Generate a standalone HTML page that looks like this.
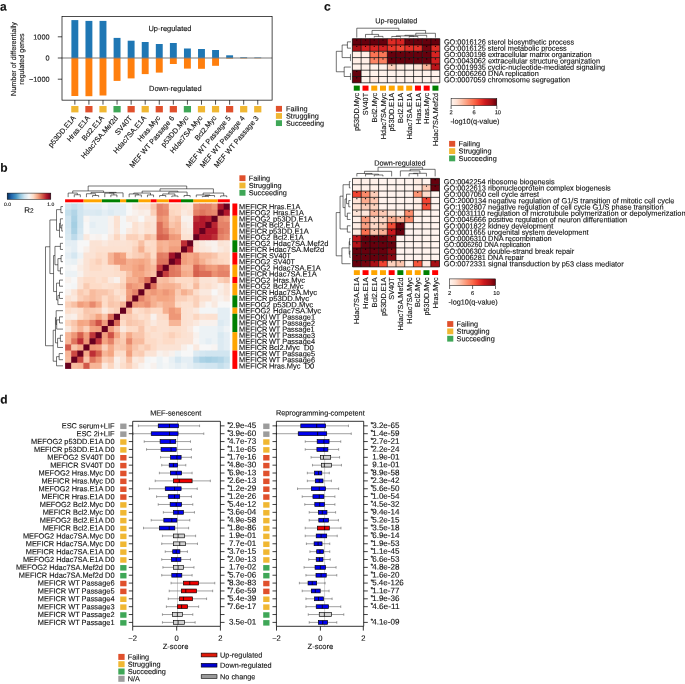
<!DOCTYPE html>
<html lang="en"><head><meta charset="utf-8"><title>Figure</title>
<style>
html,body{margin:0;padding:0;background:#fff;}
body{width:685px;height:684px;overflow:hidden;}
svg{display:block;font-family:"Liberation Sans",sans-serif;fill:#111;text-rendering:geometricPrecision;}
text{stroke:#111;stroke-width:0.12px;}
</style></head><body>
<svg width="685" height="684" viewBox="0 0 685 684">
<text x="0.10" y="10.50" font-size="12" font-weight="bold" transform="rotate(0.03 0.10 10.50)">a</text>
<rect x="71.40" y="20.10" width="6.90" height="37.90" fill="#1f77b4"/>
<rect x="71.40" y="58.00" width="6.90" height="38.00" fill="#ff7f0e"/>
<rect x="85.47" y="20.90" width="6.90" height="37.10" fill="#1f77b4"/>
<rect x="85.47" y="58.00" width="6.90" height="38.20" fill="#ff7f0e"/>
<rect x="99.54" y="20.90" width="6.90" height="37.10" fill="#1f77b4"/>
<rect x="99.54" y="58.00" width="6.90" height="37.50" fill="#ff7f0e"/>
<rect x="113.61" y="37.90" width="6.90" height="20.10" fill="#1f77b4"/>
<rect x="113.61" y="58.00" width="6.90" height="22.90" fill="#ff7f0e"/>
<rect x="127.68" y="40.70" width="6.90" height="17.30" fill="#1f77b4"/>
<rect x="127.68" y="58.00" width="6.90" height="20.40" fill="#ff7f0e"/>
<rect x="141.75" y="42.00" width="6.90" height="16.00" fill="#1f77b4"/>
<rect x="141.75" y="58.00" width="6.90" height="16.10" fill="#ff7f0e"/>
<rect x="155.82" y="44.00" width="6.90" height="14.00" fill="#1f77b4"/>
<rect x="155.82" y="58.00" width="6.90" height="14.60" fill="#ff7f0e"/>
<rect x="169.89" y="43.00" width="6.90" height="15.00" fill="#1f77b4"/>
<rect x="169.89" y="58.00" width="6.90" height="6.00" fill="#ff7f0e"/>
<rect x="183.96" y="48.50" width="6.90" height="9.50" fill="#1f77b4"/>
<rect x="183.96" y="58.00" width="6.90" height="10.60" fill="#ff7f0e"/>
<rect x="198.03" y="49.00" width="6.90" height="9.00" fill="#1f77b4"/>
<rect x="198.03" y="58.00" width="6.90" height="10.80" fill="#ff7f0e"/>
<rect x="212.10" y="50.00" width="6.90" height="8.00" fill="#1f77b4"/>
<rect x="212.10" y="58.00" width="6.90" height="7.80" fill="#ff7f0e"/>
<rect x="226.17" y="55.30" width="6.90" height="2.70" fill="#1f77b4"/>
<rect x="226.17" y="58.00" width="6.90" height="0.60" fill="#ff7f0e"/>
<rect x="240.24" y="57.30" width="6.90" height="0.70" fill="#1f77b4"/>
<rect x="240.24" y="58.00" width="6.90" height="0.40" fill="#ff7f0e"/>
<rect x="254.31" y="57.50" width="6.90" height="0.50" fill="#1f77b4"/>
<rect x="254.31" y="58.00" width="6.90" height="0.30" fill="#ff7f0e"/>
<line x1="62.00" y1="58.00" x2="272.10" y2="58.00" stroke="#7a7a7a" stroke-width="1.2"/>
<rect x="62.00" y="16.60" width="210.10" height="83.55" fill="none" stroke="#000" stroke-width="0.7"/>
<line x1="74.85" y1="100.15" x2="74.85" y2="104.65" stroke="#000" stroke-width="0.7"/>
<rect x="71.25" y="106.00" width="7.20" height="6.40" fill="#f0b732"/>
<text x="76.25" y="118.30" font-size="7.3" text-anchor="end" transform="rotate(-50 76.25 118.30)">p53DD.E1A</text>
<line x1="88.92" y1="100.15" x2="88.92" y2="104.65" stroke="#000" stroke-width="0.7"/>
<rect x="85.32" y="106.00" width="7.20" height="6.40" fill="#e0502c"/>
<text x="90.32" y="118.30" font-size="7.3" text-anchor="end" transform="rotate(-50 90.32 118.30)">Hras.E1A</text>
<line x1="102.99" y1="100.15" x2="102.99" y2="104.65" stroke="#000" stroke-width="0.7"/>
<rect x="99.39" y="106.00" width="7.20" height="6.40" fill="#f0b732"/>
<text x="104.39" y="118.30" font-size="7.3" text-anchor="end" transform="rotate(-50 104.39 118.30)">Bcl2.E1A</text>
<line x1="117.06" y1="100.15" x2="117.06" y2="104.65" stroke="#000" stroke-width="0.7"/>
<rect x="113.46" y="106.00" width="7.20" height="6.40" fill="#3fa757"/>
<text x="118.46" y="118.30" font-size="7.3" text-anchor="end" transform="rotate(-50 118.46 118.30)">Hdac7SA.Mef2d</text>
<line x1="131.13" y1="100.15" x2="131.13" y2="104.65" stroke="#000" stroke-width="0.7"/>
<rect x="127.53" y="106.00" width="7.20" height="6.40" fill="#e0502c"/>
<text x="132.53" y="118.30" font-size="7.3" text-anchor="end" transform="rotate(-50 132.53 118.30)">SV40T</text>
<line x1="145.20" y1="100.15" x2="145.20" y2="104.65" stroke="#000" stroke-width="0.7"/>
<rect x="141.60" y="106.00" width="7.20" height="6.40" fill="#f0b732"/>
<text x="146.60" y="118.30" font-size="7.3" text-anchor="end" transform="rotate(-50 146.60 118.30)">Hdac7SA.E1A</text>
<line x1="159.27" y1="100.15" x2="159.27" y2="104.65" stroke="#000" stroke-width="0.7"/>
<rect x="155.67" y="106.00" width="7.20" height="6.40" fill="#e0502c"/>
<text x="160.67" y="118.30" font-size="7.3" text-anchor="end" transform="rotate(-50 160.67 118.30)">Hras.Myc</text>
<line x1="173.34" y1="100.15" x2="173.34" y2="104.65" stroke="#000" stroke-width="0.7"/>
<rect x="169.74" y="106.00" width="7.20" height="6.40" fill="#e0502c"/>
<text x="174.74" y="118.30" font-size="7.3" text-anchor="end" transform="rotate(-50 174.74 118.30)">MEF WT Passage 6</text>
<line x1="187.41" y1="100.15" x2="187.41" y2="104.65" stroke="#000" stroke-width="0.7"/>
<rect x="183.81" y="106.00" width="7.20" height="6.40" fill="#3fa757"/>
<text x="188.81" y="118.30" font-size="7.3" text-anchor="end" transform="rotate(-50 188.81 118.30)">p53DD.Myc</text>
<line x1="201.48" y1="100.15" x2="201.48" y2="104.65" stroke="#000" stroke-width="0.7"/>
<rect x="197.88" y="106.00" width="7.20" height="6.40" fill="#f0b732"/>
<text x="202.88" y="118.30" font-size="7.3" text-anchor="end" transform="rotate(-50 202.88 118.30)">Hdac7SA.Myc</text>
<line x1="215.55" y1="100.15" x2="215.55" y2="104.65" stroke="#000" stroke-width="0.7"/>
<rect x="211.95" y="106.00" width="7.20" height="6.40" fill="#f0b732"/>
<text x="216.95" y="118.30" font-size="7.3" text-anchor="end" transform="rotate(-50 216.95 118.30)">Bcl2.Myc</text>
<line x1="229.62" y1="100.15" x2="229.62" y2="104.65" stroke="#000" stroke-width="0.7"/>
<rect x="226.02" y="106.00" width="7.20" height="6.40" fill="#e0502c"/>
<text x="231.02" y="118.30" font-size="7.3" text-anchor="end" transform="rotate(-50 231.02 118.30)">MEF WT Passage 5</text>
<line x1="243.69" y1="100.15" x2="243.69" y2="104.65" stroke="#000" stroke-width="0.7"/>
<rect x="240.09" y="106.00" width="7.20" height="6.40" fill="#f0b732"/>
<text x="245.09" y="118.30" font-size="7.3" text-anchor="end" transform="rotate(-50 245.09 118.30)">MEF WT Passage 4</text>
<line x1="257.76" y1="100.15" x2="257.76" y2="104.65" stroke="#000" stroke-width="0.7"/>
<rect x="254.16" y="106.00" width="7.20" height="6.40" fill="#f0b732"/>
<text x="259.16" y="118.30" font-size="7.3" text-anchor="end" transform="rotate(-50 259.16 118.30)">MEF WT Passage 3</text>
<line x1="57.80" y1="36.80" x2="62.00" y2="36.80" stroke="#000" stroke-width="0.7"/>
<text x="49.50" y="39.40" font-size="7.3" text-anchor="end" transform="rotate(0.03 49.50 39.40)">1000</text>
<line x1="57.80" y1="58.00" x2="62.00" y2="58.00" stroke="#000" stroke-width="0.7"/>
<text x="49.50" y="60.60" font-size="7.3" text-anchor="end" transform="rotate(0.03 49.50 60.60)">0</text>
<line x1="57.80" y1="79.20" x2="62.00" y2="79.20" stroke="#000" stroke-width="0.7"/>
<text x="49.50" y="81.80" font-size="7.3" text-anchor="end" transform="rotate(0.03 49.50 81.80)">−1000</text>
<text x="16.40" y="59.00" font-size="7.3" text-anchor="middle" transform="rotate(-90 16.40 59.00)" textLength="73.9" lengthAdjust="spacingAndGlyphs">Number of differentially</text>
<text x="24.00" y="59.00" font-size="7.3" text-anchor="middle" transform="rotate(-90 24.00 59.00)" textLength="51.3" lengthAdjust="spacingAndGlyphs">regulated genes</text>
<text x="170.00" y="30.90" font-size="7.45" text-anchor="middle" transform="rotate(0.03 170.00 30.90)">Up-regulated</text>
<text x="175.30" y="91.00" font-size="7.45" text-anchor="middle" transform="rotate(0.03 175.30 91.00)">Down-regulated</text>
<rect x="275.90" y="105.90" width="6.10" height="5.80" fill="#e0502c"/>
<text x="286.00" y="111.30" font-size="7.3" transform="rotate(0.03 286.00 111.30)">Failing</text>
<rect x="275.90" y="113.07" width="6.10" height="5.80" fill="#f0b732"/>
<text x="286.00" y="118.47" font-size="7.3" transform="rotate(0.03 286.00 118.47)">Struggling</text>
<rect x="275.90" y="120.24" width="6.10" height="5.80" fill="#3fa757"/>
<text x="286.00" y="125.64" font-size="7.3" transform="rotate(0.03 286.00 125.64)">Succeeding</text>
<text x="0.30" y="171.70" font-size="12" font-weight="bold" transform="rotate(0.03 0.30 171.70)">b</text>
<defs><linearGradient id="gRdBu" x1="0" x2="1" y1="0" y2="0"><stop offset="0%" stop-color="#053061"/><stop offset="10%" stop-color="#2166ac"/><stop offset="20%" stop-color="#4393c3"/><stop offset="30%" stop-color="#92c5de"/><stop offset="40%" stop-color="#d1e5f0"/><stop offset="50%" stop-color="#f7f7f7"/><stop offset="60%" stop-color="#fddbc7"/><stop offset="70%" stop-color="#f4a582"/><stop offset="80%" stop-color="#d6604d"/><stop offset="90%" stop-color="#b2182b"/><stop offset="100%" stop-color="#67001f"/></linearGradient><linearGradient id="gReds" x1="0" x2="1" y1="0" y2="0"><stop offset="0.0%" stop-color="#fff5f0"/><stop offset="12.5%" stop-color="#fee0d2"/><stop offset="25.0%" stop-color="#fcbba1"/><stop offset="37.5%" stop-color="#fc9272"/><stop offset="50.0%" stop-color="#fb6a4a"/><stop offset="62.5%" stop-color="#ef3b2c"/><stop offset="75.0%" stop-color="#cb181d"/><stop offset="87.5%" stop-color="#a50f15"/><stop offset="100.0%" stop-color="#67000d"/></linearGradient></defs>
<rect x="7.20" y="193.10" width="43.60" height="6.20" fill="url(#gRdBu)" stroke="#000" stroke-width="0.5"/>
<text x="7.60" y="206.10" font-size="5.0" text-anchor="middle" transform="rotate(0.03 7.60 206.10)">0.0</text>
<text x="50.80" y="206.10" font-size="5.0" text-anchor="middle" transform="rotate(0.03 50.80 206.10)">1.0</text>
<text x="24.3" y="212.7" font-size="8" transform="rotate(0.03 24 212)">R<tspan font-size="6.5">2</tspan></text>
<rect x="65.10" y="203.50" width="6.70" height="6.73" fill="#d1e5f0"/>
<rect x="71.20" y="203.50" width="6.70" height="6.73" fill="#c4dfec"/>
<rect x="77.30" y="203.50" width="6.70" height="6.73" fill="#d1e5f0"/>
<rect x="83.40" y="203.50" width="6.70" height="6.73" fill="#e4eef4"/>
<rect x="89.50" y="203.50" width="6.70" height="6.73" fill="#e4eef4"/>
<rect x="95.60" y="203.50" width="6.70" height="6.73" fill="#e4eef4"/>
<rect x="101.70" y="203.50" width="6.70" height="6.73" fill="#eff3f6"/>
<rect x="107.80" y="203.50" width="6.70" height="6.73" fill="#e4eef4"/>
<rect x="113.90" y="203.50" width="6.70" height="6.73" fill="#e4eef4"/>
<rect x="120.00" y="203.50" width="6.70" height="6.73" fill="#e4eef4"/>
<rect x="126.10" y="203.50" width="6.70" height="6.73" fill="#f7f7f7"/>
<rect x="132.20" y="203.50" width="6.70" height="6.73" fill="#fae9df"/>
<rect x="138.30" y="203.50" width="6.70" height="6.73" fill="#fbe3d5"/>
<rect x="144.40" y="203.50" width="6.70" height="6.73" fill="#fbe3d5"/>
<rect x="150.50" y="203.50" width="6.70" height="6.73" fill="#f9c5ab"/>
<rect x="156.60" y="203.50" width="6.70" height="6.73" fill="#e58268"/>
<rect x="162.70" y="203.50" width="6.70" height="6.73" fill="#eb9072"/>
<rect x="168.80" y="203.50" width="6.70" height="6.73" fill="#fddbc7"/>
<rect x="174.90" y="203.50" width="6.70" height="6.73" fill="#fddbc7"/>
<rect x="181.00" y="203.50" width="6.70" height="6.73" fill="#fbe3d5"/>
<rect x="187.10" y="203.50" width="6.70" height="6.73" fill="#fbe6da"/>
<rect x="193.20" y="203.50" width="6.70" height="6.73" fill="#eb9072"/>
<rect x="199.30" y="203.50" width="6.70" height="6.73" fill="#e58268"/>
<rect x="205.40" y="203.50" width="6.70" height="6.73" fill="#e58268"/>
<rect x="211.50" y="203.50" width="6.70" height="6.73" fill="#ee9777"/>
<rect x="217.60" y="203.50" width="6.70" height="6.73" fill="#b2182b"/>
<rect x="223.70" y="203.50" width="6.10" height="6.73" fill="#67001f"/>
<rect x="65.10" y="209.63" width="6.70" height="6.73" fill="#c4dfec"/>
<rect x="71.20" y="209.63" width="6.70" height="6.73" fill="#b2d5e7"/>
<rect x="77.30" y="209.63" width="6.70" height="6.73" fill="#d1e5f0"/>
<rect x="83.40" y="209.63" width="6.70" height="6.73" fill="#dceaf2"/>
<rect x="89.50" y="209.63" width="6.70" height="6.73" fill="#dceaf2"/>
<rect x="95.60" y="209.63" width="6.70" height="6.73" fill="#d9e9f1"/>
<rect x="101.70" y="209.63" width="6.70" height="6.73" fill="#e4eef4"/>
<rect x="107.80" y="209.63" width="6.70" height="6.73" fill="#dceaf2"/>
<rect x="113.90" y="209.63" width="6.70" height="6.73" fill="#e4eef4"/>
<rect x="120.00" y="209.63" width="6.70" height="6.73" fill="#e4eef4"/>
<rect x="126.10" y="209.63" width="6.70" height="6.73" fill="#f7f7f7"/>
<rect x="132.20" y="209.63" width="6.70" height="6.73" fill="#f8f1ed"/>
<rect x="138.30" y="209.63" width="6.70" height="6.73" fill="#f9ece4"/>
<rect x="144.40" y="209.63" width="6.70" height="6.73" fill="#f9efe9"/>
<rect x="150.50" y="209.63" width="6.70" height="6.73" fill="#fbd0b9"/>
<rect x="156.60" y="209.63" width="6.70" height="6.73" fill="#e58268"/>
<rect x="162.70" y="209.63" width="6.70" height="6.73" fill="#e8896d"/>
<rect x="168.80" y="209.63" width="6.70" height="6.73" fill="#fcd6c0"/>
<rect x="174.90" y="209.63" width="6.70" height="6.73" fill="#fddbc7"/>
<rect x="181.00" y="209.63" width="6.70" height="6.73" fill="#fae9df"/>
<rect x="187.10" y="209.63" width="6.70" height="6.73" fill="#fbe3d5"/>
<rect x="193.20" y="209.63" width="6.70" height="6.73" fill="#e58268"/>
<rect x="199.30" y="209.63" width="6.70" height="6.73" fill="#df755d"/>
<rect x="205.40" y="209.63" width="6.70" height="6.73" fill="#e58268"/>
<rect x="211.50" y="209.63" width="6.70" height="6.73" fill="#e8896d"/>
<rect x="217.60" y="209.63" width="6.70" height="6.73" fill="#67001f"/>
<rect x="223.70" y="209.63" width="6.10" height="6.73" fill="#b2182b"/>
<rect x="65.10" y="215.75" width="6.70" height="6.73" fill="#d1e5f0"/>
<rect x="71.20" y="215.75" width="6.70" height="6.73" fill="#abd2e5"/>
<rect x="77.30" y="215.75" width="6.70" height="6.73" fill="#d1e5f0"/>
<rect x="83.40" y="215.75" width="6.70" height="6.73" fill="#f8f4f2"/>
<rect x="89.50" y="215.75" width="6.70" height="6.73" fill="#ecf2f5"/>
<rect x="95.60" y="215.75" width="6.70" height="6.73" fill="#ecf2f5"/>
<rect x="101.70" y="215.75" width="6.70" height="6.73" fill="#ecf2f5"/>
<rect x="107.80" y="215.75" width="6.70" height="6.73" fill="#f8f1ed"/>
<rect x="113.90" y="215.75" width="6.70" height="6.73" fill="#fce1d1"/>
<rect x="120.00" y="215.75" width="6.70" height="6.73" fill="#f3f5f6"/>
<rect x="126.10" y="215.75" width="6.70" height="6.73" fill="#fae9df"/>
<rect x="132.20" y="215.75" width="6.70" height="6.73" fill="#f9ece4"/>
<rect x="138.30" y="215.75" width="6.70" height="6.73" fill="#f7f7f7"/>
<rect x="144.40" y="215.75" width="6.70" height="6.73" fill="#fbe6da"/>
<rect x="150.50" y="215.75" width="6.70" height="6.73" fill="#fbe6da"/>
<rect x="156.60" y="215.75" width="6.70" height="6.73" fill="#eb9072"/>
<rect x="162.70" y="215.75" width="6.70" height="6.73" fill="#f19e7d"/>
<rect x="168.80" y="215.75" width="6.70" height="6.73" fill="#fbd0b9"/>
<rect x="174.90" y="215.75" width="6.70" height="6.73" fill="#f9c5ab"/>
<rect x="181.00" y="215.75" width="6.70" height="6.73" fill="#f8f1ed"/>
<rect x="187.10" y="215.75" width="6.70" height="6.73" fill="#f8f1ed"/>
<rect x="193.20" y="215.75" width="6.70" height="6.73" fill="#bd2e35"/>
<rect x="199.30" y="215.75" width="6.70" height="6.73" fill="#b2182b"/>
<rect x="205.40" y="215.75" width="6.70" height="6.73" fill="#b92632"/>
<rect x="211.50" y="215.75" width="6.70" height="6.73" fill="#67001f"/>
<rect x="217.60" y="215.75" width="6.70" height="6.73" fill="#e8896d"/>
<rect x="223.70" y="215.75" width="6.10" height="6.73" fill="#ee9777"/>
<rect x="65.10" y="221.88" width="6.70" height="6.73" fill="#d1e5f0"/>
<rect x="71.20" y="221.88" width="6.70" height="6.73" fill="#a5cfe3"/>
<rect x="77.30" y="221.88" width="6.70" height="6.73" fill="#d1e5f0"/>
<rect x="83.40" y="221.88" width="6.70" height="6.73" fill="#f7f7f7"/>
<rect x="89.50" y="221.88" width="6.70" height="6.73" fill="#e4eef4"/>
<rect x="95.60" y="221.88" width="6.70" height="6.73" fill="#ecf2f5"/>
<rect x="101.70" y="221.88" width="6.70" height="6.73" fill="#ecf2f5"/>
<rect x="107.80" y="221.88" width="6.70" height="6.73" fill="#f8f1ed"/>
<rect x="113.90" y="221.88" width="6.70" height="6.73" fill="#fce1d1"/>
<rect x="120.00" y="221.88" width="6.70" height="6.73" fill="#f3f5f6"/>
<rect x="126.10" y="221.88" width="6.70" height="6.73" fill="#f8f4f2"/>
<rect x="132.20" y="221.88" width="6.70" height="6.73" fill="#fce1d1"/>
<rect x="138.30" y="221.88" width="6.70" height="6.73" fill="#fae9df"/>
<rect x="144.40" y="221.88" width="6.70" height="6.73" fill="#fcdecc"/>
<rect x="150.50" y="221.88" width="6.70" height="6.73" fill="#fbe3d5"/>
<rect x="156.60" y="221.88" width="6.70" height="6.73" fill="#dc6e58"/>
<rect x="162.70" y="221.88" width="6.70" height="6.73" fill="#ee9777"/>
<rect x="168.80" y="221.88" width="6.70" height="6.73" fill="#f9c5ab"/>
<rect x="174.90" y="221.88" width="6.70" height="6.73" fill="#f8bb9e"/>
<rect x="181.00" y="221.88" width="6.70" height="6.73" fill="#fae9df"/>
<rect x="187.10" y="221.88" width="6.70" height="6.73" fill="#f9efe9"/>
<rect x="193.20" y="221.88" width="6.70" height="6.73" fill="#b2182b"/>
<rect x="199.30" y="221.88" width="6.70" height="6.73" fill="#b2182b"/>
<rect x="205.40" y="221.88" width="6.70" height="6.73" fill="#67001f"/>
<rect x="211.50" y="221.88" width="6.70" height="6.73" fill="#b92632"/>
<rect x="217.60" y="221.88" width="6.70" height="6.73" fill="#e58268"/>
<rect x="223.70" y="221.88" width="6.10" height="6.73" fill="#e58268"/>
<rect x="65.10" y="228.00" width="6.70" height="6.73" fill="#d5e7f1"/>
<rect x="71.20" y="228.00" width="6.70" height="6.73" fill="#abd2e5"/>
<rect x="77.30" y="228.00" width="6.70" height="6.73" fill="#d5e7f1"/>
<rect x="83.40" y="228.00" width="6.70" height="6.73" fill="#f7f7f7"/>
<rect x="89.50" y="228.00" width="6.70" height="6.73" fill="#ecf2f5"/>
<rect x="95.60" y="228.00" width="6.70" height="6.73" fill="#ecf2f5"/>
<rect x="101.70" y="228.00" width="6.70" height="6.73" fill="#ecf2f5"/>
<rect x="107.80" y="228.00" width="6.70" height="6.73" fill="#f8f1ed"/>
<rect x="113.90" y="228.00" width="6.70" height="6.73" fill="#fbe3d5"/>
<rect x="120.00" y="228.00" width="6.70" height="6.73" fill="#f3f5f6"/>
<rect x="126.10" y="228.00" width="6.70" height="6.73" fill="#fae9df"/>
<rect x="132.20" y="228.00" width="6.70" height="6.73" fill="#fce1d1"/>
<rect x="138.30" y="228.00" width="6.70" height="6.73" fill="#fae9df"/>
<rect x="144.40" y="228.00" width="6.70" height="6.73" fill="#fce1d1"/>
<rect x="150.50" y="228.00" width="6.70" height="6.73" fill="#fbe3d5"/>
<rect x="156.60" y="228.00" width="6.70" height="6.73" fill="#dc6e58"/>
<rect x="162.70" y="228.00" width="6.70" height="6.73" fill="#e58268"/>
<rect x="168.80" y="228.00" width="6.70" height="6.73" fill="#f6b090"/>
<rect x="174.90" y="228.00" width="6.70" height="6.73" fill="#f8bb9e"/>
<rect x="181.00" y="228.00" width="6.70" height="6.73" fill="#fbe6da"/>
<rect x="187.10" y="228.00" width="6.70" height="6.73" fill="#fae9df"/>
<rect x="193.20" y="228.00" width="6.70" height="6.73" fill="#b2182b"/>
<rect x="199.30" y="228.00" width="6.70" height="6.73" fill="#67001f"/>
<rect x="205.40" y="228.00" width="6.70" height="6.73" fill="#b2182b"/>
<rect x="211.50" y="228.00" width="6.70" height="6.73" fill="#b2182b"/>
<rect x="217.60" y="228.00" width="6.70" height="6.73" fill="#df755d"/>
<rect x="223.70" y="228.00" width="6.10" height="6.73" fill="#e58268"/>
<rect x="65.10" y="234.13" width="6.70" height="6.73" fill="#d9e9f1"/>
<rect x="71.20" y="234.13" width="6.70" height="6.73" fill="#bedbeb"/>
<rect x="77.30" y="234.13" width="6.70" height="6.73" fill="#dceaf2"/>
<rect x="83.40" y="234.13" width="6.70" height="6.73" fill="#fae9df"/>
<rect x="89.50" y="234.13" width="6.70" height="6.73" fill="#f8f4f2"/>
<rect x="95.60" y="234.13" width="6.70" height="6.73" fill="#f8f1ed"/>
<rect x="101.70" y="234.13" width="6.70" height="6.73" fill="#f7f7f7"/>
<rect x="107.80" y="234.13" width="6.70" height="6.73" fill="#fae9df"/>
<rect x="113.90" y="234.13" width="6.70" height="6.73" fill="#fcd6c0"/>
<rect x="120.00" y="234.13" width="6.70" height="6.73" fill="#fae9df"/>
<rect x="126.10" y="234.13" width="6.70" height="6.73" fill="#fbd0b9"/>
<rect x="132.20" y="234.13" width="6.70" height="6.73" fill="#fbd0b9"/>
<rect x="138.30" y="234.13" width="6.70" height="6.73" fill="#fcdecc"/>
<rect x="144.40" y="234.13" width="6.70" height="6.73" fill="#f8bb9e"/>
<rect x="150.50" y="234.13" width="6.70" height="6.73" fill="#facbb2"/>
<rect x="156.60" y="234.13" width="6.70" height="6.73" fill="#d6604d"/>
<rect x="162.70" y="234.13" width="6.70" height="6.73" fill="#d96752"/>
<rect x="168.80" y="234.13" width="6.70" height="6.73" fill="#ee9777"/>
<rect x="174.90" y="234.13" width="6.70" height="6.73" fill="#f19e7d"/>
<rect x="181.00" y="234.13" width="6.70" height="6.73" fill="#fce1d1"/>
<rect x="187.10" y="234.13" width="6.70" height="6.73" fill="#fce1d1"/>
<rect x="193.20" y="234.13" width="6.70" height="6.73" fill="#67001f"/>
<rect x="199.30" y="234.13" width="6.70" height="6.73" fill="#b2182b"/>
<rect x="205.40" y="234.13" width="6.70" height="6.73" fill="#b2182b"/>
<rect x="211.50" y="234.13" width="6.70" height="6.73" fill="#bd2e35"/>
<rect x="217.60" y="234.13" width="6.70" height="6.73" fill="#e58268"/>
<rect x="223.70" y="234.13" width="6.10" height="6.73" fill="#eb9072"/>
<rect x="65.10" y="240.26" width="6.70" height="6.73" fill="#e4eef4"/>
<rect x="71.20" y="240.26" width="6.70" height="6.73" fill="#e4eef4"/>
<rect x="77.30" y="240.26" width="6.70" height="6.73" fill="#f7f7f7"/>
<rect x="83.40" y="240.26" width="6.70" height="6.73" fill="#f7f7f7"/>
<rect x="89.50" y="240.26" width="6.70" height="6.73" fill="#fbe3d5"/>
<rect x="95.60" y="240.26" width="6.70" height="6.73" fill="#fbe3d5"/>
<rect x="101.70" y="240.26" width="6.70" height="6.73" fill="#fae9df"/>
<rect x="107.80" y="240.26" width="6.70" height="6.73" fill="#fbe3d5"/>
<rect x="113.90" y="240.26" width="6.70" height="6.73" fill="#fbe3d5"/>
<rect x="120.00" y="240.26" width="6.70" height="6.73" fill="#fbe3d5"/>
<rect x="126.10" y="240.26" width="6.70" height="6.73" fill="#fce1d1"/>
<rect x="132.20" y="240.26" width="6.70" height="6.73" fill="#fddbc7"/>
<rect x="138.30" y="240.26" width="6.70" height="6.73" fill="#f8c0a4"/>
<rect x="144.40" y="240.26" width="6.70" height="6.73" fill="#fcdecc"/>
<rect x="150.50" y="240.26" width="6.70" height="6.73" fill="#fddbc7"/>
<rect x="156.60" y="240.26" width="6.70" height="6.73" fill="#f6b090"/>
<rect x="162.70" y="240.26" width="6.70" height="6.73" fill="#f7b597"/>
<rect x="168.80" y="240.26" width="6.70" height="6.73" fill="#f5aa89"/>
<rect x="174.90" y="240.26" width="6.70" height="6.73" fill="#f5aa89"/>
<rect x="181.00" y="240.26" width="6.70" height="6.73" fill="#bd2e35"/>
<rect x="187.10" y="240.26" width="6.70" height="6.73" fill="#67001f"/>
<rect x="193.20" y="240.26" width="6.70" height="6.73" fill="#fce1d1"/>
<rect x="199.30" y="240.26" width="6.70" height="6.73" fill="#fae9df"/>
<rect x="205.40" y="240.26" width="6.70" height="6.73" fill="#f9efe9"/>
<rect x="211.50" y="240.26" width="6.70" height="6.73" fill="#f8f1ed"/>
<rect x="217.60" y="240.26" width="6.70" height="6.73" fill="#fbe3d5"/>
<rect x="223.70" y="240.26" width="6.10" height="6.73" fill="#fbe6da"/>
<rect x="65.10" y="246.38" width="6.70" height="6.73" fill="#ecf2f5"/>
<rect x="71.20" y="246.38" width="6.70" height="6.73" fill="#e4eef4"/>
<rect x="77.30" y="246.38" width="6.70" height="6.73" fill="#f7f7f7"/>
<rect x="83.40" y="246.38" width="6.70" height="6.73" fill="#f9efe9"/>
<rect x="89.50" y="246.38" width="6.70" height="6.73" fill="#fbe3d5"/>
<rect x="95.60" y="246.38" width="6.70" height="6.73" fill="#fce1d1"/>
<rect x="101.70" y="246.38" width="6.70" height="6.73" fill="#fce1d1"/>
<rect x="107.80" y="246.38" width="6.70" height="6.73" fill="#fce1d1"/>
<rect x="113.90" y="246.38" width="6.70" height="6.73" fill="#fce1d1"/>
<rect x="120.00" y="246.38" width="6.70" height="6.73" fill="#fce1d1"/>
<rect x="126.10" y="246.38" width="6.70" height="6.73" fill="#fce1d1"/>
<rect x="132.20" y="246.38" width="6.70" height="6.73" fill="#fbd0b9"/>
<rect x="138.30" y="246.38" width="6.70" height="6.73" fill="#f6b090"/>
<rect x="144.40" y="246.38" width="6.70" height="6.73" fill="#fcd6c0"/>
<rect x="150.50" y="246.38" width="6.70" height="6.73" fill="#fddbc7"/>
<rect x="156.60" y="246.38" width="6.70" height="6.73" fill="#f5aa89"/>
<rect x="162.70" y="246.38" width="6.70" height="6.73" fill="#f7b597"/>
<rect x="168.80" y="246.38" width="6.70" height="6.73" fill="#f19e7d"/>
<rect x="174.90" y="246.38" width="6.70" height="6.73" fill="#f19e7d"/>
<rect x="181.00" y="246.38" width="6.70" height="6.73" fill="#67001f"/>
<rect x="187.10" y="246.38" width="6.70" height="6.73" fill="#bd2e35"/>
<rect x="193.20" y="246.38" width="6.70" height="6.73" fill="#fce1d1"/>
<rect x="199.30" y="246.38" width="6.70" height="6.73" fill="#fbe6da"/>
<rect x="205.40" y="246.38" width="6.70" height="6.73" fill="#fae9df"/>
<rect x="211.50" y="246.38" width="6.70" height="6.73" fill="#f8f1ed"/>
<rect x="217.60" y="246.38" width="6.70" height="6.73" fill="#fae9df"/>
<rect x="223.70" y="246.38" width="6.10" height="6.73" fill="#fbe3d5"/>
<rect x="65.10" y="252.51" width="6.70" height="6.73" fill="#e4eef4"/>
<rect x="71.20" y="252.51" width="6.70" height="6.73" fill="#d5e7f1"/>
<rect x="77.30" y="252.51" width="6.70" height="6.73" fill="#ecf2f5"/>
<rect x="83.40" y="252.51" width="6.70" height="6.73" fill="#fbe3d5"/>
<rect x="89.50" y="252.51" width="6.70" height="6.73" fill="#fbe3d5"/>
<rect x="95.60" y="252.51" width="6.70" height="6.73" fill="#fddbc7"/>
<rect x="101.70" y="252.51" width="6.70" height="6.73" fill="#fcdecc"/>
<rect x="107.80" y="252.51" width="6.70" height="6.73" fill="#f7b597"/>
<rect x="113.90" y="252.51" width="6.70" height="6.73" fill="#ee9777"/>
<rect x="120.00" y="252.51" width="6.70" height="6.73" fill="#f4a582"/>
<rect x="126.10" y="252.51" width="6.70" height="6.73" fill="#fddbc7"/>
<rect x="132.20" y="252.51" width="6.70" height="6.73" fill="#fbd0b9"/>
<rect x="138.30" y="252.51" width="6.70" height="6.73" fill="#facbb2"/>
<rect x="144.40" y="252.51" width="6.70" height="6.73" fill="#f8bb9e"/>
<rect x="150.50" y="252.51" width="6.70" height="6.73" fill="#fddbc7"/>
<rect x="156.60" y="252.51" width="6.70" height="6.73" fill="#e27c62"/>
<rect x="162.70" y="252.51" width="6.70" height="6.73" fill="#e58268"/>
<rect x="168.80" y="252.51" width="6.70" height="6.73" fill="#a31329"/>
<rect x="174.90" y="252.51" width="6.70" height="6.73" fill="#67001f"/>
<rect x="181.00" y="252.51" width="6.70" height="6.73" fill="#f19e7d"/>
<rect x="187.10" y="252.51" width="6.70" height="6.73" fill="#f5aa89"/>
<rect x="193.20" y="252.51" width="6.70" height="6.73" fill="#f19e7d"/>
<rect x="199.30" y="252.51" width="6.70" height="6.73" fill="#f8bb9e"/>
<rect x="205.40" y="252.51" width="6.70" height="6.73" fill="#f8bb9e"/>
<rect x="211.50" y="252.51" width="6.70" height="6.73" fill="#f9c5ab"/>
<rect x="217.60" y="252.51" width="6.70" height="6.73" fill="#fddbc7"/>
<rect x="223.70" y="252.51" width="6.10" height="6.73" fill="#fddbc7"/>
<rect x="65.10" y="258.63" width="6.70" height="6.73" fill="#ecf2f5"/>
<rect x="71.20" y="258.63" width="6.70" height="6.73" fill="#e8f0f4"/>
<rect x="77.30" y="258.63" width="6.70" height="6.73" fill="#f8f1ed"/>
<rect x="83.40" y="258.63" width="6.70" height="6.73" fill="#fbe3d5"/>
<rect x="89.50" y="258.63" width="6.70" height="6.73" fill="#fddbc7"/>
<rect x="95.60" y="258.63" width="6.70" height="6.73" fill="#fbd0b9"/>
<rect x="101.70" y="258.63" width="6.70" height="6.73" fill="#fcdecc"/>
<rect x="107.80" y="258.63" width="6.70" height="6.73" fill="#f7b597"/>
<rect x="113.90" y="258.63" width="6.70" height="6.73" fill="#ee9777"/>
<rect x="120.00" y="258.63" width="6.70" height="6.73" fill="#ee9777"/>
<rect x="126.10" y="258.63" width="6.70" height="6.73" fill="#f6b090"/>
<rect x="132.20" y="258.63" width="6.70" height="6.73" fill="#f5aa89"/>
<rect x="138.30" y="258.63" width="6.70" height="6.73" fill="#f4a582"/>
<rect x="144.40" y="258.63" width="6.70" height="6.73" fill="#f6b090"/>
<rect x="150.50" y="258.63" width="6.70" height="6.73" fill="#facbb2"/>
<rect x="156.60" y="258.63" width="6.70" height="6.73" fill="#df755d"/>
<rect x="162.70" y="258.63" width="6.70" height="6.73" fill="#df755d"/>
<rect x="168.80" y="258.63" width="6.70" height="6.73" fill="#67001f"/>
<rect x="174.90" y="258.63" width="6.70" height="6.73" fill="#a31329"/>
<rect x="181.00" y="258.63" width="6.70" height="6.73" fill="#f19e7d"/>
<rect x="187.10" y="258.63" width="6.70" height="6.73" fill="#f5aa89"/>
<rect x="193.20" y="258.63" width="6.70" height="6.73" fill="#ee9777"/>
<rect x="199.30" y="258.63" width="6.70" height="6.73" fill="#f6b090"/>
<rect x="205.40" y="258.63" width="6.70" height="6.73" fill="#f9c5ab"/>
<rect x="211.50" y="258.63" width="6.70" height="6.73" fill="#fbd0b9"/>
<rect x="217.60" y="258.63" width="6.70" height="6.73" fill="#fcd6c0"/>
<rect x="223.70" y="258.63" width="6.10" height="6.73" fill="#fddbc7"/>
<rect x="65.10" y="264.76" width="6.70" height="6.73" fill="#f3f5f6"/>
<rect x="71.20" y="264.76" width="6.70" height="6.73" fill="#f7f7f7"/>
<rect x="77.30" y="264.76" width="6.70" height="6.73" fill="#f9ece4"/>
<rect x="83.40" y="264.76" width="6.70" height="6.73" fill="#fbe3d5"/>
<rect x="89.50" y="264.76" width="6.70" height="6.73" fill="#fddbc7"/>
<rect x="95.60" y="264.76" width="6.70" height="6.73" fill="#fddbc7"/>
<rect x="101.70" y="264.76" width="6.70" height="6.73" fill="#fce1d1"/>
<rect x="107.80" y="264.76" width="6.70" height="6.73" fill="#fce1d1"/>
<rect x="113.90" y="264.76" width="6.70" height="6.73" fill="#fddbc7"/>
<rect x="120.00" y="264.76" width="6.70" height="6.73" fill="#f6b090"/>
<rect x="126.10" y="264.76" width="6.70" height="6.73" fill="#f6b090"/>
<rect x="132.20" y="264.76" width="6.70" height="6.73" fill="#f4a582"/>
<rect x="138.30" y="264.76" width="6.70" height="6.73" fill="#ee9777"/>
<rect x="144.40" y="264.76" width="6.70" height="6.73" fill="#f6b090"/>
<rect x="150.50" y="264.76" width="6.70" height="6.73" fill="#f8bb9e"/>
<rect x="156.60" y="264.76" width="6.70" height="6.73" fill="#c43c3c"/>
<rect x="162.70" y="264.76" width="6.70" height="6.73" fill="#67001f"/>
<rect x="168.80" y="264.76" width="6.70" height="6.73" fill="#df755d"/>
<rect x="174.90" y="264.76" width="6.70" height="6.73" fill="#e58268"/>
<rect x="181.00" y="264.76" width="6.70" height="6.73" fill="#f7b597"/>
<rect x="187.10" y="264.76" width="6.70" height="6.73" fill="#f7b597"/>
<rect x="193.20" y="264.76" width="6.70" height="6.73" fill="#d96752"/>
<rect x="199.30" y="264.76" width="6.70" height="6.73" fill="#e58268"/>
<rect x="205.40" y="264.76" width="6.70" height="6.73" fill="#ee9777"/>
<rect x="211.50" y="264.76" width="6.70" height="6.73" fill="#f19e7d"/>
<rect x="217.60" y="264.76" width="6.70" height="6.73" fill="#e8896d"/>
<rect x="223.70" y="264.76" width="6.10" height="6.73" fill="#eb9072"/>
<rect x="65.10" y="270.89" width="6.70" height="6.73" fill="#ecf2f5"/>
<rect x="71.20" y="270.89" width="6.70" height="6.73" fill="#ecf2f5"/>
<rect x="77.30" y="270.89" width="6.70" height="6.73" fill="#f8f1ed"/>
<rect x="83.40" y="270.89" width="6.70" height="6.73" fill="#fbe3d5"/>
<rect x="89.50" y="270.89" width="6.70" height="6.73" fill="#fce1d1"/>
<rect x="95.60" y="270.89" width="6.70" height="6.73" fill="#fce1d1"/>
<rect x="101.70" y="270.89" width="6.70" height="6.73" fill="#fce1d1"/>
<rect x="107.80" y="270.89" width="6.70" height="6.73" fill="#fce1d1"/>
<rect x="113.90" y="270.89" width="6.70" height="6.73" fill="#fcdecc"/>
<rect x="120.00" y="270.89" width="6.70" height="6.73" fill="#fddbc7"/>
<rect x="126.10" y="270.89" width="6.70" height="6.73" fill="#f8c0a4"/>
<rect x="132.20" y="270.89" width="6.70" height="6.73" fill="#f4a582"/>
<rect x="138.30" y="270.89" width="6.70" height="6.73" fill="#f4a582"/>
<rect x="144.40" y="270.89" width="6.70" height="6.73" fill="#f7b597"/>
<rect x="150.50" y="270.89" width="6.70" height="6.73" fill="#f8c0a4"/>
<rect x="156.60" y="270.89" width="6.70" height="6.73" fill="#67001f"/>
<rect x="162.70" y="270.89" width="6.70" height="6.73" fill="#c43c3c"/>
<rect x="168.80" y="270.89" width="6.70" height="6.73" fill="#df755d"/>
<rect x="174.90" y="270.89" width="6.70" height="6.73" fill="#e27c62"/>
<rect x="181.00" y="270.89" width="6.70" height="6.73" fill="#f5aa89"/>
<rect x="187.10" y="270.89" width="6.70" height="6.73" fill="#f6b090"/>
<rect x="193.20" y="270.89" width="6.70" height="6.73" fill="#d6604d"/>
<rect x="199.30" y="270.89" width="6.70" height="6.73" fill="#dc6e58"/>
<rect x="205.40" y="270.89" width="6.70" height="6.73" fill="#dc6e58"/>
<rect x="211.50" y="270.89" width="6.70" height="6.73" fill="#eb9072"/>
<rect x="217.60" y="270.89" width="6.70" height="6.73" fill="#e58268"/>
<rect x="223.70" y="270.89" width="6.10" height="6.73" fill="#e58268"/>
<rect x="65.10" y="277.01" width="6.70" height="6.73" fill="#f8f1ed"/>
<rect x="71.20" y="277.01" width="6.70" height="6.73" fill="#f7f7f7"/>
<rect x="77.30" y="277.01" width="6.70" height="6.73" fill="#fbe3d5"/>
<rect x="83.40" y="277.01" width="6.70" height="6.73" fill="#fddbc7"/>
<rect x="89.50" y="277.01" width="6.70" height="6.73" fill="#fddbc7"/>
<rect x="95.60" y="277.01" width="6.70" height="6.73" fill="#fce1d1"/>
<rect x="101.70" y="277.01" width="6.70" height="6.73" fill="#fddbc7"/>
<rect x="107.80" y="277.01" width="6.70" height="6.73" fill="#fae9df"/>
<rect x="113.90" y="277.01" width="6.70" height="6.73" fill="#f8f1ed"/>
<rect x="120.00" y="277.01" width="6.70" height="6.73" fill="#fddbc7"/>
<rect x="126.10" y="277.01" width="6.70" height="6.73" fill="#f6b090"/>
<rect x="132.20" y="277.01" width="6.70" height="6.73" fill="#f6b090"/>
<rect x="138.30" y="277.01" width="6.70" height="6.73" fill="#ee9777"/>
<rect x="144.40" y="277.01" width="6.70" height="6.73" fill="#dc6e58"/>
<rect x="150.50" y="277.01" width="6.70" height="6.73" fill="#67001f"/>
<rect x="156.60" y="277.01" width="6.70" height="6.73" fill="#f8c0a4"/>
<rect x="162.70" y="277.01" width="6.70" height="6.73" fill="#f8bb9e"/>
<rect x="168.80" y="277.01" width="6.70" height="6.73" fill="#facbb2"/>
<rect x="174.90" y="277.01" width="6.70" height="6.73" fill="#fddbc7"/>
<rect x="181.00" y="277.01" width="6.70" height="6.73" fill="#fddbc7"/>
<rect x="187.10" y="277.01" width="6.70" height="6.73" fill="#fddbc7"/>
<rect x="193.20" y="277.01" width="6.70" height="6.73" fill="#facbb2"/>
<rect x="199.30" y="277.01" width="6.70" height="6.73" fill="#fbe3d5"/>
<rect x="205.40" y="277.01" width="6.70" height="6.73" fill="#fbe3d5"/>
<rect x="211.50" y="277.01" width="6.70" height="6.73" fill="#fbe6da"/>
<rect x="217.60" y="277.01" width="6.70" height="6.73" fill="#fbd0b9"/>
<rect x="223.70" y="277.01" width="6.10" height="6.73" fill="#f9c5ab"/>
<rect x="65.10" y="283.14" width="6.70" height="6.73" fill="#f7f7f7"/>
<rect x="71.20" y="283.14" width="6.70" height="6.73" fill="#f3f5f6"/>
<rect x="77.30" y="283.14" width="6.70" height="6.73" fill="#fbe3d5"/>
<rect x="83.40" y="283.14" width="6.70" height="6.73" fill="#facbb2"/>
<rect x="89.50" y="283.14" width="6.70" height="6.73" fill="#fddbc7"/>
<rect x="95.60" y="283.14" width="6.70" height="6.73" fill="#fddbc7"/>
<rect x="101.70" y="283.14" width="6.70" height="6.73" fill="#fce1d1"/>
<rect x="107.80" y="283.14" width="6.70" height="6.73" fill="#fcdecc"/>
<rect x="113.90" y="283.14" width="6.70" height="6.73" fill="#fddbc7"/>
<rect x="120.00" y="283.14" width="6.70" height="6.73" fill="#fbd0b9"/>
<rect x="126.10" y="283.14" width="6.70" height="6.73" fill="#eb9072"/>
<rect x="132.20" y="283.14" width="6.70" height="6.73" fill="#f19e7d"/>
<rect x="138.30" y="283.14" width="6.70" height="6.73" fill="#f4a582"/>
<rect x="144.40" y="283.14" width="6.70" height="6.73" fill="#67001f"/>
<rect x="150.50" y="283.14" width="6.70" height="6.73" fill="#dc6e58"/>
<rect x="156.60" y="283.14" width="6.70" height="6.73" fill="#f7b597"/>
<rect x="162.70" y="283.14" width="6.70" height="6.73" fill="#f6b090"/>
<rect x="168.80" y="283.14" width="6.70" height="6.73" fill="#f6b090"/>
<rect x="174.90" y="283.14" width="6.70" height="6.73" fill="#f8bb9e"/>
<rect x="181.00" y="283.14" width="6.70" height="6.73" fill="#fcd6c0"/>
<rect x="187.10" y="283.14" width="6.70" height="6.73" fill="#fcdecc"/>
<rect x="193.20" y="283.14" width="6.70" height="6.73" fill="#f8bb9e"/>
<rect x="199.30" y="283.14" width="6.70" height="6.73" fill="#fce1d1"/>
<rect x="205.40" y="283.14" width="6.70" height="6.73" fill="#fcdecc"/>
<rect x="211.50" y="283.14" width="6.70" height="6.73" fill="#fbe6da"/>
<rect x="217.60" y="283.14" width="6.70" height="6.73" fill="#f9efe9"/>
<rect x="223.70" y="283.14" width="6.10" height="6.73" fill="#fbe3d5"/>
<rect x="65.10" y="289.26" width="6.70" height="6.73" fill="#f8f1ed"/>
<rect x="71.20" y="289.26" width="6.70" height="6.73" fill="#fbe3d5"/>
<rect x="77.30" y="289.26" width="6.70" height="6.73" fill="#facbb2"/>
<rect x="83.40" y="289.26" width="6.70" height="6.73" fill="#fcd6c0"/>
<rect x="89.50" y="289.26" width="6.70" height="6.73" fill="#f8bb9e"/>
<rect x="95.60" y="289.26" width="6.70" height="6.73" fill="#f9c5ab"/>
<rect x="101.70" y="289.26" width="6.70" height="6.73" fill="#f9c5ab"/>
<rect x="107.80" y="289.26" width="6.70" height="6.73" fill="#fbd0b9"/>
<rect x="113.90" y="289.26" width="6.70" height="6.73" fill="#fce1d1"/>
<rect x="120.00" y="289.26" width="6.70" height="6.73" fill="#fddbc7"/>
<rect x="126.10" y="289.26" width="6.70" height="6.73" fill="#f19e7d"/>
<rect x="132.20" y="289.26" width="6.70" height="6.73" fill="#e58268"/>
<rect x="138.30" y="289.26" width="6.70" height="6.73" fill="#67001f"/>
<rect x="144.40" y="289.26" width="6.70" height="6.73" fill="#f4a582"/>
<rect x="150.50" y="289.26" width="6.70" height="6.73" fill="#ee9777"/>
<rect x="156.60" y="289.26" width="6.70" height="6.73" fill="#f4a582"/>
<rect x="162.70" y="289.26" width="6.70" height="6.73" fill="#ee9777"/>
<rect x="168.80" y="289.26" width="6.70" height="6.73" fill="#f4a582"/>
<rect x="174.90" y="289.26" width="6.70" height="6.73" fill="#facbb2"/>
<rect x="181.00" y="289.26" width="6.70" height="6.73" fill="#f6b090"/>
<rect x="187.10" y="289.26" width="6.70" height="6.73" fill="#f8c0a4"/>
<rect x="193.20" y="289.26" width="6.70" height="6.73" fill="#fcdecc"/>
<rect x="199.30" y="289.26" width="6.70" height="6.73" fill="#fae9df"/>
<rect x="205.40" y="289.26" width="6.70" height="6.73" fill="#fae9df"/>
<rect x="211.50" y="289.26" width="6.70" height="6.73" fill="#f7f7f7"/>
<rect x="217.60" y="289.26" width="6.70" height="6.73" fill="#f9ece4"/>
<rect x="223.70" y="289.26" width="6.10" height="6.73" fill="#fbe3d5"/>
<rect x="65.10" y="295.39" width="6.70" height="6.73" fill="#fbe3d5"/>
<rect x="71.20" y="295.39" width="6.70" height="6.73" fill="#fae9df"/>
<rect x="77.30" y="295.39" width="6.70" height="6.73" fill="#fbd0b9"/>
<rect x="83.40" y="295.39" width="6.70" height="6.73" fill="#f9c5ab"/>
<rect x="89.50" y="295.39" width="6.70" height="6.73" fill="#f8bb9e"/>
<rect x="95.60" y="295.39" width="6.70" height="6.73" fill="#f9c5ab"/>
<rect x="101.70" y="295.39" width="6.70" height="6.73" fill="#fddbc7"/>
<rect x="107.80" y="295.39" width="6.70" height="6.73" fill="#facbb2"/>
<rect x="113.90" y="295.39" width="6.70" height="6.73" fill="#fcd6c0"/>
<rect x="120.00" y="295.39" width="6.70" height="6.73" fill="#fce1d1"/>
<rect x="126.10" y="295.39" width="6.70" height="6.73" fill="#ee9777"/>
<rect x="132.20" y="295.39" width="6.70" height="6.73" fill="#67001f"/>
<rect x="138.30" y="295.39" width="6.70" height="6.73" fill="#e58268"/>
<rect x="144.40" y="295.39" width="6.70" height="6.73" fill="#f19e7d"/>
<rect x="150.50" y="295.39" width="6.70" height="6.73" fill="#f6b090"/>
<rect x="156.60" y="295.39" width="6.70" height="6.73" fill="#f4a582"/>
<rect x="162.70" y="295.39" width="6.70" height="6.73" fill="#f4a582"/>
<rect x="168.80" y="295.39" width="6.70" height="6.73" fill="#f5aa89"/>
<rect x="174.90" y="295.39" width="6.70" height="6.73" fill="#fbd0b9"/>
<rect x="181.00" y="295.39" width="6.70" height="6.73" fill="#fbd0b9"/>
<rect x="187.10" y="295.39" width="6.70" height="6.73" fill="#fddbc7"/>
<rect x="193.20" y="295.39" width="6.70" height="6.73" fill="#fbd0b9"/>
<rect x="199.30" y="295.39" width="6.70" height="6.73" fill="#fce1d1"/>
<rect x="205.40" y="295.39" width="6.70" height="6.73" fill="#fce1d1"/>
<rect x="211.50" y="295.39" width="6.70" height="6.73" fill="#f9ece4"/>
<rect x="217.60" y="295.39" width="6.70" height="6.73" fill="#f8f1ed"/>
<rect x="223.70" y="295.39" width="6.10" height="6.73" fill="#fae9df"/>
<rect x="65.10" y="301.51" width="6.70" height="6.73" fill="#fbd0b9"/>
<rect x="71.20" y="301.51" width="6.70" height="6.73" fill="#f8c0a4"/>
<rect x="77.30" y="301.51" width="6.70" height="6.73" fill="#f19e7d"/>
<rect x="83.40" y="301.51" width="6.70" height="6.73" fill="#f5aa89"/>
<rect x="89.50" y="301.51" width="6.70" height="6.73" fill="#e8896d"/>
<rect x="95.60" y="301.51" width="6.70" height="6.73" fill="#f5aa89"/>
<rect x="101.70" y="301.51" width="6.70" height="6.73" fill="#fddbc7"/>
<rect x="107.80" y="301.51" width="6.70" height="6.73" fill="#f9c5ab"/>
<rect x="113.90" y="301.51" width="6.70" height="6.73" fill="#facbb2"/>
<rect x="120.00" y="301.51" width="6.70" height="6.73" fill="#f7b597"/>
<rect x="126.10" y="301.51" width="6.70" height="6.73" fill="#67001f"/>
<rect x="132.20" y="301.51" width="6.70" height="6.73" fill="#ee9777"/>
<rect x="138.30" y="301.51" width="6.70" height="6.73" fill="#f19e7d"/>
<rect x="144.40" y="301.51" width="6.70" height="6.73" fill="#eb9072"/>
<rect x="150.50" y="301.51" width="6.70" height="6.73" fill="#f6b090"/>
<rect x="156.60" y="301.51" width="6.70" height="6.73" fill="#f8c0a4"/>
<rect x="162.70" y="301.51" width="6.70" height="6.73" fill="#f6b090"/>
<rect x="168.80" y="301.51" width="6.70" height="6.73" fill="#f6b090"/>
<rect x="174.90" y="301.51" width="6.70" height="6.73" fill="#fddbc7"/>
<rect x="181.00" y="301.51" width="6.70" height="6.73" fill="#fce1d1"/>
<rect x="187.10" y="301.51" width="6.70" height="6.73" fill="#fce1d1"/>
<rect x="193.20" y="301.51" width="6.70" height="6.73" fill="#fbd0b9"/>
<rect x="199.30" y="301.51" width="6.70" height="6.73" fill="#fae9df"/>
<rect x="205.40" y="301.51" width="6.70" height="6.73" fill="#f8f4f2"/>
<rect x="211.50" y="301.51" width="6.70" height="6.73" fill="#fae9df"/>
<rect x="217.60" y="301.51" width="6.70" height="6.73" fill="#f7f7f7"/>
<rect x="223.70" y="301.51" width="6.10" height="6.73" fill="#f7f7f7"/>
<rect x="65.10" y="307.64" width="6.70" height="6.73" fill="#fcdecc"/>
<rect x="71.20" y="307.64" width="6.70" height="6.73" fill="#fbe3d5"/>
<rect x="77.30" y="307.64" width="6.70" height="6.73" fill="#fcdecc"/>
<rect x="83.40" y="307.64" width="6.70" height="6.73" fill="#f9c5ab"/>
<rect x="89.50" y="307.64" width="6.70" height="6.73" fill="#facbb2"/>
<rect x="95.60" y="307.64" width="6.70" height="6.73" fill="#fbd0b9"/>
<rect x="101.70" y="307.64" width="6.70" height="6.73" fill="#fae9df"/>
<rect x="107.80" y="307.64" width="6.70" height="6.73" fill="#fddbc7"/>
<rect x="113.90" y="307.64" width="6.70" height="6.73" fill="#fbd0b9"/>
<rect x="120.00" y="307.64" width="6.70" height="6.73" fill="#67001f"/>
<rect x="126.10" y="307.64" width="6.70" height="6.73" fill="#f7b597"/>
<rect x="132.20" y="307.64" width="6.70" height="6.73" fill="#fce1d1"/>
<rect x="138.30" y="307.64" width="6.70" height="6.73" fill="#fddbc7"/>
<rect x="144.40" y="307.64" width="6.70" height="6.73" fill="#fbd0b9"/>
<rect x="150.50" y="307.64" width="6.70" height="6.73" fill="#fddbc7"/>
<rect x="156.60" y="307.64" width="6.70" height="6.73" fill="#fddbc7"/>
<rect x="162.70" y="307.64" width="6.70" height="6.73" fill="#f6b090"/>
<rect x="168.80" y="307.64" width="6.70" height="6.73" fill="#ee9777"/>
<rect x="174.90" y="307.64" width="6.70" height="6.73" fill="#f4a582"/>
<rect x="181.00" y="307.64" width="6.70" height="6.73" fill="#fce1d1"/>
<rect x="187.10" y="307.64" width="6.70" height="6.73" fill="#fbe3d5"/>
<rect x="193.20" y="307.64" width="6.70" height="6.73" fill="#fae9df"/>
<rect x="199.30" y="307.64" width="6.70" height="6.73" fill="#f3f5f6"/>
<rect x="205.40" y="307.64" width="6.70" height="6.73" fill="#f3f5f6"/>
<rect x="211.50" y="307.64" width="6.70" height="6.73" fill="#f3f5f6"/>
<rect x="217.60" y="307.64" width="6.70" height="6.73" fill="#e4eef4"/>
<rect x="223.70" y="307.64" width="6.10" height="6.73" fill="#e4eef4"/>
<rect x="65.10" y="313.77" width="6.70" height="6.73" fill="#f9ece4"/>
<rect x="71.20" y="313.77" width="6.70" height="6.73" fill="#f9efe9"/>
<rect x="77.30" y="313.77" width="6.70" height="6.73" fill="#fddbc7"/>
<rect x="83.40" y="313.77" width="6.70" height="6.73" fill="#facbb2"/>
<rect x="89.50" y="313.77" width="6.70" height="6.73" fill="#f8c0a4"/>
<rect x="95.60" y="313.77" width="6.70" height="6.73" fill="#f4a582"/>
<rect x="101.70" y="313.77" width="6.70" height="6.73" fill="#f9c5ab"/>
<rect x="107.80" y="313.77" width="6.70" height="6.73" fill="#dc6e58"/>
<rect x="113.90" y="313.77" width="6.70" height="6.73" fill="#67001f"/>
<rect x="120.00" y="313.77" width="6.70" height="6.73" fill="#fbd0b9"/>
<rect x="126.10" y="313.77" width="6.70" height="6.73" fill="#facbb2"/>
<rect x="132.20" y="313.77" width="6.70" height="6.73" fill="#fcd6c0"/>
<rect x="138.30" y="313.77" width="6.70" height="6.73" fill="#fce1d1"/>
<rect x="144.40" y="313.77" width="6.70" height="6.73" fill="#fddbc7"/>
<rect x="150.50" y="313.77" width="6.70" height="6.73" fill="#f8f1ed"/>
<rect x="156.60" y="313.77" width="6.70" height="6.73" fill="#fcdecc"/>
<rect x="162.70" y="313.77" width="6.70" height="6.73" fill="#fddbc7"/>
<rect x="168.80" y="313.77" width="6.70" height="6.73" fill="#ee9777"/>
<rect x="174.90" y="313.77" width="6.70" height="6.73" fill="#ee9777"/>
<rect x="181.00" y="313.77" width="6.70" height="6.73" fill="#fce1d1"/>
<rect x="187.10" y="313.77" width="6.70" height="6.73" fill="#fbe3d5"/>
<rect x="193.20" y="313.77" width="6.70" height="6.73" fill="#fcd6c0"/>
<rect x="199.30" y="313.77" width="6.70" height="6.73" fill="#fbe3d5"/>
<rect x="205.40" y="313.77" width="6.70" height="6.73" fill="#fce1d1"/>
<rect x="211.50" y="313.77" width="6.70" height="6.73" fill="#fce1d1"/>
<rect x="217.60" y="313.77" width="6.70" height="6.73" fill="#e4eef4"/>
<rect x="223.70" y="313.77" width="6.10" height="6.73" fill="#e4eef4"/>
<rect x="65.10" y="319.89" width="6.70" height="6.73" fill="#fcd6c0"/>
<rect x="71.20" y="319.89" width="6.70" height="6.73" fill="#f9c5ab"/>
<rect x="77.30" y="319.89" width="6.70" height="6.73" fill="#f4a582"/>
<rect x="83.40" y="319.89" width="6.70" height="6.73" fill="#f5aa89"/>
<rect x="89.50" y="319.89" width="6.70" height="6.73" fill="#e58268"/>
<rect x="95.60" y="319.89" width="6.70" height="6.73" fill="#cf5246"/>
<rect x="101.70" y="319.89" width="6.70" height="6.73" fill="#f19e7d"/>
<rect x="107.80" y="319.89" width="6.70" height="6.73" fill="#67001f"/>
<rect x="113.90" y="319.89" width="6.70" height="6.73" fill="#dc6e58"/>
<rect x="120.00" y="319.89" width="6.70" height="6.73" fill="#fddbc7"/>
<rect x="126.10" y="319.89" width="6.70" height="6.73" fill="#f9c5ab"/>
<rect x="132.20" y="319.89" width="6.70" height="6.73" fill="#facbb2"/>
<rect x="138.30" y="319.89" width="6.70" height="6.73" fill="#fbd0b9"/>
<rect x="144.40" y="319.89" width="6.70" height="6.73" fill="#fcdecc"/>
<rect x="150.50" y="319.89" width="6.70" height="6.73" fill="#fae9df"/>
<rect x="156.60" y="319.89" width="6.70" height="6.73" fill="#fce1d1"/>
<rect x="162.70" y="319.89" width="6.70" height="6.73" fill="#fce1d1"/>
<rect x="168.80" y="319.89" width="6.70" height="6.73" fill="#f7b597"/>
<rect x="174.90" y="319.89" width="6.70" height="6.73" fill="#f7b597"/>
<rect x="181.00" y="319.89" width="6.70" height="6.73" fill="#fce1d1"/>
<rect x="187.10" y="319.89" width="6.70" height="6.73" fill="#fbe3d5"/>
<rect x="193.20" y="319.89" width="6.70" height="6.73" fill="#fae9df"/>
<rect x="199.30" y="319.89" width="6.70" height="6.73" fill="#f8f1ed"/>
<rect x="205.40" y="319.89" width="6.70" height="6.73" fill="#f8f1ed"/>
<rect x="211.50" y="319.89" width="6.70" height="6.73" fill="#f8f1ed"/>
<rect x="217.60" y="319.89" width="6.70" height="6.73" fill="#dceaf2"/>
<rect x="223.70" y="319.89" width="6.10" height="6.73" fill="#e4eef4"/>
<rect x="65.10" y="326.02" width="6.70" height="6.73" fill="#fae9df"/>
<rect x="71.20" y="326.02" width="6.70" height="6.73" fill="#fbd0b9"/>
<rect x="77.30" y="326.02" width="6.70" height="6.73" fill="#f7b597"/>
<rect x="83.40" y="326.02" width="6.70" height="6.73" fill="#fbd0b9"/>
<rect x="89.50" y="326.02" width="6.70" height="6.73" fill="#f4a582"/>
<rect x="95.60" y="326.02" width="6.70" height="6.73" fill="#f19e7d"/>
<rect x="101.70" y="326.02" width="6.70" height="6.73" fill="#67001f"/>
<rect x="107.80" y="326.02" width="6.70" height="6.73" fill="#f19e7d"/>
<rect x="113.90" y="326.02" width="6.70" height="6.73" fill="#f9c5ab"/>
<rect x="120.00" y="326.02" width="6.70" height="6.73" fill="#fae9df"/>
<rect x="126.10" y="326.02" width="6.70" height="6.73" fill="#fddbc7"/>
<rect x="132.20" y="326.02" width="6.70" height="6.73" fill="#fddbc7"/>
<rect x="138.30" y="326.02" width="6.70" height="6.73" fill="#f9c5ab"/>
<rect x="144.40" y="326.02" width="6.70" height="6.73" fill="#fce1d1"/>
<rect x="150.50" y="326.02" width="6.70" height="6.73" fill="#fddbc7"/>
<rect x="156.60" y="326.02" width="6.70" height="6.73" fill="#fce1d1"/>
<rect x="162.70" y="326.02" width="6.70" height="6.73" fill="#fce1d1"/>
<rect x="168.80" y="326.02" width="6.70" height="6.73" fill="#fcdecc"/>
<rect x="174.90" y="326.02" width="6.70" height="6.73" fill="#fcdecc"/>
<rect x="181.00" y="326.02" width="6.70" height="6.73" fill="#fce1d1"/>
<rect x="187.10" y="326.02" width="6.70" height="6.73" fill="#fae9df"/>
<rect x="193.20" y="326.02" width="6.70" height="6.73" fill="#f7f7f7"/>
<rect x="199.30" y="326.02" width="6.70" height="6.73" fill="#ecf2f5"/>
<rect x="205.40" y="326.02" width="6.70" height="6.73" fill="#ecf2f5"/>
<rect x="211.50" y="326.02" width="6.70" height="6.73" fill="#ecf2f5"/>
<rect x="217.60" y="326.02" width="6.70" height="6.73" fill="#e4eef4"/>
<rect x="223.70" y="326.02" width="6.10" height="6.73" fill="#eff3f6"/>
<rect x="65.10" y="332.14" width="6.70" height="6.73" fill="#f7b597"/>
<rect x="71.20" y="332.14" width="6.70" height="6.73" fill="#ee9777"/>
<rect x="77.30" y="332.14" width="6.70" height="6.73" fill="#d6604d"/>
<rect x="83.40" y="332.14" width="6.70" height="6.73" fill="#f19e7d"/>
<rect x="89.50" y="332.14" width="6.70" height="6.73" fill="#c03539"/>
<rect x="95.60" y="332.14" width="6.70" height="6.73" fill="#67001f"/>
<rect x="101.70" y="332.14" width="6.70" height="6.73" fill="#f19e7d"/>
<rect x="107.80" y="332.14" width="6.70" height="6.73" fill="#cf5246"/>
<rect x="113.90" y="332.14" width="6.70" height="6.73" fill="#f4a582"/>
<rect x="120.00" y="332.14" width="6.70" height="6.73" fill="#fbd0b9"/>
<rect x="126.10" y="332.14" width="6.70" height="6.73" fill="#f5aa89"/>
<rect x="132.20" y="332.14" width="6.70" height="6.73" fill="#f9c5ab"/>
<rect x="138.30" y="332.14" width="6.70" height="6.73" fill="#f9c5ab"/>
<rect x="144.40" y="332.14" width="6.70" height="6.73" fill="#fddbc7"/>
<rect x="150.50" y="332.14" width="6.70" height="6.73" fill="#fce1d1"/>
<rect x="156.60" y="332.14" width="6.70" height="6.73" fill="#fce1d1"/>
<rect x="162.70" y="332.14" width="6.70" height="6.73" fill="#fddbc7"/>
<rect x="168.80" y="332.14" width="6.70" height="6.73" fill="#fbd0b9"/>
<rect x="174.90" y="332.14" width="6.70" height="6.73" fill="#fddbc7"/>
<rect x="181.00" y="332.14" width="6.70" height="6.73" fill="#fce1d1"/>
<rect x="187.10" y="332.14" width="6.70" height="6.73" fill="#fbe3d5"/>
<rect x="193.20" y="332.14" width="6.70" height="6.73" fill="#f8f1ed"/>
<rect x="199.30" y="332.14" width="6.70" height="6.73" fill="#ecf2f5"/>
<rect x="205.40" y="332.14" width="6.70" height="6.73" fill="#ecf2f5"/>
<rect x="211.50" y="332.14" width="6.70" height="6.73" fill="#ecf2f5"/>
<rect x="217.60" y="332.14" width="6.70" height="6.73" fill="#d9e9f1"/>
<rect x="223.70" y="332.14" width="6.10" height="6.73" fill="#e4eef4"/>
<rect x="65.10" y="338.27" width="6.70" height="6.73" fill="#f7b597"/>
<rect x="71.20" y="338.27" width="6.70" height="6.73" fill="#df755d"/>
<rect x="77.30" y="338.27" width="6.70" height="6.73" fill="#bd2e35"/>
<rect x="83.40" y="338.27" width="6.70" height="6.73" fill="#ee9777"/>
<rect x="89.50" y="338.27" width="6.70" height="6.73" fill="#67001f"/>
<rect x="95.60" y="338.27" width="6.70" height="6.73" fill="#c03539"/>
<rect x="101.70" y="338.27" width="6.70" height="6.73" fill="#f4a582"/>
<rect x="107.80" y="338.27" width="6.70" height="6.73" fill="#e58268"/>
<rect x="113.90" y="338.27" width="6.70" height="6.73" fill="#f8c0a4"/>
<rect x="120.00" y="338.27" width="6.70" height="6.73" fill="#facbb2"/>
<rect x="126.10" y="338.27" width="6.70" height="6.73" fill="#e8896d"/>
<rect x="132.20" y="338.27" width="6.70" height="6.73" fill="#f8bb9e"/>
<rect x="138.30" y="338.27" width="6.70" height="6.73" fill="#f8bb9e"/>
<rect x="144.40" y="338.27" width="6.70" height="6.73" fill="#fddbc7"/>
<rect x="150.50" y="338.27" width="6.70" height="6.73" fill="#fddbc7"/>
<rect x="156.60" y="338.27" width="6.70" height="6.73" fill="#fce1d1"/>
<rect x="162.70" y="338.27" width="6.70" height="6.73" fill="#fddbc7"/>
<rect x="168.80" y="338.27" width="6.70" height="6.73" fill="#fddbc7"/>
<rect x="174.90" y="338.27" width="6.70" height="6.73" fill="#fbe3d5"/>
<rect x="181.00" y="338.27" width="6.70" height="6.73" fill="#fbe3d5"/>
<rect x="187.10" y="338.27" width="6.70" height="6.73" fill="#fbe3d5"/>
<rect x="193.20" y="338.27" width="6.70" height="6.73" fill="#f8f4f2"/>
<rect x="199.30" y="338.27" width="6.70" height="6.73" fill="#ecf2f5"/>
<rect x="205.40" y="338.27" width="6.70" height="6.73" fill="#e4eef4"/>
<rect x="211.50" y="338.27" width="6.70" height="6.73" fill="#ecf2f5"/>
<rect x="217.60" y="338.27" width="6.70" height="6.73" fill="#dceaf2"/>
<rect x="223.70" y="338.27" width="6.10" height="6.73" fill="#e4eef4"/>
<rect x="65.10" y="344.40" width="6.70" height="6.73" fill="#d2594a"/>
<rect x="71.20" y="344.40" width="6.70" height="6.73" fill="#f9c5ab"/>
<rect x="77.30" y="344.40" width="6.70" height="6.73" fill="#f5aa89"/>
<rect x="83.40" y="344.40" width="6.70" height="6.73" fill="#67001f"/>
<rect x="89.50" y="344.40" width="6.70" height="6.73" fill="#ee9777"/>
<rect x="95.60" y="344.40" width="6.70" height="6.73" fill="#f19e7d"/>
<rect x="101.70" y="344.40" width="6.70" height="6.73" fill="#fbd0b9"/>
<rect x="107.80" y="344.40" width="6.70" height="6.73" fill="#f5aa89"/>
<rect x="113.90" y="344.40" width="6.70" height="6.73" fill="#facbb2"/>
<rect x="120.00" y="344.40" width="6.70" height="6.73" fill="#f9c5ab"/>
<rect x="126.10" y="344.40" width="6.70" height="6.73" fill="#f5aa89"/>
<rect x="132.20" y="344.40" width="6.70" height="6.73" fill="#f9c5ab"/>
<rect x="138.30" y="344.40" width="6.70" height="6.73" fill="#fcd6c0"/>
<rect x="144.40" y="344.40" width="6.70" height="6.73" fill="#facbb2"/>
<rect x="150.50" y="344.40" width="6.70" height="6.73" fill="#fddbc7"/>
<rect x="156.60" y="344.40" width="6.70" height="6.73" fill="#fbe3d5"/>
<rect x="162.70" y="344.40" width="6.70" height="6.73" fill="#fbe3d5"/>
<rect x="168.80" y="344.40" width="6.70" height="6.73" fill="#fbe3d5"/>
<rect x="174.90" y="344.40" width="6.70" height="6.73" fill="#fbe3d5"/>
<rect x="181.00" y="344.40" width="6.70" height="6.73" fill="#f9efe9"/>
<rect x="187.10" y="344.40" width="6.70" height="6.73" fill="#f7f7f7"/>
<rect x="193.20" y="344.40" width="6.70" height="6.73" fill="#fae9df"/>
<rect x="199.30" y="344.40" width="6.70" height="6.73" fill="#f7f7f7"/>
<rect x="205.40" y="344.40" width="6.70" height="6.73" fill="#f7f7f7"/>
<rect x="211.50" y="344.40" width="6.70" height="6.73" fill="#f8f4f2"/>
<rect x="217.60" y="344.40" width="6.70" height="6.73" fill="#dceaf2"/>
<rect x="223.70" y="344.40" width="6.10" height="6.73" fill="#e4eef4"/>
<rect x="65.10" y="350.52" width="6.70" height="6.73" fill="#f7b597"/>
<rect x="71.20" y="350.52" width="6.70" height="6.73" fill="#cb4a43"/>
<rect x="77.30" y="350.52" width="6.70" height="6.73" fill="#67001f"/>
<rect x="83.40" y="350.52" width="6.70" height="6.73" fill="#f5aa89"/>
<rect x="89.50" y="350.52" width="6.70" height="6.73" fill="#bd2e35"/>
<rect x="95.60" y="350.52" width="6.70" height="6.73" fill="#d6604d"/>
<rect x="101.70" y="350.52" width="6.70" height="6.73" fill="#f7b597"/>
<rect x="107.80" y="350.52" width="6.70" height="6.73" fill="#f4a582"/>
<rect x="113.90" y="350.52" width="6.70" height="6.73" fill="#fddbc7"/>
<rect x="120.00" y="350.52" width="6.70" height="6.73" fill="#fcdecc"/>
<rect x="126.10" y="350.52" width="6.70" height="6.73" fill="#f19e7d"/>
<rect x="132.20" y="350.52" width="6.70" height="6.73" fill="#fbd0b9"/>
<rect x="138.30" y="350.52" width="6.70" height="6.73" fill="#facbb2"/>
<rect x="144.40" y="350.52" width="6.70" height="6.73" fill="#fbe3d5"/>
<rect x="150.50" y="350.52" width="6.70" height="6.73" fill="#fbe3d5"/>
<rect x="156.60" y="350.52" width="6.70" height="6.73" fill="#f8f1ed"/>
<rect x="162.70" y="350.52" width="6.70" height="6.73" fill="#f9ece4"/>
<rect x="168.80" y="350.52" width="6.70" height="6.73" fill="#f8f1ed"/>
<rect x="174.90" y="350.52" width="6.70" height="6.73" fill="#ecf2f5"/>
<rect x="181.00" y="350.52" width="6.70" height="6.73" fill="#f7f7f7"/>
<rect x="187.10" y="350.52" width="6.70" height="6.73" fill="#f7f7f7"/>
<rect x="193.20" y="350.52" width="6.70" height="6.73" fill="#dceaf2"/>
<rect x="199.30" y="350.52" width="6.70" height="6.73" fill="#d5e7f1"/>
<rect x="205.40" y="350.52" width="6.70" height="6.73" fill="#d1e5f0"/>
<rect x="211.50" y="350.52" width="6.70" height="6.73" fill="#d1e5f0"/>
<rect x="217.60" y="350.52" width="6.70" height="6.73" fill="#d1e5f0"/>
<rect x="223.70" y="350.52" width="6.10" height="6.73" fill="#d1e5f0"/>
<rect x="65.10" y="356.65" width="6.70" height="6.73" fill="#f8bb9e"/>
<rect x="71.20" y="356.65" width="6.70" height="6.73" fill="#67001f"/>
<rect x="77.30" y="356.65" width="6.70" height="6.73" fill="#cb4a43"/>
<rect x="83.40" y="356.65" width="6.70" height="6.73" fill="#f9c5ab"/>
<rect x="89.50" y="356.65" width="6.70" height="6.73" fill="#df755d"/>
<rect x="95.60" y="356.65" width="6.70" height="6.73" fill="#ee9777"/>
<rect x="101.70" y="356.65" width="6.70" height="6.73" fill="#fbd0b9"/>
<rect x="107.80" y="356.65" width="6.70" height="6.73" fill="#f9c5ab"/>
<rect x="113.90" y="356.65" width="6.70" height="6.73" fill="#f9efe9"/>
<rect x="120.00" y="356.65" width="6.70" height="6.73" fill="#fbe3d5"/>
<rect x="126.10" y="356.65" width="6.70" height="6.73" fill="#f8c0a4"/>
<rect x="132.20" y="356.65" width="6.70" height="6.73" fill="#fae9df"/>
<rect x="138.30" y="356.65" width="6.70" height="6.73" fill="#fbe3d5"/>
<rect x="144.40" y="356.65" width="6.70" height="6.73" fill="#f3f5f6"/>
<rect x="150.50" y="356.65" width="6.70" height="6.73" fill="#f7f7f7"/>
<rect x="156.60" y="356.65" width="6.70" height="6.73" fill="#ecf2f5"/>
<rect x="162.70" y="356.65" width="6.70" height="6.73" fill="#f7f7f7"/>
<rect x="168.80" y="356.65" width="6.70" height="6.73" fill="#e8f0f4"/>
<rect x="174.90" y="356.65" width="6.70" height="6.73" fill="#d5e7f1"/>
<rect x="181.00" y="356.65" width="6.70" height="6.73" fill="#e4eef4"/>
<rect x="187.10" y="356.65" width="6.70" height="6.73" fill="#e4eef4"/>
<rect x="193.20" y="356.65" width="6.70" height="6.73" fill="#bedbeb"/>
<rect x="199.30" y="356.65" width="6.70" height="6.73" fill="#abd2e5"/>
<rect x="205.40" y="356.65" width="6.70" height="6.73" fill="#a5cfe3"/>
<rect x="211.50" y="356.65" width="6.70" height="6.73" fill="#abd2e5"/>
<rect x="217.60" y="356.65" width="6.70" height="6.73" fill="#b2d5e7"/>
<rect x="223.70" y="356.65" width="6.10" height="6.73" fill="#c4dfec"/>
<rect x="65.10" y="362.77" width="6.70" height="6.13" fill="#67001f"/>
<rect x="71.20" y="362.77" width="6.70" height="6.13" fill="#f8bb9e"/>
<rect x="77.30" y="362.77" width="6.70" height="6.13" fill="#f7b597"/>
<rect x="83.40" y="362.77" width="6.70" height="6.13" fill="#d2594a"/>
<rect x="89.50" y="362.77" width="6.70" height="6.13" fill="#f7b597"/>
<rect x="95.60" y="362.77" width="6.70" height="6.13" fill="#f7b597"/>
<rect x="101.70" y="362.77" width="6.70" height="6.13" fill="#fae9df"/>
<rect x="107.80" y="362.77" width="6.70" height="6.13" fill="#fcd6c0"/>
<rect x="113.90" y="362.77" width="6.70" height="6.13" fill="#f9ece4"/>
<rect x="120.00" y="362.77" width="6.70" height="6.13" fill="#fcdecc"/>
<rect x="126.10" y="362.77" width="6.70" height="6.13" fill="#fbd0b9"/>
<rect x="132.20" y="362.77" width="6.70" height="6.13" fill="#fbe3d5"/>
<rect x="138.30" y="362.77" width="6.70" height="6.13" fill="#f8f1ed"/>
<rect x="144.40" y="362.77" width="6.70" height="6.13" fill="#f7f7f7"/>
<rect x="150.50" y="362.77" width="6.70" height="6.13" fill="#f8f1ed"/>
<rect x="156.60" y="362.77" width="6.70" height="6.13" fill="#ecf2f5"/>
<rect x="162.70" y="362.77" width="6.70" height="6.13" fill="#f3f5f6"/>
<rect x="168.80" y="362.77" width="6.70" height="6.13" fill="#ecf2f5"/>
<rect x="174.90" y="362.77" width="6.70" height="6.13" fill="#e4eef4"/>
<rect x="181.00" y="362.77" width="6.70" height="6.13" fill="#ecf2f5"/>
<rect x="187.10" y="362.77" width="6.70" height="6.13" fill="#e4eef4"/>
<rect x="193.20" y="362.77" width="6.70" height="6.13" fill="#d9e9f1"/>
<rect x="199.30" y="362.77" width="6.70" height="6.13" fill="#d5e7f1"/>
<rect x="205.40" y="362.77" width="6.70" height="6.13" fill="#d1e5f0"/>
<rect x="211.50" y="362.77" width="6.70" height="6.13" fill="#d1e5f0"/>
<rect x="217.60" y="362.77" width="6.70" height="6.13" fill="#c4dfec"/>
<rect x="223.70" y="362.77" width="6.10" height="6.13" fill="#d1e5f0"/>
<rect x="232.40" y="203.50" width="4.90" height="12.25" fill="#ff0000"/>
<rect x="217.60" y="199.30" width="12.20" height="3.00" fill="#ff0000"/>
<rect x="232.40" y="215.75" width="4.90" height="24.50" fill="#ffa500"/>
<rect x="193.20" y="199.30" width="24.40" height="3.00" fill="#ffa500"/>
<rect x="232.40" y="240.26" width="4.90" height="12.25" fill="#008000"/>
<rect x="181.00" y="199.30" width="12.20" height="3.00" fill="#008000"/>
<rect x="232.40" y="252.51" width="4.90" height="12.25" fill="#ff0000"/>
<rect x="168.80" y="199.30" width="12.20" height="3.00" fill="#ff0000"/>
<rect x="232.40" y="264.76" width="4.90" height="12.25" fill="#ffa500"/>
<rect x="156.60" y="199.30" width="12.20" height="3.00" fill="#ffa500"/>
<rect x="232.40" y="277.01" width="4.90" height="6.13" fill="#ff0000"/>
<rect x="150.50" y="199.30" width="6.10" height="3.00" fill="#ff0000"/>
<rect x="232.40" y="283.14" width="4.90" height="12.25" fill="#ffa500"/>
<rect x="138.30" y="199.30" width="12.20" height="3.00" fill="#ffa500"/>
<rect x="232.40" y="295.39" width="4.90" height="12.25" fill="#008000"/>
<rect x="126.10" y="199.30" width="12.20" height="3.00" fill="#008000"/>
<rect x="232.40" y="307.64" width="4.90" height="6.13" fill="#ffa500"/>
<rect x="120.00" y="199.30" width="6.10" height="3.00" fill="#ffa500"/>
<rect x="232.40" y="313.77" width="4.90" height="18.38" fill="#008000"/>
<rect x="101.70" y="199.30" width="18.30" height="3.00" fill="#008000"/>
<rect x="232.40" y="332.14" width="4.90" height="18.38" fill="#ffa500"/>
<rect x="83.40" y="199.30" width="18.30" height="3.00" fill="#ffa500"/>
<rect x="232.40" y="350.52" width="4.90" height="18.38" fill="#ff0000"/>
<rect x="65.10" y="199.30" width="18.30" height="3.00" fill="#ff0000"/>
<text x="239.10" y="209.21" font-size="7.4" transform="rotate(0.03 239.10 209.21)" textLength="28.3" lengthAdjust="spacingAndGlyphs">MEFICR</text>
<text x="268.90" y="209.21" font-size="7.4" transform="rotate(0.03 268.90 209.21)" textLength="31.4" lengthAdjust="spacingAndGlyphs" xml:space="preserve">Hras.E1A</text>
<text x="239.10" y="215.34" font-size="7.4" transform="rotate(0.03 239.10 215.34)" textLength="31.3" lengthAdjust="spacingAndGlyphs">MEFOG2</text>
<text x="273.00" y="215.34" font-size="7.4" transform="rotate(0.03 273.00 215.34)" textLength="30.9" lengthAdjust="spacingAndGlyphs" xml:space="preserve">Hras.E1A</text>
<text x="239.10" y="221.46" font-size="7.4" transform="rotate(0.03 239.10 221.46)" textLength="31.3" lengthAdjust="spacingAndGlyphs">MEFOG2</text>
<text x="273.00" y="221.46" font-size="7.4" transform="rotate(0.03 273.00 221.46)" textLength="39.8" lengthAdjust="spacingAndGlyphs" xml:space="preserve">p53DD.E1A</text>
<text x="239.10" y="227.59" font-size="7.4" transform="rotate(0.03 239.10 227.59)" textLength="28.3" lengthAdjust="spacingAndGlyphs">MEFICR</text>
<text x="268.90" y="227.59" font-size="7.4" transform="rotate(0.03 268.90 227.59)" textLength="30.8" lengthAdjust="spacingAndGlyphs" xml:space="preserve">Bcl2.E1A</text>
<text x="239.10" y="233.72" font-size="7.4" transform="rotate(0.03 239.10 233.72)" textLength="28.3" lengthAdjust="spacingAndGlyphs">MEFICR</text>
<text x="268.90" y="233.72" font-size="7.4" transform="rotate(0.03 268.90 233.72)" textLength="39.8" lengthAdjust="spacingAndGlyphs" xml:space="preserve">p53DD.E1A</text>
<text x="239.10" y="239.84" font-size="7.4" transform="rotate(0.03 239.10 239.84)" textLength="31.3" lengthAdjust="spacingAndGlyphs">MEFOG2</text>
<text x="273.00" y="239.84" font-size="7.4" transform="rotate(0.03 273.00 239.84)" textLength="30.6" lengthAdjust="spacingAndGlyphs" xml:space="preserve">Bcl2.E1A</text>
<text x="239.10" y="245.97" font-size="7.4" transform="rotate(0.03 239.10 245.97)" textLength="31.3" lengthAdjust="spacingAndGlyphs">MEFOG2</text>
<text x="273.00" y="245.97" font-size="7.4" transform="rotate(0.03 273.00 245.97)" textLength="55.4" lengthAdjust="spacingAndGlyphs" xml:space="preserve">Hdac7SA.Mef2d</text>
<text x="239.10" y="252.09" font-size="7.4" transform="rotate(0.03 239.10 252.09)" textLength="28.3" lengthAdjust="spacingAndGlyphs">MEFICR</text>
<text x="268.90" y="252.09" font-size="7.4" transform="rotate(0.03 268.90 252.09)" textLength="55.4" lengthAdjust="spacingAndGlyphs" xml:space="preserve">Hdac7SA.Mef2d</text>
<text x="239.10" y="258.22" font-size="7.4" transform="rotate(0.03 239.10 258.22)" textLength="28.3" lengthAdjust="spacingAndGlyphs">MEFICR</text>
<text x="268.90" y="258.22" font-size="7.4" transform="rotate(0.03 268.90 258.22)" textLength="22.0" lengthAdjust="spacingAndGlyphs" xml:space="preserve">SV40T</text>
<text x="239.10" y="264.35" font-size="7.4" transform="rotate(0.03 239.10 264.35)" textLength="31.3" lengthAdjust="spacingAndGlyphs">MEFOG2</text>
<text x="273.00" y="264.35" font-size="7.4" transform="rotate(0.03 273.00 264.35)" textLength="21.9" lengthAdjust="spacingAndGlyphs" xml:space="preserve">SV40T</text>
<text x="239.10" y="270.47" font-size="7.4" transform="rotate(0.03 239.10 270.47)" textLength="31.3" lengthAdjust="spacingAndGlyphs">MEFOG2</text>
<text x="273.00" y="270.47" font-size="7.4" transform="rotate(0.03 273.00 270.47)" textLength="47.8" lengthAdjust="spacingAndGlyphs" xml:space="preserve">Hdac7SA.E1A</text>
<text x="239.10" y="276.60" font-size="7.4" transform="rotate(0.03 239.10 276.60)" textLength="28.3" lengthAdjust="spacingAndGlyphs">MEFICR</text>
<text x="268.90" y="276.60" font-size="7.4" transform="rotate(0.03 268.90 276.60)" textLength="47.9" lengthAdjust="spacingAndGlyphs" xml:space="preserve">Hdac7SA.E1A</text>
<text x="239.10" y="282.72" font-size="7.4" transform="rotate(0.03 239.10 282.72)" textLength="31.3" lengthAdjust="spacingAndGlyphs">MEFOG2</text>
<text x="273.00" y="282.72" font-size="7.4" transform="rotate(0.03 273.00 282.72)" textLength="32.1" lengthAdjust="spacingAndGlyphs" xml:space="preserve">Hras.Myc</text>
<text x="239.10" y="288.85" font-size="7.4" transform="rotate(0.03 239.10 288.85)" textLength="31.3" lengthAdjust="spacingAndGlyphs">MEFOG2</text>
<text x="273.00" y="288.85" font-size="7.4" transform="rotate(0.03 273.00 288.85)" textLength="30.6" lengthAdjust="spacingAndGlyphs" xml:space="preserve">Bcl2.Myc</text>
<text x="239.10" y="294.98" font-size="7.4" transform="rotate(0.03 239.10 294.98)" textLength="28.3" lengthAdjust="spacingAndGlyphs">MEFICR</text>
<text x="268.90" y="294.98" font-size="7.4" transform="rotate(0.03 268.90 294.98)" textLength="48.1" lengthAdjust="spacingAndGlyphs" xml:space="preserve">Hdac7SA.Myc</text>
<text x="239.10" y="301.10" font-size="7.4" transform="rotate(0.03 239.10 301.10)" textLength="28.3" lengthAdjust="spacingAndGlyphs">MEFICR</text>
<text x="268.90" y="301.10" font-size="7.4" transform="rotate(0.03 268.90 301.10)" textLength="40.1" lengthAdjust="spacingAndGlyphs" xml:space="preserve">p53DD.Myc</text>
<text x="239.10" y="307.23" font-size="7.4" transform="rotate(0.03 239.10 307.23)" textLength="31.3" lengthAdjust="spacingAndGlyphs">MEFOG2</text>
<text x="273.00" y="307.23" font-size="7.4" transform="rotate(0.03 273.00 307.23)" textLength="40.1" lengthAdjust="spacingAndGlyphs" xml:space="preserve">p53DD.Myc</text>
<text x="239.10" y="313.35" font-size="7.4" transform="rotate(0.03 239.10 313.35)" textLength="31.3" lengthAdjust="spacingAndGlyphs">MEFOG2</text>
<text x="273.00" y="313.35" font-size="7.4" transform="rotate(0.03 273.00 313.35)" textLength="48.1" lengthAdjust="spacingAndGlyphs" xml:space="preserve">Hdac7SA.Myc</text>
<text x="239.10" y="319.48" font-size="7.4" transform="rotate(0.03 239.10 319.48)" textLength="28.3" lengthAdjust="spacingAndGlyphs">MEFOKI</text>
<text x="268.90" y="319.48" font-size="7.4" transform="rotate(0.03 268.90 319.48)" textLength="46.1" lengthAdjust="spacingAndGlyphs" xml:space="preserve">WT Passage1</text>
<text x="239.10" y="325.61" font-size="7.4" transform="rotate(0.03 239.10 325.61)" textLength="28.3" lengthAdjust="spacingAndGlyphs">MEFICR</text>
<text x="268.90" y="325.61" font-size="7.4" transform="rotate(0.03 268.90 325.61)" textLength="46.1" lengthAdjust="spacingAndGlyphs" xml:space="preserve">WT Passage2</text>
<text x="239.10" y="331.73" font-size="7.4" transform="rotate(0.03 239.10 331.73)" textLength="28.3" lengthAdjust="spacingAndGlyphs">MEFICR</text>
<text x="268.90" y="331.73" font-size="7.4" transform="rotate(0.03 268.90 331.73)" textLength="45.7" lengthAdjust="spacingAndGlyphs" xml:space="preserve">WT Passage1</text>
<text x="239.10" y="337.86" font-size="7.4" transform="rotate(0.03 239.10 337.86)" textLength="28.3" lengthAdjust="spacingAndGlyphs">MEFICR</text>
<text x="268.90" y="337.86" font-size="7.4" transform="rotate(0.03 268.90 337.86)" textLength="46.1" lengthAdjust="spacingAndGlyphs" xml:space="preserve">WT Passage3</text>
<text x="239.10" y="343.98" font-size="7.4" transform="rotate(0.03 239.10 343.98)" textLength="28.3" lengthAdjust="spacingAndGlyphs">MEFICR</text>
<text x="268.90" y="343.98" font-size="7.4" transform="rotate(0.03 268.90 343.98)" textLength="46.1" lengthAdjust="spacingAndGlyphs" xml:space="preserve">WT Passage4</text>
<text x="239.10" y="350.11" font-size="7.4" transform="rotate(0.03 239.10 350.11)" textLength="28.3" lengthAdjust="spacingAndGlyphs">MEFICR</text>
<text x="268.90" y="350.11" font-size="7.4" transform="rotate(0.03 268.90 350.11)" textLength="44.9" lengthAdjust="spacingAndGlyphs" xml:space="preserve">Bcl2.Myc  D0</text>
<text x="239.10" y="356.24" font-size="7.4" transform="rotate(0.03 239.10 356.24)" textLength="28.3" lengthAdjust="spacingAndGlyphs">MEFICR</text>
<text x="268.90" y="356.24" font-size="7.4" transform="rotate(0.03 268.90 356.24)" textLength="46.1" lengthAdjust="spacingAndGlyphs" xml:space="preserve">WT Passage5</text>
<text x="239.10" y="362.36" font-size="7.4" transform="rotate(0.03 239.10 362.36)" textLength="28.3" lengthAdjust="spacingAndGlyphs">MEFICR</text>
<text x="268.90" y="362.36" font-size="7.4" transform="rotate(0.03 268.90 362.36)" textLength="46.1" lengthAdjust="spacingAndGlyphs" xml:space="preserve">WT Passage6</text>
<text x="239.10" y="368.49" font-size="7.4" transform="rotate(0.03 239.10 368.49)" textLength="28.3" lengthAdjust="spacingAndGlyphs">MEFICR</text>
<text x="268.90" y="368.49" font-size="7.4" transform="rotate(0.03 268.90 368.49)" textLength="45.4" lengthAdjust="spacingAndGlyphs" xml:space="preserve">Hras.Myc  D0</text>
<path d="M63.00 206.56H60.90V212.69H63.00" stroke="#000" stroke-width="0.55" fill="none"/>
<path d="M63.00 224.94H61.77V231.07H63.00" stroke="#000" stroke-width="0.55" fill="none"/>
<path d="M63.00 218.81H60.38V228.00H61.77" stroke="#000" stroke-width="0.55" fill="none"/>
<path d="M60.38 223.41H59.50V237.19H63.00" stroke="#000" stroke-width="0.55" fill="none"/>
<path d="M60.90 209.63H56.52V230.30H59.50" stroke="#000" stroke-width="0.55" fill="none"/>
<path d="M63.00 243.32H60.38V249.44H63.00" stroke="#000" stroke-width="0.55" fill="none"/>
<path d="M63.00 255.57H61.08V261.70H63.00" stroke="#000" stroke-width="0.55" fill="none"/>
<path d="M63.00 267.82H60.38V273.95H63.00" stroke="#000" stroke-width="0.55" fill="none"/>
<path d="M61.08 258.63H57.92V270.89H60.38" stroke="#000" stroke-width="0.55" fill="none"/>
<path d="M60.38 246.38H54.95V264.76H57.92" stroke="#000" stroke-width="0.55" fill="none"/>
<path d="M63.00 280.07H59.50V286.20H63.00" stroke="#000" stroke-width="0.55" fill="none"/>
<path d="M63.00 292.33H59.50V298.45H63.00" stroke="#000" stroke-width="0.55" fill="none"/>
<path d="M59.50 295.39H57.92V304.58H63.00" stroke="#000" stroke-width="0.55" fill="none"/>
<path d="M59.50 283.14H56.52V299.98H57.92" stroke="#000" stroke-width="0.55" fill="none"/>
<path d="M54.95 255.57H53.55V291.56H56.52" stroke="#000" stroke-width="0.55" fill="none"/>
<path d="M56.52 219.96H49.88V273.57H53.55" stroke="#000" stroke-width="0.55" fill="none"/>
<path d="M63.00 316.83H59.50V322.96H63.00" stroke="#000" stroke-width="0.55" fill="none"/>
<path d="M59.50 319.89H56.70V329.08H63.00" stroke="#000" stroke-width="0.55" fill="none"/>
<path d="M63.00 310.70H56.17V324.49H56.70" stroke="#000" stroke-width="0.55" fill="none"/>
<path d="M63.00 335.21H60.38V341.33H63.00" stroke="#000" stroke-width="0.55" fill="none"/>
<path d="M60.38 338.27H57.58V347.46H63.00" stroke="#000" stroke-width="0.55" fill="none"/>
<path d="M56.17 317.60H55.48V342.86H57.58" stroke="#000" stroke-width="0.55" fill="none"/>
<path d="M63.00 353.59H59.15V359.71H63.00" stroke="#000" stroke-width="0.55" fill="none"/>
<path d="M59.15 356.65H56.52V365.84H63.00" stroke="#000" stroke-width="0.55" fill="none"/>
<path d="M55.48 330.23H53.20V361.24H56.52" stroke="#000" stroke-width="0.55" fill="none"/>
<path d="M49.88 246.76H45.50V345.74H53.20" stroke="#000" stroke-width="0.55" fill="none"/>
<path d="M226.75 197.20V195.86H220.65V197.20" stroke="#000" stroke-width="0.55" fill="none"/>
<path d="M208.45 197.20V196.42H202.35V197.20" stroke="#000" stroke-width="0.55" fill="none"/>
<path d="M214.55 197.20V195.52H205.40V196.42" stroke="#000" stroke-width="0.55" fill="none"/>
<path d="M209.97 195.52V194.96H196.25V197.20" stroke="#000" stroke-width="0.55" fill="none"/>
<path d="M223.70 195.86V193.06H203.11V194.96" stroke="#000" stroke-width="0.55" fill="none"/>
<path d="M190.15 197.20V195.52H184.05V197.20" stroke="#000" stroke-width="0.55" fill="none"/>
<path d="M177.95 197.20V195.97H171.85V197.20" stroke="#000" stroke-width="0.55" fill="none"/>
<path d="M165.75 197.20V195.52H159.65V197.20" stroke="#000" stroke-width="0.55" fill="none"/>
<path d="M174.90 195.97V193.95H162.70V195.52" stroke="#000" stroke-width="0.55" fill="none"/>
<path d="M187.10 195.52V192.05H168.80V193.95" stroke="#000" stroke-width="0.55" fill="none"/>
<path d="M153.55 197.20V194.96H147.45V197.20" stroke="#000" stroke-width="0.55" fill="none"/>
<path d="M141.35 197.20V194.96H135.25V197.20" stroke="#000" stroke-width="0.55" fill="none"/>
<path d="M138.30 194.96V193.95H129.15V197.20" stroke="#000" stroke-width="0.55" fill="none"/>
<path d="M150.50 194.96V193.06H133.72V193.95" stroke="#000" stroke-width="0.55" fill="none"/>
<path d="M177.95 192.05V191.15H142.11V193.06" stroke="#000" stroke-width="0.55" fill="none"/>
<path d="M213.41 193.06V188.80H160.03V191.15" stroke="#000" stroke-width="0.55" fill="none"/>
<path d="M116.95 197.20V194.96H110.85V197.20" stroke="#000" stroke-width="0.55" fill="none"/>
<path d="M113.90 194.96V193.17H104.75V197.20" stroke="#000" stroke-width="0.55" fill="none"/>
<path d="M123.05 197.20V192.83H109.32V193.17" stroke="#000" stroke-width="0.55" fill="none"/>
<path d="M98.65 197.20V195.52H92.55V197.20" stroke="#000" stroke-width="0.55" fill="none"/>
<path d="M95.60 195.52V193.73H86.45V197.20" stroke="#000" stroke-width="0.55" fill="none"/>
<path d="M116.19 192.83V192.38H91.02V193.73" stroke="#000" stroke-width="0.55" fill="none"/>
<path d="M80.35 197.20V194.74H74.25V197.20" stroke="#000" stroke-width="0.55" fill="none"/>
<path d="M77.30 194.74V193.06H68.15V197.20" stroke="#000" stroke-width="0.55" fill="none"/>
<path d="M103.61 192.38V190.93H72.72V193.06" stroke="#000" stroke-width="0.55" fill="none"/>
<path d="M186.72 188.80V186.00H88.17V190.93" stroke="#000" stroke-width="0.55" fill="none"/>
<rect x="239.40" y="175.30" width="6.10" height="5.80" fill="#e0502c"/>
<text x="248.70" y="180.70" font-size="7.3" transform="rotate(0.03 248.70 180.70)">Failing</text>
<rect x="239.40" y="182.60" width="6.10" height="5.80" fill="#f0b732"/>
<text x="248.70" y="188.00" font-size="7.3" transform="rotate(0.03 248.70 188.00)">Struggling</text>
<rect x="239.40" y="189.90" width="6.10" height="5.80" fill="#3fa757"/>
<text x="248.70" y="195.30" font-size="7.3" transform="rotate(0.03 248.70 195.30)">Succeeding</text>
<text x="324.10" y="10.60" font-size="12" font-weight="bold" transform="rotate(0.03 324.10 10.60)">c</text>
<rect x="352.40" y="38.70" width="8.74" height="6.30" fill="#67000d"/>
<circle cx="356.77" cy="40.00" r="0.62" fill="#000"/>
<rect x="361.14" y="38.70" width="8.74" height="6.30" fill="#67000d"/>
<circle cx="365.51" cy="40.00" r="0.62" fill="#000"/>
<rect x="369.88" y="38.70" width="8.74" height="6.30" fill="#67000d"/>
<circle cx="374.25" cy="40.00" r="0.62" fill="#000"/>
<rect x="378.62" y="38.70" width="8.74" height="6.30" fill="#67000d"/>
<circle cx="382.99" cy="40.00" r="0.62" fill="#000"/>
<rect x="387.36" y="38.70" width="8.74" height="6.30" fill="#df2c25"/>
<circle cx="391.73" cy="40.00" r="0.62" fill="#000"/>
<rect x="396.10" y="38.70" width="8.74" height="6.30" fill="#d72322"/>
<circle cx="400.47" cy="40.00" r="0.62" fill="#000"/>
<rect x="404.84" y="38.70" width="8.74" height="6.30" fill="#67000d"/>
<circle cx="409.21" cy="40.00" r="0.62" fill="#000"/>
<rect x="413.58" y="38.70" width="8.74" height="6.30" fill="#67000d"/>
<circle cx="417.95" cy="40.00" r="0.62" fill="#000"/>
<rect x="422.32" y="38.70" width="8.74" height="6.30" fill="#67000d"/>
<circle cx="426.69" cy="40.00" r="0.62" fill="#000"/>
<rect x="431.06" y="38.70" width="8.74" height="6.30" fill="#67000d"/>
<circle cx="435.43" cy="40.00" r="0.62" fill="#000"/>
<rect x="352.40" y="45.00" width="8.74" height="6.30" fill="#ad1117"/>
<circle cx="356.77" cy="46.30" r="0.62" fill="#000"/>
<rect x="361.14" y="45.00" width="8.74" height="6.30" fill="#d42021"/>
<circle cx="365.51" cy="46.30" r="0.62" fill="#000"/>
<rect x="369.88" y="45.00" width="8.74" height="6.30" fill="#d92623"/>
<circle cx="374.25" cy="46.30" r="0.62" fill="#000"/>
<rect x="378.62" y="45.00" width="8.74" height="6.30" fill="#d42021"/>
<circle cx="382.99" cy="46.30" r="0.62" fill="#000"/>
<rect x="387.36" y="45.00" width="8.74" height="6.30" fill="#eb372a"/>
<circle cx="391.73" cy="46.30" r="0.62" fill="#000"/>
<rect x="396.10" y="45.00" width="8.74" height="6.30" fill="#f14432"/>
<circle cx="400.47" cy="46.30" r="0.62" fill="#000"/>
<rect x="404.84" y="45.00" width="8.74" height="6.30" fill="#e53128"/>
<circle cx="409.21" cy="46.30" r="0.62" fill="#000"/>
<rect x="413.58" y="45.00" width="8.74" height="6.30" fill="#e53128"/>
<circle cx="417.95" cy="46.30" r="0.62" fill="#000"/>
<rect x="422.32" y="45.00" width="8.74" height="6.30" fill="#76040f"/>
<circle cx="426.69" cy="46.30" r="0.62" fill="#000"/>
<rect x="431.06" y="45.00" width="8.74" height="6.30" fill="#df2c25"/>
<circle cx="435.43" cy="46.30" r="0.62" fill="#000"/>
<rect x="352.40" y="51.30" width="8.74" height="6.30" fill="#ffeee6"/>
<rect x="361.14" y="51.30" width="8.74" height="6.30" fill="#ffeee6"/>
<rect x="369.88" y="51.30" width="8.74" height="6.30" fill="#fb7454"/>
<circle cx="374.25" cy="52.60" r="0.62" fill="#000"/>
<rect x="378.62" y="51.30" width="8.74" height="6.30" fill="#fb7757"/>
<circle cx="382.99" cy="52.60" r="0.62" fill="#000"/>
<rect x="387.36" y="51.30" width="8.74" height="6.30" fill="#67000d"/>
<circle cx="391.73" cy="52.60" r="0.62" fill="#000"/>
<rect x="396.10" y="51.30" width="8.74" height="6.30" fill="#67000d"/>
<circle cx="400.47" cy="52.60" r="0.62" fill="#000"/>
<rect x="404.84" y="51.30" width="8.74" height="6.30" fill="#67000d"/>
<circle cx="409.21" cy="52.60" r="0.62" fill="#000"/>
<rect x="413.58" y="51.30" width="8.74" height="6.30" fill="#67000d"/>
<circle cx="417.95" cy="52.60" r="0.62" fill="#000"/>
<rect x="422.32" y="51.30" width="8.74" height="6.30" fill="#67000d"/>
<circle cx="426.69" cy="52.60" r="0.62" fill="#000"/>
<rect x="431.06" y="51.30" width="8.74" height="6.30" fill="#d72322"/>
<circle cx="435.43" cy="52.60" r="0.62" fill="#000"/>
<rect x="352.40" y="57.60" width="8.74" height="6.30" fill="#ffeee6"/>
<rect x="361.14" y="57.60" width="8.74" height="6.30" fill="#ffeee6"/>
<rect x="369.88" y="57.60" width="8.74" height="6.30" fill="#fc8464"/>
<circle cx="374.25" cy="58.90" r="0.62" fill="#000"/>
<rect x="378.62" y="57.60" width="8.74" height="6.30" fill="#fc8060"/>
<circle cx="382.99" cy="58.90" r="0.62" fill="#000"/>
<rect x="387.36" y="57.60" width="8.74" height="6.30" fill="#67000d"/>
<circle cx="391.73" cy="58.90" r="0.62" fill="#000"/>
<rect x="396.10" y="57.60" width="8.74" height="6.30" fill="#67000d"/>
<circle cx="400.47" cy="58.90" r="0.62" fill="#000"/>
<rect x="404.84" y="57.60" width="8.74" height="6.30" fill="#67000d"/>
<circle cx="409.21" cy="58.90" r="0.62" fill="#000"/>
<rect x="413.58" y="57.60" width="8.74" height="6.30" fill="#67000d"/>
<circle cx="417.95" cy="58.90" r="0.62" fill="#000"/>
<rect x="422.32" y="57.60" width="8.74" height="6.30" fill="#67000d"/>
<circle cx="426.69" cy="58.90" r="0.62" fill="#000"/>
<rect x="431.06" y="57.60" width="8.74" height="6.30" fill="#d11e1f"/>
<circle cx="435.43" cy="58.90" r="0.62" fill="#000"/>
<rect x="352.40" y="63.90" width="8.74" height="6.30" fill="#fff2eb"/>
<rect x="361.14" y="63.90" width="8.74" height="6.30" fill="#fff2eb"/>
<rect x="369.88" y="63.90" width="8.74" height="6.30" fill="#fff2eb"/>
<rect x="378.62" y="63.90" width="8.74" height="6.30" fill="#fff2eb"/>
<rect x="387.36" y="63.90" width="8.74" height="6.30" fill="#fdd3c0"/>
<circle cx="391.73" cy="65.20" r="0.62" fill="#000"/>
<rect x="396.10" y="63.90" width="8.74" height="6.30" fill="#fee9df"/>
<rect x="404.84" y="63.90" width="8.74" height="6.30" fill="#fff0e9"/>
<rect x="413.58" y="63.90" width="8.74" height="6.30" fill="#fee4d8"/>
<rect x="422.32" y="63.90" width="8.74" height="6.30" fill="#fcb499"/>
<circle cx="426.69" cy="65.20" r="0.62" fill="#000"/>
<rect x="431.06" y="63.90" width="8.74" height="6.30" fill="#bc141a"/>
<circle cx="435.43" cy="65.20" r="0.62" fill="#000"/>
<rect x="352.40" y="70.20" width="8.74" height="6.30" fill="#67000d"/>
<circle cx="356.77" cy="71.50" r="0.62" fill="#000"/>
<rect x="361.14" y="70.20" width="8.74" height="6.30" fill="#fff2eb"/>
<rect x="369.88" y="70.20" width="8.74" height="6.30" fill="#fff2eb"/>
<rect x="378.62" y="70.20" width="8.74" height="6.30" fill="#fff2eb"/>
<rect x="387.36" y="70.20" width="8.74" height="6.30" fill="#fff2eb"/>
<rect x="396.10" y="70.20" width="8.74" height="6.30" fill="#fff2eb"/>
<rect x="404.84" y="70.20" width="8.74" height="6.30" fill="#fff2eb"/>
<rect x="413.58" y="70.20" width="8.74" height="6.30" fill="#fff2eb"/>
<rect x="422.32" y="70.20" width="8.74" height="6.30" fill="#fff2eb"/>
<rect x="431.06" y="70.20" width="8.74" height="6.30" fill="#fff2eb"/>
<rect x="352.40" y="76.50" width="8.74" height="6.30" fill="#67000d"/>
<circle cx="356.77" cy="77.80" r="0.62" fill="#000"/>
<rect x="361.14" y="76.50" width="8.74" height="6.30" fill="#fff2eb"/>
<rect x="369.88" y="76.50" width="8.74" height="6.30" fill="#ffebe2"/>
<rect x="378.62" y="76.50" width="8.74" height="6.30" fill="#fff2eb"/>
<rect x="387.36" y="76.50" width="8.74" height="6.30" fill="#fff2eb"/>
<rect x="396.10" y="76.50" width="8.74" height="6.30" fill="#fff2eb"/>
<rect x="404.84" y="76.50" width="8.74" height="6.30" fill="#fff2eb"/>
<rect x="413.58" y="76.50" width="8.74" height="6.30" fill="#fff2eb"/>
<rect x="422.32" y="76.50" width="8.74" height="6.30" fill="#fff2eb"/>
<rect x="431.06" y="76.50" width="8.74" height="6.30" fill="#fff2eb"/>
<path d="M352.40 38.70H439.80M352.40 45.00H439.80M352.40 51.30H439.80M352.40 57.60H439.80M352.40 63.90H439.80M352.40 70.20H439.80M352.40 76.50H439.80M352.40 82.80H439.80M352.40 38.70V82.80M361.14 38.70V82.80M369.88 38.70V82.80M378.62 38.70V82.80M387.36 38.70V82.80M396.10 38.70V82.80M404.84 38.70V82.80M413.58 38.70V82.80M422.32 38.70V82.80M431.06 38.70V82.80M439.80 38.70V82.80" stroke="#000" stroke-width="0.7" fill="none"/>
<text x="396.30" y="23.30" font-size="7.3" text-anchor="middle" transform="rotate(0.03 396.30 23.30)">Up-regulated</text>
<rect x="353.77" y="85.60" width="6.00" height="5.10" fill="#008000"/>
<text x="359.37" y="92.90" font-size="7.3" text-anchor="end" transform="rotate(-90 359.37 92.90)">p53DD.Myc</text>
<rect x="362.51" y="85.60" width="6.00" height="5.10" fill="#ff0000"/>
<text x="368.11" y="92.90" font-size="7.3" text-anchor="end" transform="rotate(-90 368.11 92.90)">SV40T</text>
<rect x="371.25" y="85.60" width="6.00" height="5.10" fill="#ffa500"/>
<text x="376.85" y="92.90" font-size="7.3" text-anchor="end" transform="rotate(-90 376.85 92.90)">Bcl2.Myc</text>
<rect x="379.99" y="85.60" width="6.00" height="5.10" fill="#ffa500"/>
<text x="385.59" y="92.90" font-size="7.3" text-anchor="end" transform="rotate(-90 385.59 92.90)">Hdac7SA.Myc</text>
<rect x="388.73" y="85.60" width="6.00" height="5.10" fill="#ffa500"/>
<text x="394.33" y="92.90" font-size="7.3" text-anchor="end" transform="rotate(-90 394.33 92.90)">p53DD.E1A</text>
<rect x="397.47" y="85.60" width="6.00" height="5.10" fill="#ffa500"/>
<text x="403.07" y="92.90" font-size="7.3" text-anchor="end" transform="rotate(-90 403.07 92.90)">Bcl2.E1A</text>
<rect x="406.21" y="85.60" width="6.00" height="5.10" fill="#ffa500"/>
<text x="411.81" y="92.90" font-size="7.3" text-anchor="end" transform="rotate(-90 411.81 92.90)">Hdac7SA.E1A</text>
<rect x="414.95" y="85.60" width="6.00" height="5.10" fill="#ff0000"/>
<text x="420.55" y="92.90" font-size="7.3" text-anchor="end" transform="rotate(-90 420.55 92.90)">Hras.E1A</text>
<rect x="423.69" y="85.60" width="6.00" height="5.10" fill="#ff0000"/>
<text x="429.29" y="92.90" font-size="7.3" text-anchor="end" transform="rotate(-90 429.29 92.90)">Hras.Myc</text>
<rect x="432.43" y="85.60" width="6.00" height="5.10" fill="#008000"/>
<text x="438.03" y="92.90" font-size="7.3" text-anchor="end" transform="rotate(-90 438.03 92.90)">Hdac7SA.Mef2d</text>
<text x="443.90" y="44.45" font-size="7.4" transform="rotate(0.03 443.90 44.45)" textLength="130.2" lengthAdjust="spacingAndGlyphs">GO:0016126 sterol biosynthetic process</text>
<text x="443.90" y="50.75" font-size="7.4" transform="rotate(0.03 443.90 50.75)" textLength="122.9" lengthAdjust="spacingAndGlyphs">GO:0016125 sterol metabolic process</text>
<text x="443.90" y="57.05" font-size="7.4" transform="rotate(0.03 443.90 57.05)" textLength="147.7" lengthAdjust="spacingAndGlyphs">GO:0030198 extracellular matrix organization</text>
<text x="443.90" y="63.35" font-size="7.4" transform="rotate(0.03 443.90 63.35)" textLength="156.1" lengthAdjust="spacingAndGlyphs">GO:0043062 extracellular structure organization</text>
<text x="443.90" y="69.65" font-size="7.4" transform="rotate(0.03 443.90 69.65)" textLength="161.2" lengthAdjust="spacingAndGlyphs">GO:0019935 cyclic-nucleotide-mediated signaling</text>
<text x="443.90" y="75.95" font-size="7.4" transform="rotate(0.03 443.90 75.95)" textLength="94.9" lengthAdjust="spacingAndGlyphs">GO:0006260 DNA replication</text>
<text x="443.90" y="82.25" font-size="7.4" transform="rotate(0.03 443.90 82.25)" textLength="126.3" lengthAdjust="spacingAndGlyphs">GO:0007059 chromosome segregation</text>
<path d="M374.25 37.60V36.38H382.99V37.60" stroke="#000" stroke-width="0.55" fill="none"/>
<path d="M365.51 37.60V34.40H378.62V36.38" stroke="#000" stroke-width="0.55" fill="none"/>
<path d="M391.73 37.60V36.47H400.47V37.60" stroke="#000" stroke-width="0.55" fill="none"/>
<path d="M409.21 37.60V36.47H417.95V37.60" stroke="#000" stroke-width="0.55" fill="none"/>
<path d="M396.10 36.47V35.91H413.58V36.47" stroke="#000" stroke-width="0.55" fill="none"/>
<path d="M404.84 35.91V35.30H426.69V37.60" stroke="#000" stroke-width="0.55" fill="none"/>
<path d="M415.76 35.30V33.28H435.43V37.60" stroke="#000" stroke-width="0.55" fill="none"/>
<path d="M372.06 34.40V30.46H425.60V33.28" stroke="#000" stroke-width="0.55" fill="none"/>
<path d="M356.77 37.60V28.20H398.83V30.46" stroke="#000" stroke-width="0.55" fill="none"/>
<path d="M350.90 41.85H347.40V48.15H350.90" stroke="#000" stroke-width="0.55" fill="none"/>
<path d="M350.90 54.45H350.46V60.75H350.90" stroke="#000" stroke-width="0.55" fill="none"/>
<path d="M347.40 45.00H342.14V57.60H350.46" stroke="#000" stroke-width="0.55" fill="none"/>
<path d="M350.90 73.35H350.46V79.65H350.90" stroke="#000" stroke-width="0.55" fill="none"/>
<path d="M350.90 67.05H344.18V76.50H350.46" stroke="#000" stroke-width="0.55" fill="none"/>
<path d="M342.14 51.30H336.30V71.78H344.18" stroke="#000" stroke-width="0.55" fill="none"/>
<rect x="451.10" y="98.60" width="45.70" height="7.00" fill="url(#gReds)" stroke="#000" stroke-width="0.5"/>
<line x1="451.10" y1="105.60" x2="451.10" y2="109.00" stroke="#000" stroke-width="0.6"/>
<text x="451.10" y="114.30" font-size="5.7" text-anchor="middle" transform="rotate(0.03 451.10 114.30)">2</text>
<line x1="474.00" y1="105.60" x2="474.00" y2="109.00" stroke="#000" stroke-width="0.6"/>
<text x="474.00" y="114.30" font-size="5.7" text-anchor="middle" transform="rotate(0.03 474.00 114.30)">6</text>
<line x1="496.80" y1="105.60" x2="496.80" y2="109.00" stroke="#000" stroke-width="0.6"/>
<text x="497.80" y="114.30" font-size="5.7" text-anchor="middle" transform="rotate(0.03 497.80 114.30)">10</text>
<text x="450.40" y="123.80" font-size="7.3" transform="rotate(0.03 450.40 123.80)">-log10(q-value)</text>
<rect x="449.10" y="140.90" width="6.10" height="5.80" fill="#e0502c"/>
<text x="458.60" y="146.30" font-size="7.3" transform="rotate(0.03 458.60 146.30)">Failing</text>
<rect x="449.10" y="148.20" width="6.10" height="5.80" fill="#f0b732"/>
<text x="458.60" y="153.60" font-size="7.3" transform="rotate(0.03 458.60 153.60)">Struggling</text>
<rect x="449.10" y="155.50" width="6.10" height="5.80" fill="#3fa757"/>
<text x="458.60" y="160.90" font-size="7.3" transform="rotate(0.03 458.60 160.90)">Succeeding</text>
<rect x="352.50" y="178.40" width="8.70" height="6.32" fill="#fff0e9"/>
<rect x="361.20" y="178.40" width="8.70" height="6.32" fill="#fff0e9"/>
<rect x="369.90" y="178.40" width="8.70" height="6.32" fill="#fff0e9"/>
<rect x="378.60" y="178.40" width="8.70" height="6.32" fill="#fff3ee"/>
<rect x="387.30" y="178.40" width="8.70" height="6.32" fill="#fff3ee"/>
<rect x="396.00" y="178.40" width="8.70" height="6.32" fill="#fff3ee"/>
<rect x="404.70" y="178.40" width="8.70" height="6.32" fill="#fff3ee"/>
<rect x="413.40" y="178.40" width="8.70" height="6.32" fill="#ffede4"/>
<rect x="422.10" y="178.40" width="8.70" height="6.32" fill="#fff3ee"/>
<rect x="430.80" y="178.40" width="8.70" height="6.32" fill="#67000d"/>
<circle cx="435.15" cy="179.70" r="0.62" fill="#000"/>
<rect x="352.50" y="184.72" width="8.70" height="6.32" fill="#fff0e9"/>
<rect x="361.20" y="184.72" width="8.70" height="6.32" fill="#fff0e9"/>
<rect x="369.90" y="184.72" width="8.70" height="6.32" fill="#fff0e9"/>
<rect x="378.60" y="184.72" width="8.70" height="6.32" fill="#fff3ee"/>
<rect x="387.30" y="184.72" width="8.70" height="6.32" fill="#fff3ee"/>
<rect x="396.00" y="184.72" width="8.70" height="6.32" fill="#fff3ee"/>
<rect x="404.70" y="184.72" width="8.70" height="6.32" fill="#fff3ee"/>
<rect x="413.40" y="184.72" width="8.70" height="6.32" fill="#ffeee6"/>
<rect x="422.10" y="184.72" width="8.70" height="6.32" fill="#fdcab5"/>
<circle cx="426.45" cy="186.02" r="0.62" fill="#000"/>
<rect x="430.80" y="184.72" width="8.70" height="6.32" fill="#67000d"/>
<circle cx="435.15" cy="186.02" r="0.62" fill="#000"/>
<rect x="352.50" y="191.04" width="8.70" height="6.32" fill="#f14432"/>
<circle cx="356.85" cy="192.34" r="0.62" fill="#000"/>
<rect x="361.20" y="191.04" width="8.70" height="6.32" fill="#fc8a6a"/>
<circle cx="365.55" cy="192.34" r="0.62" fill="#000"/>
<rect x="369.90" y="191.04" width="8.70" height="6.32" fill="#fdcdb9"/>
<circle cx="374.25" cy="192.34" r="0.62" fill="#000"/>
<rect x="378.60" y="191.04" width="8.70" height="6.32" fill="#fff3ee"/>
<rect x="387.30" y="191.04" width="8.70" height="6.32" fill="#fff3ee"/>
<rect x="396.00" y="191.04" width="8.70" height="6.32" fill="#fff3ee"/>
<rect x="404.70" y="191.04" width="8.70" height="6.32" fill="#fff3ee"/>
<rect x="413.40" y="191.04" width="8.70" height="6.32" fill="#fc9474"/>
<circle cx="417.75" cy="192.34" r="0.62" fill="#000"/>
<rect x="422.10" y="191.04" width="8.70" height="6.32" fill="#fedccc"/>
<rect x="430.80" y="191.04" width="8.70" height="6.32" fill="#fff3ee"/>
<rect x="352.50" y="197.36" width="8.70" height="6.32" fill="#fee4d8"/>
<circle cx="356.85" cy="198.66" r="0.62" fill="#000"/>
<rect x="361.20" y="197.36" width="8.70" height="6.32" fill="#fcab8e"/>
<circle cx="365.55" cy="198.66" r="0.62" fill="#000"/>
<rect x="369.90" y="197.36" width="8.70" height="6.32" fill="#fdc7b1"/>
<circle cx="374.25" cy="198.66" r="0.62" fill="#000"/>
<rect x="378.60" y="197.36" width="8.70" height="6.32" fill="#fff3ee"/>
<rect x="387.30" y="197.36" width="8.70" height="6.32" fill="#fff3ee"/>
<rect x="396.00" y="197.36" width="8.70" height="6.32" fill="#fff3ee"/>
<rect x="404.70" y="197.36" width="8.70" height="6.32" fill="#fff3ee"/>
<rect x="413.40" y="197.36" width="8.70" height="6.32" fill="#ffeee6"/>
<rect x="422.10" y="197.36" width="8.70" height="6.32" fill="#f14432"/>
<circle cx="426.45" cy="198.66" r="0.62" fill="#000"/>
<rect x="430.80" y="197.36" width="8.70" height="6.32" fill="#fff3ee"/>
<rect x="352.50" y="203.68" width="8.70" height="6.32" fill="#fee3d6"/>
<rect x="361.20" y="203.68" width="8.70" height="6.32" fill="#fdcdb9"/>
<circle cx="365.55" cy="204.98" r="0.62" fill="#000"/>
<rect x="369.90" y="203.68" width="8.70" height="6.32" fill="#fdd3c0"/>
<circle cx="374.25" cy="204.98" r="0.62" fill="#000"/>
<rect x="378.60" y="203.68" width="8.70" height="6.32" fill="#fff3ee"/>
<rect x="387.30" y="203.68" width="8.70" height="6.32" fill="#fff3ee"/>
<rect x="396.00" y="203.68" width="8.70" height="6.32" fill="#fff3ee"/>
<rect x="404.70" y="203.68" width="8.70" height="6.32" fill="#fff3ee"/>
<rect x="413.40" y="203.68" width="8.70" height="6.32" fill="#ffeee6"/>
<rect x="422.10" y="203.68" width="8.70" height="6.32" fill="#f34c37"/>
<circle cx="426.45" cy="204.98" r="0.62" fill="#000"/>
<rect x="430.80" y="203.68" width="8.70" height="6.32" fill="#fff3ee"/>
<rect x="352.50" y="210.00" width="8.70" height="6.32" fill="#fee4d8"/>
<circle cx="356.85" cy="211.30" r="0.62" fill="#000"/>
<rect x="361.20" y="210.00" width="8.70" height="6.32" fill="#fee6da"/>
<rect x="369.90" y="210.00" width="8.70" height="6.32" fill="#fcb499"/>
<circle cx="374.25" cy="211.30" r="0.62" fill="#000"/>
<rect x="378.60" y="210.00" width="8.70" height="6.32" fill="#fdcab5"/>
<circle cx="382.95" cy="211.30" r="0.62" fill="#000"/>
<rect x="387.30" y="210.00" width="8.70" height="6.32" fill="#fee1d3"/>
<rect x="396.00" y="210.00" width="8.70" height="6.32" fill="#fff0e9"/>
<rect x="404.70" y="210.00" width="8.70" height="6.32" fill="#fc8d6d"/>
<circle cx="409.05" cy="211.30" r="0.62" fill="#000"/>
<rect x="413.40" y="210.00" width="8.70" height="6.32" fill="#fff0e9"/>
<rect x="422.10" y="210.00" width="8.70" height="6.32" fill="#fff3ee"/>
<rect x="430.80" y="210.00" width="8.70" height="6.32" fill="#fff3ee"/>
<rect x="352.50" y="216.32" width="8.70" height="6.32" fill="#fff0e9"/>
<rect x="361.20" y="216.32" width="8.70" height="6.32" fill="#fc9a7b"/>
<circle cx="365.55" cy="217.62" r="0.62" fill="#000"/>
<rect x="369.90" y="216.32" width="8.70" height="6.32" fill="#fed9c8"/>
<circle cx="374.25" cy="217.62" r="0.62" fill="#000"/>
<rect x="378.60" y="216.32" width="8.70" height="6.32" fill="#fed9c8"/>
<circle cx="382.95" cy="217.62" r="0.62" fill="#000"/>
<rect x="387.30" y="216.32" width="8.70" height="6.32" fill="#fcab8e"/>
<circle cx="391.65" cy="217.62" r="0.62" fill="#000"/>
<rect x="396.00" y="216.32" width="8.70" height="6.32" fill="#fcb499"/>
<circle cx="400.35" cy="217.62" r="0.62" fill="#000"/>
<rect x="404.70" y="216.32" width="8.70" height="6.32" fill="#fc8a6a"/>
<circle cx="409.05" cy="217.62" r="0.62" fill="#000"/>
<rect x="413.40" y="216.32" width="8.70" height="6.32" fill="#fff3ee"/>
<rect x="422.10" y="216.32" width="8.70" height="6.32" fill="#fff3ee"/>
<rect x="430.80" y="216.32" width="8.70" height="6.32" fill="#fff3ee"/>
<rect x="352.50" y="222.64" width="8.70" height="6.32" fill="#ffeee6"/>
<rect x="361.20" y="222.64" width="8.70" height="6.32" fill="#fca183"/>
<circle cx="365.55" cy="223.94" r="0.62" fill="#000"/>
<rect x="369.90" y="222.64" width="8.70" height="6.32" fill="#fed9c8"/>
<circle cx="374.25" cy="223.94" r="0.62" fill="#000"/>
<rect x="378.60" y="222.64" width="8.70" height="6.32" fill="#fdcab5"/>
<circle cx="382.95" cy="223.94" r="0.62" fill="#000"/>
<rect x="387.30" y="222.64" width="8.70" height="6.32" fill="#f34c37"/>
<circle cx="391.65" cy="223.94" r="0.62" fill="#000"/>
<rect x="396.00" y="222.64" width="8.70" height="6.32" fill="#67000d"/>
<circle cx="400.35" cy="223.94" r="0.62" fill="#000"/>
<rect x="404.70" y="222.64" width="8.70" height="6.32" fill="#fff3ee"/>
<rect x="413.40" y="222.64" width="8.70" height="6.32" fill="#fff3ee"/>
<rect x="422.10" y="222.64" width="8.70" height="6.32" fill="#fff3ee"/>
<rect x="430.80" y="222.64" width="8.70" height="6.32" fill="#fff3ee"/>
<rect x="352.50" y="228.96" width="8.70" height="6.32" fill="#fee9df"/>
<rect x="361.20" y="228.96" width="8.70" height="6.32" fill="#fb7050"/>
<circle cx="365.55" cy="230.26" r="0.62" fill="#000"/>
<rect x="369.90" y="228.96" width="8.70" height="6.32" fill="#fcc4ad"/>
<circle cx="374.25" cy="230.26" r="0.62" fill="#000"/>
<rect x="378.60" y="228.96" width="8.70" height="6.32" fill="#fcb196"/>
<circle cx="382.95" cy="230.26" r="0.62" fill="#000"/>
<rect x="387.30" y="228.96" width="8.70" height="6.32" fill="#cb181d"/>
<circle cx="391.65" cy="230.26" r="0.62" fill="#000"/>
<rect x="396.00" y="228.96" width="8.70" height="6.32" fill="#67000d"/>
<circle cx="400.35" cy="230.26" r="0.62" fill="#000"/>
<rect x="404.70" y="228.96" width="8.70" height="6.32" fill="#fff3ee"/>
<rect x="413.40" y="228.96" width="8.70" height="6.32" fill="#fff3ee"/>
<rect x="422.10" y="228.96" width="8.70" height="6.32" fill="#fff3ee"/>
<rect x="430.80" y="228.96" width="8.70" height="6.32" fill="#fff3ee"/>
<rect x="352.50" y="235.28" width="8.70" height="6.32" fill="#c2161b"/>
<circle cx="356.85" cy="236.58" r="0.62" fill="#000"/>
<rect x="361.20" y="235.28" width="8.70" height="6.32" fill="#67000d"/>
<circle cx="365.55" cy="236.58" r="0.62" fill="#000"/>
<rect x="369.90" y="235.28" width="8.70" height="6.32" fill="#67000d"/>
<circle cx="374.25" cy="236.58" r="0.62" fill="#000"/>
<rect x="378.60" y="235.28" width="8.70" height="6.32" fill="#67000d"/>
<circle cx="382.95" cy="236.58" r="0.62" fill="#000"/>
<rect x="387.30" y="235.28" width="8.70" height="6.32" fill="#8f0a12"/>
<circle cx="391.65" cy="236.58" r="0.62" fill="#000"/>
<rect x="396.00" y="235.28" width="8.70" height="6.32" fill="#fff3ee"/>
<rect x="404.70" y="235.28" width="8.70" height="6.32" fill="#fff3ee"/>
<rect x="413.40" y="235.28" width="8.70" height="6.32" fill="#fff3ee"/>
<rect x="422.10" y="235.28" width="8.70" height="6.32" fill="#fff3ee"/>
<rect x="430.80" y="235.28" width="8.70" height="6.32" fill="#fff3ee"/>
<rect x="352.50" y="241.60" width="8.70" height="6.32" fill="#b61319"/>
<circle cx="356.85" cy="242.90" r="0.62" fill="#000"/>
<rect x="361.20" y="241.60" width="8.70" height="6.32" fill="#67000d"/>
<circle cx="365.55" cy="242.90" r="0.62" fill="#000"/>
<rect x="369.90" y="241.60" width="8.70" height="6.32" fill="#67000d"/>
<circle cx="374.25" cy="242.90" r="0.62" fill="#000"/>
<rect x="378.60" y="241.60" width="8.70" height="6.32" fill="#67000d"/>
<circle cx="382.95" cy="242.90" r="0.62" fill="#000"/>
<rect x="387.30" y="241.60" width="8.70" height="6.32" fill="#67000d"/>
<circle cx="391.65" cy="242.90" r="0.62" fill="#000"/>
<rect x="396.00" y="241.60" width="8.70" height="6.32" fill="#fff3ee"/>
<rect x="404.70" y="241.60" width="8.70" height="6.32" fill="#fff3ee"/>
<rect x="413.40" y="241.60" width="8.70" height="6.32" fill="#fff3ee"/>
<rect x="422.10" y="241.60" width="8.70" height="6.32" fill="#fff3ee"/>
<rect x="430.80" y="241.60" width="8.70" height="6.32" fill="#fff3ee"/>
<rect x="352.50" y="247.92" width="8.70" height="6.32" fill="#67000d"/>
<circle cx="356.85" cy="249.22" r="0.62" fill="#000"/>
<rect x="361.20" y="247.92" width="8.70" height="6.32" fill="#67000d"/>
<circle cx="365.55" cy="249.22" r="0.62" fill="#000"/>
<rect x="369.90" y="247.92" width="8.70" height="6.32" fill="#67000d"/>
<circle cx="374.25" cy="249.22" r="0.62" fill="#000"/>
<rect x="378.60" y="247.92" width="8.70" height="6.32" fill="#67000d"/>
<circle cx="382.95" cy="249.22" r="0.62" fill="#000"/>
<rect x="387.30" y="247.92" width="8.70" height="6.32" fill="#8a0811"/>
<circle cx="391.65" cy="249.22" r="0.62" fill="#000"/>
<rect x="396.00" y="247.92" width="8.70" height="6.32" fill="#fff3ee"/>
<rect x="404.70" y="247.92" width="8.70" height="6.32" fill="#fff3ee"/>
<rect x="413.40" y="247.92" width="8.70" height="6.32" fill="#fff3ee"/>
<rect x="422.10" y="247.92" width="8.70" height="6.32" fill="#fff3ee"/>
<rect x="430.80" y="247.92" width="8.70" height="6.32" fill="#fff3ee"/>
<rect x="352.50" y="254.24" width="8.70" height="6.32" fill="#67000d"/>
<circle cx="356.85" cy="255.54" r="0.62" fill="#000"/>
<rect x="361.20" y="254.24" width="8.70" height="6.32" fill="#67000d"/>
<circle cx="365.55" cy="255.54" r="0.62" fill="#000"/>
<rect x="369.90" y="254.24" width="8.70" height="6.32" fill="#67000d"/>
<circle cx="374.25" cy="255.54" r="0.62" fill="#000"/>
<rect x="378.60" y="254.24" width="8.70" height="6.32" fill="#67000d"/>
<circle cx="382.95" cy="255.54" r="0.62" fill="#000"/>
<rect x="387.30" y="254.24" width="8.70" height="6.32" fill="#8a0811"/>
<circle cx="391.65" cy="255.54" r="0.62" fill="#000"/>
<rect x="396.00" y="254.24" width="8.70" height="6.32" fill="#fff3ee"/>
<rect x="404.70" y="254.24" width="8.70" height="6.32" fill="#fff3ee"/>
<rect x="413.40" y="254.24" width="8.70" height="6.32" fill="#fff3ee"/>
<rect x="422.10" y="254.24" width="8.70" height="6.32" fill="#fff3ee"/>
<rect x="430.80" y="254.24" width="8.70" height="6.32" fill="#fff3ee"/>
<rect x="352.50" y="260.56" width="8.70" height="6.32" fill="#67000d"/>
<circle cx="356.85" cy="261.86" r="0.62" fill="#000"/>
<rect x="361.20" y="260.56" width="8.70" height="6.32" fill="#76040f"/>
<circle cx="365.55" cy="261.86" r="0.62" fill="#000"/>
<rect x="369.90" y="260.56" width="8.70" height="6.32" fill="#aa1016"/>
<circle cx="374.25" cy="261.86" r="0.62" fill="#000"/>
<rect x="378.60" y="260.56" width="8.70" height="6.32" fill="#f14432"/>
<circle cx="382.95" cy="261.86" r="0.62" fill="#000"/>
<rect x="387.30" y="260.56" width="8.70" height="6.32" fill="#fdd0bc"/>
<circle cx="391.65" cy="261.86" r="0.62" fill="#000"/>
<rect x="396.00" y="260.56" width="8.70" height="6.32" fill="#fcc4ad"/>
<circle cx="400.35" cy="261.86" r="0.62" fill="#000"/>
<rect x="404.70" y="260.56" width="8.70" height="6.32" fill="#fff3ee"/>
<rect x="413.40" y="260.56" width="8.70" height="6.32" fill="#f6573e"/>
<circle cx="417.75" cy="261.86" r="0.62" fill="#000"/>
<rect x="422.10" y="260.56" width="8.70" height="6.32" fill="#ffebe2"/>
<rect x="430.80" y="260.56" width="8.70" height="6.32" fill="#a70f15"/>
<circle cx="435.15" cy="261.86" r="0.62" fill="#000"/>
<path d="M352.50 178.40H439.50M352.50 184.72H439.50M352.50 191.04H439.50M352.50 197.36H439.50M352.50 203.68H439.50M352.50 210.00H439.50M352.50 216.32H439.50M352.50 222.64H439.50M352.50 228.96H439.50M352.50 235.28H439.50M352.50 241.60H439.50M352.50 247.92H439.50M352.50 254.24H439.50M352.50 260.56H439.50M352.50 266.88H439.50M352.50 178.40V266.88M361.20 178.40V266.88M369.90 178.40V266.88M378.60 178.40V266.88M387.30 178.40V266.88M396.00 178.40V266.88M404.70 178.40V266.88M413.40 178.40V266.88M422.10 178.40V266.88M430.80 178.40V266.88M439.50 178.40V266.88" stroke="#000" stroke-width="0.7" fill="none"/>
<text x="399.90" y="165.50" font-size="7.3" text-anchor="middle" transform="rotate(0.03 399.90 165.50)">Down-regulated</text>
<rect x="353.85" y="270.20" width="6.00" height="4.80" fill="#ffa500"/>
<text x="359.45" y="277.40" font-size="7.3" text-anchor="end" transform="rotate(-90 359.45 277.40)">Hdac7SA.E1A</text>
<rect x="362.55" y="270.20" width="6.00" height="4.80" fill="#ff0000"/>
<text x="368.15" y="277.40" font-size="7.3" text-anchor="end" transform="rotate(-90 368.15 277.40)">Hras.E1A</text>
<rect x="371.25" y="270.20" width="6.00" height="4.80" fill="#ffa500"/>
<text x="376.85" y="277.40" font-size="7.3" text-anchor="end" transform="rotate(-90 376.85 277.40)">Bcl2.E1A</text>
<rect x="379.95" y="270.20" width="6.00" height="4.80" fill="#ffa500"/>
<text x="385.55" y="277.40" font-size="7.3" text-anchor="end" transform="rotate(-90 385.55 277.40)">p53DD.E1A</text>
<rect x="388.65" y="270.20" width="6.00" height="4.80" fill="#ff0000"/>
<text x="394.25" y="277.40" font-size="7.3" text-anchor="end" transform="rotate(-90 394.25 277.40)">SV40T</text>
<rect x="397.35" y="270.20" width="6.00" height="4.80" fill="#008000"/>
<text x="402.95" y="277.40" font-size="7.3" text-anchor="end" transform="rotate(-90 402.95 277.40)">Hdac7SA.Mef2d</text>
<rect x="406.05" y="270.20" width="6.00" height="4.80" fill="#ffa500"/>
<text x="411.65" y="277.40" font-size="7.3" text-anchor="end" transform="rotate(-90 411.65 277.40)">Hdac7SA.Myc</text>
<rect x="414.75" y="270.20" width="6.00" height="4.80" fill="#ffa500"/>
<text x="420.35" y="277.40" font-size="7.3" text-anchor="end" transform="rotate(-90 420.35 277.40)">Bcl2.Myc</text>
<rect x="423.45" y="270.20" width="6.00" height="4.80" fill="#008000"/>
<text x="429.05" y="277.40" font-size="7.3" text-anchor="end" transform="rotate(-90 429.05 277.40)">p53DD.Myc</text>
<rect x="432.15" y="270.20" width="6.00" height="4.80" fill="#ff0000"/>
<text x="437.75" y="277.40" font-size="7.3" text-anchor="end" transform="rotate(-90 437.75 277.40)">Hras.Myc</text>
<text x="443.80" y="184.16" font-size="7.4" transform="rotate(0.03 443.80 184.16)" textLength="110.8" lengthAdjust="spacingAndGlyphs">GO:0042254 ribosome biogenesis</text>
<text x="443.80" y="190.48" font-size="7.4" transform="rotate(0.03 443.80 190.48)" textLength="167.0" lengthAdjust="spacingAndGlyphs">GO:0022613 ribonucleoprotein complex biogenesis</text>
<text x="443.80" y="196.80" font-size="7.4" transform="rotate(0.03 443.80 196.80)" textLength="95.2" lengthAdjust="spacingAndGlyphs">GO:0007050 cell cycle arrest</text>
<text x="443.80" y="203.12" font-size="7.4" transform="rotate(0.03 443.80 203.12)" textLength="230.6" lengthAdjust="spacingAndGlyphs">GO:2000134 negative regulation of G1/S transition of mitotic cell cycle</text>
<text x="443.80" y="209.44" font-size="7.4" transform="rotate(0.03 443.80 209.44)" textLength="219.7" lengthAdjust="spacingAndGlyphs">GO:1902807 negative regulation of cell cycle G1/S phase transition</text>
<text x="443.80" y="215.76" font-size="7.4" transform="rotate(0.03 443.80 215.76)" textLength="241.8" lengthAdjust="spacingAndGlyphs">GO:0031110 regulation of microtubule polymerization or depolymerization</text>
<text x="443.80" y="222.08" font-size="7.4" transform="rotate(0.03 443.80 222.08)" textLength="183.4" lengthAdjust="spacingAndGlyphs">GO:0045666 positive regulation of neuron differentiation</text>
<text x="443.80" y="228.40" font-size="7.4" transform="rotate(0.03 443.80 228.40)" textLength="109.4" lengthAdjust="spacingAndGlyphs">GO:0001822 kidney development</text>
<text x="443.80" y="234.72" font-size="7.4" transform="rotate(0.03 443.80 234.72)" textLength="144.7" lengthAdjust="spacingAndGlyphs">GO:0001655 urogenital system development</text>
<text x="443.80" y="241.04" font-size="7.4" transform="rotate(0.03 443.80 241.04)" textLength="107.9" lengthAdjust="spacingAndGlyphs">GO:0006310 DNA recombination</text>
<text x="443.80" y="247.36" font-size="7.4" transform="rotate(0.03 443.80 247.36)" textLength="86.8" lengthAdjust="spacingAndGlyphs">GO:0006260 DNA replication</text>
<text x="443.80" y="253.68" font-size="7.4" transform="rotate(0.03 443.80 253.68)" textLength="130.4" lengthAdjust="spacingAndGlyphs">GO:0006302 double-strand break repair</text>
<text x="443.80" y="260.00" font-size="7.4" transform="rotate(0.03 443.80 260.00)" textLength="79.9" lengthAdjust="spacingAndGlyphs">GO:0006281 DNA repair</text>
<text x="443.80" y="266.32" font-size="7.4" transform="rotate(0.03 443.80 266.32)" textLength="179.9" lengthAdjust="spacingAndGlyphs">GO:0072331 signal transduction by p53 class mediator</text>
<path d="M374.25 176.40V174.99H382.95V176.40" stroke="#000" stroke-width="0.55" fill="none"/>
<path d="M365.55 176.40V174.19H378.60V174.99" stroke="#000" stroke-width="0.55" fill="none"/>
<path d="M356.85 176.40V173.49H372.08V174.19" stroke="#000" stroke-width="0.55" fill="none"/>
<path d="M364.46 173.49V171.32H391.65V176.40" stroke="#000" stroke-width="0.55" fill="none"/>
<path d="M409.05 176.40V173.67H417.75V176.40" stroke="#000" stroke-width="0.55" fill="none"/>
<path d="M413.40 173.67V173.30H426.45V176.40" stroke="#000" stroke-width="0.55" fill="none"/>
<path d="M400.35 176.40V170.90H419.92V173.30" stroke="#000" stroke-width="0.55" fill="none"/>
<path d="M410.14 170.90V169.30H435.15V176.40" stroke="#000" stroke-width="0.55" fill="none"/>
<path d="M378.06 171.32V167.28H422.64V169.30" stroke="#000" stroke-width="0.55" fill="none"/>
<path d="M350.50 181.56H349.36V187.88H350.50" stroke="#000" stroke-width="0.55" fill="none"/>
<path d="M350.50 200.52H348.78V206.84H350.50" stroke="#000" stroke-width="0.55" fill="none"/>
<path d="M350.50 194.20H346.50V203.68H348.78" stroke="#000" stroke-width="0.55" fill="none"/>
<path d="M350.50 213.16H347.35V219.48H350.50" stroke="#000" stroke-width="0.55" fill="none"/>
<path d="M346.50 198.94H345.07V216.32H347.35" stroke="#000" stroke-width="0.55" fill="none"/>
<path d="M349.36 184.72H343.06V207.63H345.07" stroke="#000" stroke-width="0.55" fill="none"/>
<path d="M350.50 225.80H347.35V232.12H350.50" stroke="#000" stroke-width="0.55" fill="none"/>
<path d="M343.06 196.18H340.06V228.96H347.35" stroke="#000" stroke-width="0.55" fill="none"/>
<path d="M350.50 238.44H349.64V244.76H350.50" stroke="#000" stroke-width="0.55" fill="none"/>
<path d="M350.50 251.08H349.79V257.40H350.50" stroke="#000" stroke-width="0.55" fill="none"/>
<path d="M349.64 241.60H349.21V254.24H349.79" stroke="#000" stroke-width="0.55" fill="none"/>
<path d="M349.21 247.92H341.92V263.72H350.50" stroke="#000" stroke-width="0.55" fill="none"/>
<path d="M340.06 212.57H336.20V255.82H341.92" stroke="#000" stroke-width="0.55" fill="none"/>
<rect x="449.60" y="278.90" width="45.90" height="6.70" fill="url(#gReds)" stroke="#000" stroke-width="0.5"/>
<line x1="449.60" y1="285.60" x2="449.60" y2="289.00" stroke="#000" stroke-width="0.6"/>
<text x="449.60" y="294.90" font-size="5.7" text-anchor="middle" transform="rotate(0.03 449.60 294.90)">2</text>
<line x1="472.60" y1="285.60" x2="472.60" y2="289.00" stroke="#000" stroke-width="0.6"/>
<text x="472.60" y="294.90" font-size="5.7" text-anchor="middle" transform="rotate(0.03 472.60 294.90)">6</text>
<line x1="495.50" y1="285.60" x2="495.50" y2="289.00" stroke="#000" stroke-width="0.6"/>
<text x="496.50" y="294.90" font-size="5.7" text-anchor="middle" transform="rotate(0.03 496.50 294.90)">10</text>
<text x="448.60" y="304.40" font-size="7.3" transform="rotate(0.03 448.60 304.40)">-log10(q-value)</text>
<rect x="447.20" y="321.10" width="6.10" height="5.80" fill="#e0502c"/>
<text x="456.60" y="326.50" font-size="7.3" transform="rotate(0.03 456.60 326.50)">Failing</text>
<rect x="447.20" y="328.45" width="6.10" height="5.80" fill="#f0b732"/>
<text x="456.60" y="333.85" font-size="7.3" transform="rotate(0.03 456.60 333.85)">Struggling</text>
<rect x="447.20" y="335.80" width="6.10" height="5.80" fill="#3fa757"/>
<text x="456.60" y="341.20" font-size="7.3" transform="rotate(0.03 456.60 341.20)">Succeeding</text>
<text x="0.30" y="403.60" font-size="12" font-weight="bold" transform="rotate(0.03 0.30 403.60)">d</text>
<text x="114.50" y="428.40" font-size="7.4" text-anchor="end" transform="rotate(0.03 114.50 428.40)">ESC serum+LIF</text>
<text x="114.50" y="436.26" font-size="7.4" text-anchor="end" transform="rotate(0.03 114.50 436.26)">ESC 2i+LIF</text>
<text x="114.50" y="444.12" font-size="7.4" text-anchor="end" transform="rotate(0.03 114.50 444.12)">MEFOG2 p53DD.E1A D0</text>
<text x="114.50" y="451.99" font-size="7.4" text-anchor="end" transform="rotate(0.03 114.50 451.99)">MEFICR p53DD.E1A D0</text>
<text x="114.50" y="459.85" font-size="7.4" text-anchor="end" transform="rotate(0.03 114.50 459.85)">MEFOG2 SV40T D0</text>
<text x="114.50" y="467.71" font-size="7.4" text-anchor="end" transform="rotate(0.03 114.50 467.71)">MEFICR SV40T D0</text>
<text x="114.50" y="475.57" font-size="7.4" text-anchor="end" transform="rotate(0.03 114.50 475.57)">MEFOG2 Hras.Myc D0</text>
<text x="114.50" y="483.43" font-size="7.4" text-anchor="end" transform="rotate(0.03 114.50 483.43)">MEFICR Hras.Myc D0</text>
<text x="114.50" y="491.30" font-size="7.4" text-anchor="end" transform="rotate(0.03 114.50 491.30)">MEFOG2 Hras.E1A D0</text>
<text x="114.50" y="499.16" font-size="7.4" text-anchor="end" transform="rotate(0.03 114.50 499.16)">MEFICR Hras.E1A D0</text>
<text x="114.50" y="507.02" font-size="7.4" text-anchor="end" transform="rotate(0.03 114.50 507.02)">MEFOG2 Bcl2.Myc D0</text>
<text x="114.50" y="514.88" font-size="7.4" text-anchor="end" transform="rotate(0.03 114.50 514.88)">MEFICR Bcl2.Myc D0</text>
<text x="114.50" y="522.74" font-size="7.4" text-anchor="end" transform="rotate(0.03 114.50 522.74)">MEFOG2 Bcl2.E1A D0</text>
<text x="114.50" y="530.61" font-size="7.4" text-anchor="end" transform="rotate(0.03 114.50 530.61)">MEFICR Bcl2.E1A D0</text>
<text x="114.50" y="538.47" font-size="7.4" text-anchor="end" transform="rotate(0.03 114.50 538.47)">MEFOG2 Hdac7SA.Myc D0</text>
<text x="114.50" y="546.33" font-size="7.4" text-anchor="end" transform="rotate(0.03 114.50 546.33)">MEFICR Hdac7SA.Myc D0</text>
<text x="114.50" y="554.19" font-size="7.4" text-anchor="end" transform="rotate(0.03 114.50 554.19)">MEFICR Hdac7SA.E1A D0</text>
<text x="114.50" y="562.05" font-size="7.4" text-anchor="end" transform="rotate(0.03 114.50 562.05)">MEFOG2 Hdac7SA.E1A D0</text>
<text x="114.50" y="569.92" font-size="7.4" text-anchor="end" transform="rotate(0.03 114.50 569.92)">MEFOG2 Hdac7SA.Mef2d D0</text>
<text x="114.50" y="577.78" font-size="7.4" text-anchor="end" transform="rotate(0.03 114.50 577.78)">MEFICR Hdac7SA.Mef2d D0</text>
<text x="114.50" y="585.64" font-size="7.4" text-anchor="end" transform="rotate(0.03 114.50 585.64)">MEFICR WT Passage6</text>
<text x="114.50" y="593.50" font-size="7.4" text-anchor="end" transform="rotate(0.03 114.50 593.50)">MEFICR WT Passage5</text>
<text x="114.50" y="601.36" font-size="7.4" text-anchor="end" transform="rotate(0.03 114.50 601.36)">MEFICR WT Passage4</text>
<text x="114.50" y="609.23" font-size="7.4" text-anchor="end" transform="rotate(0.03 114.50 609.23)">MEFICR WT Passage3</text>
<text x="114.50" y="617.09" font-size="7.4" text-anchor="end" transform="rotate(0.03 114.50 617.09)">MEFICR WT Passage2</text>
<text x="114.50" y="624.95" font-size="7.4" text-anchor="end" transform="rotate(0.03 114.50 624.95)">MEFICR WT Passage1</text>
<line x1="177.50" y1="421.30" x2="177.50" y2="626.30" stroke="#c4c4c4" stroke-width="0.8"/>
<line x1="138.36" y1="425.85" x2="199.58" y2="425.85" stroke="#6e6e6e" stroke-width="0.65"/>
<line x1="138.36" y1="424.60" x2="138.36" y2="427.10" stroke="#6e6e6e" stroke-width="0.65"/>
<line x1="199.58" y1="424.60" x2="199.58" y2="427.10" stroke="#6e6e6e" stroke-width="0.65"/>
<rect x="158.22" y="423.95" width="20.33" height="3.80" fill="#0000f0" stroke="#000" stroke-width="0.65"/>
<line x1="169.44" y1="423.95" x2="169.44" y2="427.75" stroke="#000" stroke-width="0.75"/>
<line x1="128.80" y1="425.85" x2="132.70" y2="425.85" stroke="#000" stroke-width="0.75"/>
<line x1="220.40" y1="425.85" x2="224.50" y2="425.85" stroke="#000" stroke-width="0.75"/>
<rect x="120.20" y="423.55" width="6.30" height="5.50" fill="#9c9c9c"/>
<text x="228.90" y="428.05" font-size="8.0" transform="rotate(0.03 228.90 428.05)" textLength="27.3" lengthAdjust="spacingAndGlyphs">2.9e-45</text>
<text x="227.50" y="425.95" font-size="5.6" font-weight="bold" transform="rotate(0.03 227.50 425.95)">*</text>
<line x1="133.22" y1="433.71" x2="203.79" y2="433.71" stroke="#6e6e6e" stroke-width="0.65"/>
<line x1="133.22" y1="432.46" x2="133.22" y2="434.96" stroke="#6e6e6e" stroke-width="0.65"/>
<line x1="203.79" y1="432.46" x2="203.79" y2="434.96" stroke="#6e6e6e" stroke-width="0.65"/>
<rect x="151.21" y="431.81" width="26.87" height="3.80" fill="#0000f0" stroke="#000" stroke-width="0.65"/>
<line x1="169.44" y1="431.81" x2="169.44" y2="435.61" stroke="#000" stroke-width="0.75"/>
<line x1="128.80" y1="433.71" x2="132.70" y2="433.71" stroke="#000" stroke-width="0.75"/>
<line x1="220.40" y1="433.71" x2="224.50" y2="433.71" stroke="#000" stroke-width="0.75"/>
<rect x="120.20" y="431.41" width="6.30" height="5.50" fill="#9c9c9c"/>
<text x="228.90" y="435.91" font-size="8.0" transform="rotate(0.03 228.90 435.91)" textLength="27.3" lengthAdjust="spacingAndGlyphs">3.9e-60</text>
<text x="227.50" y="433.81" font-size="5.6" font-weight="bold" transform="rotate(0.03 227.50 433.81)">*</text>
<line x1="144.21" y1="441.57" x2="190.47" y2="441.57" stroke="#6e6e6e" stroke-width="0.65"/>
<line x1="144.21" y1="440.32" x2="144.21" y2="442.82" stroke="#6e6e6e" stroke-width="0.65"/>
<line x1="190.47" y1="440.32" x2="190.47" y2="442.82" stroke="#6e6e6e" stroke-width="0.65"/>
<rect x="160.09" y="439.67" width="15.65" height="3.80" fill="#0000f0" stroke="#000" stroke-width="0.65"/>
<line x1="170.14" y1="439.67" x2="170.14" y2="443.47" stroke="#000" stroke-width="0.75"/>
<line x1="128.80" y1="441.57" x2="132.70" y2="441.57" stroke="#000" stroke-width="0.75"/>
<line x1="220.40" y1="441.57" x2="224.50" y2="441.57" stroke="#000" stroke-width="0.75"/>
<rect x="120.20" y="439.27" width="6.30" height="5.50" fill="#f0b732"/>
<text x="228.90" y="443.77" font-size="8.0" transform="rotate(0.03 228.90 443.77)" textLength="27.3" lengthAdjust="spacingAndGlyphs">4.7e-73</text>
<text x="227.50" y="441.67" font-size="5.6" font-weight="bold" transform="rotate(0.03 227.50 441.67)">*</text>
<line x1="146.54" y1="449.44" x2="191.40" y2="449.44" stroke="#6e6e6e" stroke-width="0.65"/>
<line x1="146.54" y1="448.19" x2="146.54" y2="450.69" stroke="#6e6e6e" stroke-width="0.65"/>
<line x1="191.40" y1="448.19" x2="191.40" y2="450.69" stroke="#6e6e6e" stroke-width="0.65"/>
<rect x="161.03" y="447.54" width="15.19" height="3.80" fill="#0000f0" stroke="#000" stroke-width="0.65"/>
<line x1="171.07" y1="447.54" x2="171.07" y2="451.34" stroke="#000" stroke-width="0.75"/>
<line x1="128.80" y1="449.44" x2="132.70" y2="449.44" stroke="#000" stroke-width="0.75"/>
<line x1="220.40" y1="449.44" x2="224.50" y2="449.44" stroke="#000" stroke-width="0.75"/>
<rect x="120.20" y="447.14" width="6.30" height="5.50" fill="#f0b732"/>
<text x="228.90" y="451.64" font-size="8.0" transform="rotate(0.03 228.90 451.64)" textLength="27.3" lengthAdjust="spacingAndGlyphs">1.1e-65</text>
<text x="227.50" y="449.54" font-size="5.6" font-weight="bold" transform="rotate(0.03 227.50 449.54)">*</text>
<line x1="160.56" y1="457.30" x2="191.40" y2="457.30" stroke="#6e6e6e" stroke-width="0.65"/>
<line x1="160.56" y1="456.05" x2="160.56" y2="458.55" stroke="#6e6e6e" stroke-width="0.65"/>
<line x1="191.40" y1="456.05" x2="191.40" y2="458.55" stroke="#6e6e6e" stroke-width="0.65"/>
<rect x="170.61" y="455.40" width="10.51" height="3.80" fill="#0000f0" stroke="#000" stroke-width="0.65"/>
<line x1="176.92" y1="455.40" x2="176.92" y2="459.20" stroke="#000" stroke-width="0.75"/>
<line x1="128.80" y1="457.30" x2="132.70" y2="457.30" stroke="#000" stroke-width="0.75"/>
<line x1="220.40" y1="457.30" x2="224.50" y2="457.30" stroke="#000" stroke-width="0.75"/>
<rect x="120.20" y="455.00" width="6.30" height="5.50" fill="#e0502c"/>
<text x="228.90" y="459.50" font-size="8.0" transform="rotate(0.03 228.90 459.50)" textLength="27.3" lengthAdjust="spacingAndGlyphs">1.7e-16</text>
<text x="227.50" y="457.40" font-size="5.6" font-weight="bold" transform="rotate(0.03 227.50 457.40)">*</text>
<line x1="161.73" y1="465.16" x2="185.79" y2="465.16" stroke="#6e6e6e" stroke-width="0.65"/>
<line x1="161.73" y1="463.91" x2="161.73" y2="466.41" stroke="#6e6e6e" stroke-width="0.65"/>
<line x1="185.79" y1="463.91" x2="185.79" y2="466.41" stroke="#6e6e6e" stroke-width="0.65"/>
<rect x="169.21" y="463.26" width="8.41" height="3.80" fill="#0000f0" stroke="#000" stroke-width="0.65"/>
<line x1="173.41" y1="463.26" x2="173.41" y2="467.06" stroke="#000" stroke-width="0.75"/>
<line x1="128.80" y1="465.16" x2="132.70" y2="465.16" stroke="#000" stroke-width="0.75"/>
<line x1="220.40" y1="465.16" x2="224.50" y2="465.16" stroke="#000" stroke-width="0.75"/>
<rect x="120.20" y="462.86" width="6.30" height="5.50" fill="#e0502c"/>
<text x="228.90" y="467.36" font-size="8.0" transform="rotate(0.03 228.90 467.36)" textLength="27.3" lengthAdjust="spacingAndGlyphs">4.8e-30</text>
<text x="227.50" y="465.26" font-size="5.6" font-weight="bold" transform="rotate(0.03 227.50 465.26)">*</text>
<line x1="159.39" y1="473.02" x2="192.10" y2="473.02" stroke="#6e6e6e" stroke-width="0.65"/>
<line x1="159.39" y1="471.77" x2="159.39" y2="474.27" stroke="#6e6e6e" stroke-width="0.65"/>
<line x1="192.10" y1="471.77" x2="192.10" y2="474.27" stroke="#6e6e6e" stroke-width="0.65"/>
<rect x="170.37" y="471.12" width="11.21" height="3.80" fill="#0000f0" stroke="#000" stroke-width="0.65"/>
<line x1="176.21" y1="471.12" x2="176.21" y2="474.92" stroke="#000" stroke-width="0.75"/>
<line x1="128.80" y1="473.02" x2="132.70" y2="473.02" stroke="#000" stroke-width="0.75"/>
<line x1="220.40" y1="473.02" x2="224.50" y2="473.02" stroke="#000" stroke-width="0.75"/>
<rect x="120.20" y="470.72" width="6.30" height="5.50" fill="#e0502c"/>
<text x="228.90" y="475.22" font-size="8.0" transform="rotate(0.03 228.90 475.22)" textLength="27.3" lengthAdjust="spacingAndGlyphs">6.9e-13</text>
<text x="227.50" y="473.12" font-size="5.6" font-weight="bold" transform="rotate(0.03 227.50 473.12)">*</text>
<line x1="155.19" y1="480.88" x2="210.33" y2="480.88" stroke="#6e6e6e" stroke-width="0.65"/>
<line x1="155.19" y1="479.63" x2="155.19" y2="482.13" stroke="#6e6e6e" stroke-width="0.65"/>
<line x1="210.33" y1="479.63" x2="210.33" y2="482.13" stroke="#6e6e6e" stroke-width="0.65"/>
<rect x="173.41" y="478.98" width="18.69" height="3.80" fill="#ee0000" stroke="#000" stroke-width="0.65"/>
<line x1="179.25" y1="478.98" x2="179.25" y2="482.78" stroke="#000" stroke-width="0.75"/>
<line x1="128.80" y1="480.88" x2="132.70" y2="480.88" stroke="#000" stroke-width="0.75"/>
<line x1="220.40" y1="480.88" x2="224.50" y2="480.88" stroke="#000" stroke-width="0.75"/>
<rect x="120.20" y="478.58" width="6.30" height="5.50" fill="#e0502c"/>
<text x="228.90" y="483.08" font-size="8.0" transform="rotate(0.03 228.90 483.08)" textLength="27.3" lengthAdjust="spacingAndGlyphs">2.6e-13</text>
<text x="227.50" y="480.98" font-size="5.6" font-weight="bold" transform="rotate(0.03 227.50 480.98)">*</text>
<line x1="149.35" y1="488.75" x2="197.24" y2="488.75" stroke="#6e6e6e" stroke-width="0.65"/>
<line x1="149.35" y1="487.50" x2="149.35" y2="490.00" stroke="#6e6e6e" stroke-width="0.65"/>
<line x1="197.24" y1="487.50" x2="197.24" y2="490.00" stroke="#6e6e6e" stroke-width="0.65"/>
<rect x="165.23" y="486.85" width="15.89" height="3.80" fill="#0000f0" stroke="#000" stroke-width="0.65"/>
<line x1="174.58" y1="486.85" x2="174.58" y2="490.65" stroke="#000" stroke-width="0.75"/>
<line x1="128.80" y1="488.75" x2="132.70" y2="488.75" stroke="#000" stroke-width="0.75"/>
<line x1="220.40" y1="488.75" x2="224.50" y2="488.75" stroke="#000" stroke-width="0.75"/>
<rect x="120.20" y="486.45" width="6.30" height="5.50" fill="#e0502c"/>
<text x="228.90" y="490.95" font-size="8.0" transform="rotate(0.03 228.90 490.95)" textLength="27.3" lengthAdjust="spacingAndGlyphs">1.2e-29</text>
<text x="227.50" y="488.85" font-size="5.6" font-weight="bold" transform="rotate(0.03 227.50 488.85)">*</text>
<line x1="156.59" y1="496.61" x2="191.40" y2="496.61" stroke="#6e6e6e" stroke-width="0.65"/>
<line x1="156.59" y1="495.36" x2="156.59" y2="497.86" stroke="#6e6e6e" stroke-width="0.65"/>
<line x1="191.40" y1="495.36" x2="191.40" y2="497.86" stroke="#6e6e6e" stroke-width="0.65"/>
<rect x="168.27" y="494.71" width="11.45" height="3.80" fill="#0000f0" stroke="#000" stroke-width="0.65"/>
<line x1="174.58" y1="494.71" x2="174.58" y2="498.51" stroke="#000" stroke-width="0.75"/>
<line x1="128.80" y1="496.61" x2="132.70" y2="496.61" stroke="#000" stroke-width="0.75"/>
<line x1="220.40" y1="496.61" x2="224.50" y2="496.61" stroke="#000" stroke-width="0.75"/>
<rect x="120.20" y="494.31" width="6.30" height="5.50" fill="#e0502c"/>
<text x="228.90" y="498.81" font-size="8.0" transform="rotate(0.03 228.90 498.81)" textLength="27.3" lengthAdjust="spacingAndGlyphs">1.2e-26</text>
<text x="227.50" y="496.71" font-size="5.6" font-weight="bold" transform="rotate(0.03 227.50 496.71)">*</text>
<line x1="158.22" y1="504.47" x2="192.80" y2="504.47" stroke="#6e6e6e" stroke-width="0.65"/>
<line x1="158.22" y1="503.22" x2="158.22" y2="505.72" stroke="#6e6e6e" stroke-width="0.65"/>
<line x1="192.80" y1="503.22" x2="192.80" y2="505.72" stroke="#6e6e6e" stroke-width="0.65"/>
<rect x="170.14" y="502.57" width="11.45" height="3.80" fill="#0000f0" stroke="#000" stroke-width="0.65"/>
<line x1="176.21" y1="502.57" x2="176.21" y2="506.37" stroke="#000" stroke-width="0.75"/>
<line x1="128.80" y1="504.47" x2="132.70" y2="504.47" stroke="#000" stroke-width="0.75"/>
<line x1="220.40" y1="504.47" x2="224.50" y2="504.47" stroke="#000" stroke-width="0.75"/>
<rect x="120.20" y="502.17" width="6.30" height="5.50" fill="#f0b732"/>
<text x="228.90" y="506.67" font-size="8.0" transform="rotate(0.03 228.90 506.67)" textLength="27.3" lengthAdjust="spacingAndGlyphs">5.4e-12</text>
<text x="227.50" y="504.57" font-size="5.6" font-weight="bold" transform="rotate(0.03 227.50 504.57)">*</text>
<line x1="163.36" y1="512.33" x2="194.44" y2="512.33" stroke="#6e6e6e" stroke-width="0.65"/>
<line x1="163.36" y1="511.08" x2="163.36" y2="513.58" stroke="#6e6e6e" stroke-width="0.65"/>
<line x1="194.44" y1="511.08" x2="194.44" y2="513.58" stroke="#6e6e6e" stroke-width="0.65"/>
<rect x="173.41" y="510.43" width="10.05" height="3.80" fill="#0000f0" stroke="#000" stroke-width="0.65"/>
<line x1="178.08" y1="510.43" x2="178.08" y2="514.23" stroke="#000" stroke-width="0.75"/>
<line x1="128.80" y1="512.33" x2="132.70" y2="512.33" stroke="#000" stroke-width="0.75"/>
<line x1="220.40" y1="512.33" x2="224.50" y2="512.33" stroke="#000" stroke-width="0.75"/>
<rect x="120.20" y="510.03" width="6.30" height="5.50" fill="#f0b732"/>
<text x="228.90" y="514.53" font-size="8.0" transform="rotate(0.03 228.90 514.53)" textLength="27.3" lengthAdjust="spacingAndGlyphs">3.6e-04</text>
<text x="227.50" y="512.43" font-size="5.6" font-weight="bold" transform="rotate(0.03 227.50 512.43)">*</text>
<line x1="151.21" y1="520.19" x2="189.77" y2="520.19" stroke="#6e6e6e" stroke-width="0.65"/>
<line x1="151.21" y1="518.94" x2="151.21" y2="521.44" stroke="#6e6e6e" stroke-width="0.65"/>
<line x1="189.77" y1="518.94" x2="189.77" y2="521.44" stroke="#6e6e6e" stroke-width="0.65"/>
<rect x="163.83" y="518.29" width="13.08" height="3.80" fill="#0000f0" stroke="#000" stroke-width="0.65"/>
<line x1="171.78" y1="518.29" x2="171.78" y2="522.09" stroke="#000" stroke-width="0.75"/>
<line x1="128.80" y1="520.19" x2="132.70" y2="520.19" stroke="#000" stroke-width="0.75"/>
<line x1="220.40" y1="520.19" x2="224.50" y2="520.19" stroke="#000" stroke-width="0.75"/>
<rect x="120.20" y="517.89" width="6.30" height="5.50" fill="#f0b732"/>
<text x="228.90" y="522.39" font-size="8.0" transform="rotate(0.03 228.90 522.39)" textLength="27.3" lengthAdjust="spacingAndGlyphs">4.9e-58</text>
<text x="227.50" y="520.29" font-size="5.6" font-weight="bold" transform="rotate(0.03 227.50 520.29)">*</text>
<line x1="143.50" y1="528.06" x2="188.60" y2="528.06" stroke="#6e6e6e" stroke-width="0.65"/>
<line x1="143.50" y1="526.81" x2="143.50" y2="529.31" stroke="#6e6e6e" stroke-width="0.65"/>
<line x1="188.60" y1="526.81" x2="188.60" y2="529.31" stroke="#6e6e6e" stroke-width="0.65"/>
<rect x="159.39" y="526.16" width="15.42" height="3.80" fill="#0000f0" stroke="#000" stroke-width="0.65"/>
<line x1="169.21" y1="526.16" x2="169.21" y2="529.96" stroke="#000" stroke-width="0.75"/>
<line x1="128.80" y1="528.06" x2="132.70" y2="528.06" stroke="#000" stroke-width="0.75"/>
<line x1="220.40" y1="528.06" x2="224.50" y2="528.06" stroke="#000" stroke-width="0.75"/>
<rect x="120.20" y="525.76" width="6.30" height="5.50" fill="#f0b732"/>
<text x="228.90" y="530.26" font-size="8.0" transform="rotate(0.03 228.90 530.26)" textLength="27.3" lengthAdjust="spacingAndGlyphs">1.8e-86</text>
<text x="227.50" y="528.16" font-size="5.6" font-weight="bold" transform="rotate(0.03 227.50 528.16)">*</text>
<line x1="162.43" y1="535.92" x2="195.61" y2="535.92" stroke="#6e6e6e" stroke-width="0.65"/>
<line x1="162.43" y1="534.67" x2="162.43" y2="537.17" stroke="#6e6e6e" stroke-width="0.65"/>
<line x1="195.61" y1="534.67" x2="195.61" y2="537.17" stroke="#6e6e6e" stroke-width="0.65"/>
<rect x="173.41" y="534.02" width="10.98" height="3.80" fill="#d2d2d2" stroke="#000" stroke-width="0.65"/>
<line x1="178.08" y1="534.02" x2="178.08" y2="537.82" stroke="#000" stroke-width="0.75"/>
<line x1="128.80" y1="535.92" x2="132.70" y2="535.92" stroke="#000" stroke-width="0.75"/>
<line x1="220.40" y1="535.92" x2="224.50" y2="535.92" stroke="#000" stroke-width="0.75"/>
<rect x="120.20" y="533.62" width="6.30" height="5.50" fill="#f0b732"/>
<text x="228.90" y="538.12" font-size="8.0" transform="rotate(0.03 228.90 538.12)" textLength="27.3" lengthAdjust="spacingAndGlyphs">1.9e-01</text>
<line x1="161.73" y1="543.78" x2="197.48" y2="543.78" stroke="#6e6e6e" stroke-width="0.65"/>
<line x1="161.73" y1="542.53" x2="161.73" y2="545.03" stroke="#6e6e6e" stroke-width="0.65"/>
<line x1="197.48" y1="542.53" x2="197.48" y2="545.03" stroke="#6e6e6e" stroke-width="0.65"/>
<rect x="173.41" y="541.88" width="12.15" height="3.80" fill="#d2d2d2" stroke="#000" stroke-width="0.65"/>
<line x1="179.72" y1="541.88" x2="179.72" y2="545.68" stroke="#000" stroke-width="0.75"/>
<line x1="128.80" y1="543.78" x2="132.70" y2="543.78" stroke="#000" stroke-width="0.75"/>
<line x1="220.40" y1="543.78" x2="224.50" y2="543.78" stroke="#000" stroke-width="0.75"/>
<rect x="120.20" y="541.48" width="6.30" height="5.50" fill="#f0b732"/>
<text x="228.90" y="545.98" font-size="8.0" transform="rotate(0.03 228.90 545.98)" textLength="27.3" lengthAdjust="spacingAndGlyphs">7.7e-01</text>
<line x1="165.23" y1="551.64" x2="187.43" y2="551.64" stroke="#6e6e6e" stroke-width="0.65"/>
<line x1="165.23" y1="550.39" x2="165.23" y2="552.89" stroke="#6e6e6e" stroke-width="0.65"/>
<line x1="187.43" y1="550.39" x2="187.43" y2="552.89" stroke="#6e6e6e" stroke-width="0.65"/>
<rect x="172.71" y="549.74" width="7.24" height="3.80" fill="#0000f0" stroke="#000" stroke-width="0.65"/>
<line x1="176.21" y1="549.74" x2="176.21" y2="553.54" stroke="#000" stroke-width="0.75"/>
<line x1="128.80" y1="551.64" x2="132.70" y2="551.64" stroke="#000" stroke-width="0.75"/>
<line x1="220.40" y1="551.64" x2="224.50" y2="551.64" stroke="#000" stroke-width="0.75"/>
<rect x="120.20" y="549.34" width="6.30" height="5.50" fill="#f0b732"/>
<text x="228.90" y="553.84" font-size="8.0" transform="rotate(0.03 228.90 553.84)" textLength="27.3" lengthAdjust="spacingAndGlyphs">3.7e-15</text>
<text x="227.50" y="551.74" font-size="5.6" font-weight="bold" transform="rotate(0.03 227.50 551.74)">*</text>
<line x1="161.73" y1="559.50" x2="190.47" y2="559.50" stroke="#6e6e6e" stroke-width="0.65"/>
<line x1="161.73" y1="558.25" x2="161.73" y2="560.75" stroke="#6e6e6e" stroke-width="0.65"/>
<line x1="190.47" y1="558.25" x2="190.47" y2="560.75" stroke="#6e6e6e" stroke-width="0.65"/>
<rect x="171.31" y="557.60" width="9.58" height="3.80" fill="#0000f0" stroke="#000" stroke-width="0.65"/>
<line x1="176.21" y1="557.60" x2="176.21" y2="561.40" stroke="#000" stroke-width="0.75"/>
<line x1="128.80" y1="559.50" x2="132.70" y2="559.50" stroke="#000" stroke-width="0.75"/>
<line x1="220.40" y1="559.50" x2="224.50" y2="559.50" stroke="#000" stroke-width="0.75"/>
<rect x="120.20" y="557.20" width="6.30" height="5.50" fill="#f0b732"/>
<text x="228.90" y="561.70" font-size="8.0" transform="rotate(0.03 228.90 561.70)" textLength="27.3" lengthAdjust="spacingAndGlyphs">2.0e-13</text>
<text x="227.50" y="559.60" font-size="5.6" font-weight="bold" transform="rotate(0.03 227.50 559.60)">*</text>
<line x1="162.90" y1="567.37" x2="193.97" y2="567.37" stroke="#6e6e6e" stroke-width="0.65"/>
<line x1="162.90" y1="566.12" x2="162.90" y2="568.62" stroke="#6e6e6e" stroke-width="0.65"/>
<line x1="193.97" y1="566.12" x2="193.97" y2="568.62" stroke="#6e6e6e" stroke-width="0.65"/>
<rect x="173.41" y="565.47" width="10.05" height="3.80" fill="#d2d2d2" stroke="#000" stroke-width="0.65"/>
<line x1="178.08" y1="565.47" x2="178.08" y2="569.27" stroke="#000" stroke-width="0.75"/>
<line x1="128.80" y1="567.37" x2="132.70" y2="567.37" stroke="#000" stroke-width="0.75"/>
<line x1="220.40" y1="567.37" x2="224.50" y2="567.37" stroke="#000" stroke-width="0.75"/>
<rect x="120.20" y="565.07" width="6.30" height="5.50" fill="#3fa757"/>
<text x="228.90" y="569.57" font-size="8.0" transform="rotate(0.03 228.90 569.57)" textLength="27.3" lengthAdjust="spacingAndGlyphs">1.7e-02</text>
<line x1="161.73" y1="575.23" x2="192.10" y2="575.23" stroke="#6e6e6e" stroke-width="0.65"/>
<line x1="161.73" y1="573.98" x2="161.73" y2="576.48" stroke="#6e6e6e" stroke-width="0.65"/>
<line x1="192.10" y1="573.98" x2="192.10" y2="576.48" stroke="#6e6e6e" stroke-width="0.65"/>
<rect x="171.78" y="573.33" width="10.05" height="3.80" fill="#0000f0" stroke="#000" stroke-width="0.65"/>
<line x1="176.92" y1="573.33" x2="176.92" y2="577.13" stroke="#000" stroke-width="0.75"/>
<line x1="128.80" y1="575.23" x2="132.70" y2="575.23" stroke="#000" stroke-width="0.75"/>
<line x1="220.40" y1="575.23" x2="224.50" y2="575.23" stroke="#000" stroke-width="0.75"/>
<rect x="120.20" y="572.93" width="6.30" height="5.50" fill="#3fa757"/>
<text x="228.90" y="577.43" font-size="8.0" transform="rotate(0.03 228.90 577.43)" textLength="27.3" lengthAdjust="spacingAndGlyphs">5.7e-06</text>
<text x="227.50" y="575.33" font-size="5.6" font-weight="bold" transform="rotate(0.03 227.50 575.33)">*</text>
<line x1="171.07" y1="583.09" x2="214.77" y2="583.09" stroke="#6e6e6e" stroke-width="0.65"/>
<line x1="171.07" y1="581.84" x2="171.07" y2="584.34" stroke="#6e6e6e" stroke-width="0.65"/>
<line x1="214.77" y1="581.84" x2="214.77" y2="584.34" stroke="#6e6e6e" stroke-width="0.65"/>
<rect x="183.46" y="581.19" width="15.19" height="3.80" fill="#ee0000" stroke="#000" stroke-width="0.65"/>
<line x1="189.77" y1="581.19" x2="189.77" y2="584.99" stroke="#000" stroke-width="0.75"/>
<line x1="128.80" y1="583.09" x2="132.70" y2="583.09" stroke="#000" stroke-width="0.75"/>
<line x1="220.40" y1="583.09" x2="224.50" y2="583.09" stroke="#000" stroke-width="0.75"/>
<rect x="120.20" y="580.79" width="6.30" height="5.50" fill="#e0502c"/>
<text x="228.90" y="585.29" font-size="8.0" transform="rotate(0.03 228.90 585.29)" textLength="27.3" lengthAdjust="spacingAndGlyphs">8.3e-83</text>
<text x="227.50" y="583.19" font-size="5.6" font-weight="bold" transform="rotate(0.03 227.50 583.19)">*</text>
<line x1="169.21" y1="590.95" x2="212.66" y2="590.95" stroke="#6e6e6e" stroke-width="0.65"/>
<line x1="169.21" y1="589.70" x2="169.21" y2="592.20" stroke="#6e6e6e" stroke-width="0.65"/>
<line x1="212.66" y1="589.70" x2="212.66" y2="592.20" stroke="#6e6e6e" stroke-width="0.65"/>
<rect x="181.36" y="589.05" width="15.19" height="3.80" fill="#ee0000" stroke="#000" stroke-width="0.65"/>
<line x1="185.79" y1="589.05" x2="185.79" y2="592.85" stroke="#000" stroke-width="0.75"/>
<line x1="128.80" y1="590.95" x2="132.70" y2="590.95" stroke="#000" stroke-width="0.75"/>
<line x1="220.40" y1="590.95" x2="224.50" y2="590.95" stroke="#000" stroke-width="0.75"/>
<rect x="120.20" y="588.65" width="6.30" height="5.50" fill="#e0502c"/>
<text x="228.90" y="593.15" font-size="8.0" transform="rotate(0.03 228.90 593.15)" textLength="27.3" lengthAdjust="spacingAndGlyphs">7.6e-59</text>
<text x="227.50" y="591.05" font-size="5.6" font-weight="bold" transform="rotate(0.03 227.50 591.05)">*</text>
<line x1="168.27" y1="598.81" x2="206.59" y2="598.81" stroke="#6e6e6e" stroke-width="0.65"/>
<line x1="168.27" y1="597.56" x2="168.27" y2="600.06" stroke="#6e6e6e" stroke-width="0.65"/>
<line x1="206.59" y1="597.56" x2="206.59" y2="600.06" stroke="#6e6e6e" stroke-width="0.65"/>
<rect x="179.49" y="596.91" width="13.08" height="3.80" fill="#ee0000" stroke="#000" stroke-width="0.65"/>
<line x1="183.46" y1="596.91" x2="183.46" y2="600.71" stroke="#000" stroke-width="0.75"/>
<line x1="128.80" y1="598.81" x2="132.70" y2="598.81" stroke="#000" stroke-width="0.75"/>
<line x1="220.40" y1="598.81" x2="224.50" y2="598.81" stroke="#000" stroke-width="0.75"/>
<rect x="120.20" y="596.51" width="6.30" height="5.50" fill="#f0b732"/>
<text x="228.90" y="601.01" font-size="8.0" transform="rotate(0.03 228.90 601.01)" textLength="27.3" lengthAdjust="spacingAndGlyphs">5.4e-39</text>
<text x="227.50" y="598.91" font-size="5.6" font-weight="bold" transform="rotate(0.03 227.50 598.91)">*</text>
<line x1="166.40" y1="606.68" x2="198.64" y2="606.68" stroke="#6e6e6e" stroke-width="0.65"/>
<line x1="166.40" y1="605.43" x2="166.40" y2="607.93" stroke="#6e6e6e" stroke-width="0.65"/>
<line x1="198.64" y1="605.43" x2="198.64" y2="607.93" stroke="#6e6e6e" stroke-width="0.65"/>
<rect x="177.38" y="604.78" width="10.28" height="3.80" fill="#ee0000" stroke="#000" stroke-width="0.65"/>
<line x1="181.59" y1="604.78" x2="181.59" y2="608.58" stroke="#000" stroke-width="0.75"/>
<line x1="128.80" y1="606.68" x2="132.70" y2="606.68" stroke="#000" stroke-width="0.75"/>
<line x1="220.40" y1="606.68" x2="224.50" y2="606.68" stroke="#000" stroke-width="0.75"/>
<rect x="120.20" y="604.38" width="6.30" height="5.50" fill="#f0b732"/>
<text x="228.90" y="608.88" font-size="8.0" transform="rotate(0.03 228.90 608.88)" textLength="27.3" lengthAdjust="spacingAndGlyphs">7.6e-17</text>
<text x="227.50" y="606.78" font-size="5.6" font-weight="bold" transform="rotate(0.03 227.50 606.78)">*</text>
<line x1="162.43" y1="614.54" x2="192.80" y2="614.54" stroke="#6e6e6e" stroke-width="0.65"/>
<line x1="162.43" y1="613.29" x2="162.43" y2="615.79" stroke="#6e6e6e" stroke-width="0.65"/>
<line x1="192.80" y1="613.29" x2="192.80" y2="615.79" stroke="#6e6e6e" stroke-width="0.65"/>
<rect x="172.48" y="612.64" width="10.05" height="3.80" fill="#d2d2d2" stroke="#000" stroke-width="0.65"/>
<line x1="177.38" y1="612.64" x2="177.38" y2="616.44" stroke="#000" stroke-width="0.75"/>
<line x1="128.80" y1="614.54" x2="132.70" y2="614.54" stroke="#000" stroke-width="0.75"/>
<line x1="220.40" y1="614.54" x2="224.50" y2="614.54" stroke="#000" stroke-width="0.75"/>
<rect x="120.20" y="612.24" width="6.30" height="5.50" fill="#3fa757"/>
<line x1="162.43" y1="622.40" x2="195.14" y2="622.40" stroke="#6e6e6e" stroke-width="0.65"/>
<line x1="162.43" y1="621.15" x2="162.43" y2="623.65" stroke="#6e6e6e" stroke-width="0.65"/>
<line x1="195.14" y1="621.15" x2="195.14" y2="623.65" stroke="#6e6e6e" stroke-width="0.65"/>
<rect x="173.41" y="620.50" width="10.98" height="3.80" fill="#d2d2d2" stroke="#000" stroke-width="0.65"/>
<line x1="178.08" y1="620.50" x2="178.08" y2="624.30" stroke="#000" stroke-width="0.75"/>
<line x1="128.80" y1="622.40" x2="132.70" y2="622.40" stroke="#000" stroke-width="0.75"/>
<line x1="220.40" y1="622.40" x2="224.50" y2="622.40" stroke="#000" stroke-width="0.75"/>
<rect x="120.20" y="620.10" width="6.30" height="5.50" fill="#3fa757"/>
<text x="228.90" y="624.60" font-size="8.0" transform="rotate(0.03 228.90 624.60)" textLength="27.3" lengthAdjust="spacingAndGlyphs">3.5e-01</text>
<path d="M132.70 626.30V421.30H220.40V626.30" stroke="#000" stroke-width="0.8" fill="none"/>
<line x1="132.70" y1="626.30" x2="220.40" y2="626.30" stroke="#000" stroke-width="0.8"/>
<line x1="132.70" y1="626.30" x2="132.70" y2="630.60" stroke="#000" stroke-width="0.8"/>
<text x="132.70" y="640.80" font-size="7.6" text-anchor="middle" transform="rotate(0.03 132.70 640.80)">−2</text>
<line x1="176.70" y1="626.30" x2="176.70" y2="630.60" stroke="#000" stroke-width="0.8"/>
<text x="176.70" y="640.80" font-size="7.6" text-anchor="middle" transform="rotate(0.03 176.70 640.80)">0</text>
<line x1="220.40" y1="626.30" x2="220.40" y2="630.60" stroke="#000" stroke-width="0.8"/>
<text x="220.40" y="640.80" font-size="7.6" text-anchor="middle" transform="rotate(0.03 220.40 640.80)">2</text>
<text x="175.50" y="648.90" font-size="7.6" text-anchor="middle" transform="rotate(0.03 175.50 648.90)">Z-score</text>
<text x="175.70" y="415.40" font-size="7.3" text-anchor="middle" transform="rotate(0.03 175.70 415.40)">MEF-senescent</text>
<line x1="324.60" y1="421.30" x2="324.60" y2="626.30" stroke="#c4c4c4" stroke-width="0.8"/>
<line x1="276.50" y1="425.85" x2="348.46" y2="425.85" stroke="#6e6e6e" stroke-width="0.65"/>
<line x1="276.50" y1="424.60" x2="276.50" y2="427.10" stroke="#6e6e6e" stroke-width="0.65"/>
<line x1="348.46" y1="424.60" x2="348.46" y2="427.10" stroke="#6e6e6e" stroke-width="0.65"/>
<rect x="300.79" y="423.95" width="24.77" height="3.80" fill="#0000f0" stroke="#000" stroke-width="0.65"/>
<line x1="316.68" y1="423.95" x2="316.68" y2="427.75" stroke="#000" stroke-width="0.75"/>
<line x1="272.50" y1="425.85" x2="276.40" y2="425.85" stroke="#000" stroke-width="0.75"/>
<line x1="363.70" y1="425.85" x2="367.80" y2="425.85" stroke="#000" stroke-width="0.75"/>
<rect x="263.20" y="423.55" width="6.30" height="5.50" fill="#9c9c9c"/>
<text x="372.20" y="428.05" font-size="8.0" transform="rotate(0.03 372.20 428.05)" textLength="27.3" lengthAdjust="spacingAndGlyphs">3.2e-65</text>
<text x="370.80" y="425.95" font-size="5.6" font-weight="bold" transform="rotate(0.03 370.80 425.95)">*</text>
<line x1="276.50" y1="433.71" x2="351.26" y2="433.71" stroke="#6e6e6e" stroke-width="0.65"/>
<line x1="276.50" y1="432.46" x2="276.50" y2="434.96" stroke="#6e6e6e" stroke-width="0.65"/>
<line x1="351.26" y1="432.46" x2="351.26" y2="434.96" stroke="#6e6e6e" stroke-width="0.65"/>
<rect x="298.22" y="431.81" width="28.50" height="3.80" fill="#0000f0" stroke="#000" stroke-width="0.65"/>
<line x1="317.62" y1="431.81" x2="317.62" y2="435.61" stroke="#000" stroke-width="0.75"/>
<line x1="272.50" y1="433.71" x2="276.40" y2="433.71" stroke="#000" stroke-width="0.75"/>
<line x1="363.70" y1="433.71" x2="367.80" y2="433.71" stroke="#000" stroke-width="0.75"/>
<rect x="263.20" y="431.41" width="6.30" height="5.50" fill="#9c9c9c"/>
<text x="372.20" y="435.91" font-size="8.0" transform="rotate(0.03 372.20 435.91)" textLength="27.3" lengthAdjust="spacingAndGlyphs">1.4e-59</text>
<text x="370.80" y="433.81" font-size="5.6" font-weight="bold" transform="rotate(0.03 370.80 433.81)">*</text>
<line x1="305.23" y1="441.57" x2="340.75" y2="441.57" stroke="#6e6e6e" stroke-width="0.65"/>
<line x1="305.23" y1="440.32" x2="305.23" y2="442.82" stroke="#6e6e6e" stroke-width="0.65"/>
<line x1="340.75" y1="440.32" x2="340.75" y2="442.82" stroke="#6e6e6e" stroke-width="0.65"/>
<rect x="317.15" y="439.67" width="11.92" height="3.80" fill="#0000f0" stroke="#000" stroke-width="0.65"/>
<line x1="323.93" y1="439.67" x2="323.93" y2="443.47" stroke="#000" stroke-width="0.75"/>
<line x1="272.50" y1="441.57" x2="276.40" y2="441.57" stroke="#000" stroke-width="0.75"/>
<line x1="363.70" y1="441.57" x2="367.80" y2="441.57" stroke="#000" stroke-width="0.75"/>
<rect x="263.20" y="439.27" width="6.30" height="5.50" fill="#f0b732"/>
<text x="372.20" y="443.77" font-size="8.0" transform="rotate(0.03 372.20 443.77)" textLength="27.3" lengthAdjust="spacingAndGlyphs">2.7e-21</text>
<text x="370.80" y="441.67" font-size="5.6" font-weight="bold" transform="rotate(0.03 370.80 441.67)">*</text>
<line x1="305.23" y1="449.44" x2="338.64" y2="449.44" stroke="#6e6e6e" stroke-width="0.65"/>
<line x1="305.23" y1="448.19" x2="305.23" y2="450.69" stroke="#6e6e6e" stroke-width="0.65"/>
<line x1="338.64" y1="448.19" x2="338.64" y2="450.69" stroke="#6e6e6e" stroke-width="0.65"/>
<rect x="316.92" y="447.54" width="10.98" height="3.80" fill="#0000f0" stroke="#000" stroke-width="0.65"/>
<line x1="323.93" y1="447.54" x2="323.93" y2="451.34" stroke="#000" stroke-width="0.75"/>
<line x1="272.50" y1="449.44" x2="276.40" y2="449.44" stroke="#000" stroke-width="0.75"/>
<line x1="363.70" y1="449.44" x2="367.80" y2="449.44" stroke="#000" stroke-width="0.75"/>
<rect x="263.20" y="447.14" width="6.30" height="5.50" fill="#f0b732"/>
<text x="372.20" y="451.64" font-size="8.0" transform="rotate(0.03 372.20 451.64)" textLength="27.3" lengthAdjust="spacingAndGlyphs">2.2e-24</text>
<text x="370.80" y="449.54" font-size="5.6" font-weight="bold" transform="rotate(0.03 370.80 449.54)">*</text>
<line x1="311.07" y1="457.30" x2="339.58" y2="457.30" stroke="#6e6e6e" stroke-width="0.65"/>
<line x1="311.07" y1="456.05" x2="311.07" y2="458.55" stroke="#6e6e6e" stroke-width="0.65"/>
<line x1="339.58" y1="456.05" x2="339.58" y2="458.55" stroke="#6e6e6e" stroke-width="0.65"/>
<rect x="320.65" y="455.40" width="10.05" height="3.80" fill="#d2d2d2" stroke="#000" stroke-width="0.65"/>
<line x1="323.46" y1="455.40" x2="323.46" y2="459.20" stroke="#000" stroke-width="0.75"/>
<line x1="272.50" y1="457.30" x2="276.40" y2="457.30" stroke="#000" stroke-width="0.75"/>
<line x1="363.70" y1="457.30" x2="367.80" y2="457.30" stroke="#000" stroke-width="0.75"/>
<rect x="263.20" y="455.00" width="6.30" height="5.50" fill="#e0502c"/>
<text x="372.20" y="459.50" font-size="8.0" transform="rotate(0.03 372.20 459.50)" textLength="27.3" lengthAdjust="spacingAndGlyphs">1.9e-01</text>
<line x1="312.48" y1="465.16" x2="341.45" y2="465.16" stroke="#6e6e6e" stroke-width="0.65"/>
<line x1="312.48" y1="463.91" x2="312.48" y2="466.41" stroke="#6e6e6e" stroke-width="0.65"/>
<line x1="341.45" y1="463.91" x2="341.45" y2="466.41" stroke="#6e6e6e" stroke-width="0.65"/>
<rect x="321.59" y="463.26" width="10.05" height="3.80" fill="#d2d2d2" stroke="#000" stroke-width="0.65"/>
<line x1="324.39" y1="463.26" x2="324.39" y2="467.06" stroke="#000" stroke-width="0.75"/>
<line x1="272.50" y1="465.16" x2="276.40" y2="465.16" stroke="#000" stroke-width="0.75"/>
<line x1="363.70" y1="465.16" x2="367.80" y2="465.16" stroke="#000" stroke-width="0.75"/>
<rect x="263.20" y="462.86" width="6.30" height="5.50" fill="#e0502c"/>
<text x="372.20" y="467.36" font-size="8.0" transform="rotate(0.03 372.20 467.36)" textLength="27.3" lengthAdjust="spacingAndGlyphs">9.1e-01</text>
<line x1="307.34" y1="473.02" x2="329.30" y2="473.02" stroke="#6e6e6e" stroke-width="0.65"/>
<line x1="307.34" y1="471.77" x2="307.34" y2="474.27" stroke="#6e6e6e" stroke-width="0.65"/>
<line x1="329.30" y1="471.77" x2="329.30" y2="474.27" stroke="#6e6e6e" stroke-width="0.65"/>
<rect x="314.58" y="471.12" width="7.24" height="3.80" fill="#0000f0" stroke="#000" stroke-width="0.65"/>
<line x1="318.55" y1="471.12" x2="318.55" y2="474.92" stroke="#000" stroke-width="0.75"/>
<line x1="272.50" y1="473.02" x2="276.40" y2="473.02" stroke="#000" stroke-width="0.75"/>
<line x1="363.70" y1="473.02" x2="367.80" y2="473.02" stroke="#000" stroke-width="0.75"/>
<rect x="263.20" y="470.72" width="6.30" height="5.50" fill="#e0502c"/>
<text x="372.20" y="475.22" font-size="8.0" transform="rotate(0.03 372.20 475.22)" textLength="27.3" lengthAdjust="spacingAndGlyphs">8.9e-58</text>
<text x="370.80" y="473.12" font-size="5.6" font-weight="bold" transform="rotate(0.03 370.80 473.12)">*</text>
<line x1="307.34" y1="480.88" x2="331.40" y2="480.88" stroke="#6e6e6e" stroke-width="0.65"/>
<line x1="307.34" y1="479.63" x2="307.34" y2="482.13" stroke="#6e6e6e" stroke-width="0.65"/>
<line x1="331.40" y1="479.63" x2="331.40" y2="482.13" stroke="#6e6e6e" stroke-width="0.65"/>
<rect x="315.28" y="478.98" width="7.71" height="3.80" fill="#0000f0" stroke="#000" stroke-width="0.65"/>
<line x1="319.25" y1="478.98" x2="319.25" y2="482.78" stroke="#000" stroke-width="0.75"/>
<line x1="272.50" y1="480.88" x2="276.40" y2="480.88" stroke="#000" stroke-width="0.75"/>
<line x1="363.70" y1="480.88" x2="367.80" y2="480.88" stroke="#000" stroke-width="0.75"/>
<rect x="263.20" y="478.58" width="6.30" height="5.50" fill="#e0502c"/>
<text x="372.20" y="483.08" font-size="8.0" transform="rotate(0.03 372.20 483.08)" textLength="27.3" lengthAdjust="spacingAndGlyphs">2.3e-42</text>
<text x="370.80" y="480.98" font-size="5.6" font-weight="bold" transform="rotate(0.03 370.80 480.98)">*</text>
<line x1="297.52" y1="488.75" x2="338.64" y2="488.75" stroke="#6e6e6e" stroke-width="0.65"/>
<line x1="297.52" y1="487.50" x2="297.52" y2="490.00" stroke="#6e6e6e" stroke-width="0.65"/>
<line x1="338.64" y1="487.50" x2="338.64" y2="490.00" stroke="#6e6e6e" stroke-width="0.65"/>
<rect x="311.31" y="486.85" width="14.25" height="3.80" fill="#0000f0" stroke="#000" stroke-width="0.65"/>
<line x1="319.25" y1="486.85" x2="319.25" y2="490.65" stroke="#000" stroke-width="0.75"/>
<line x1="272.50" y1="488.75" x2="276.40" y2="488.75" stroke="#000" stroke-width="0.75"/>
<line x1="363.70" y1="488.75" x2="367.80" y2="488.75" stroke="#000" stroke-width="0.75"/>
<rect x="263.20" y="486.45" width="6.30" height="5.50" fill="#e0502c"/>
<text x="372.20" y="490.95" font-size="8.0" transform="rotate(0.03 372.20 490.95)" textLength="27.3" lengthAdjust="spacingAndGlyphs">5.6e-50</text>
<text x="370.80" y="488.85" font-size="5.6" font-weight="bold" transform="rotate(0.03 370.80 488.85)">*</text>
<line x1="302.20" y1="496.61" x2="334.91" y2="496.61" stroke="#6e6e6e" stroke-width="0.65"/>
<line x1="302.20" y1="495.36" x2="302.20" y2="497.86" stroke="#6e6e6e" stroke-width="0.65"/>
<line x1="334.91" y1="495.36" x2="334.91" y2="497.86" stroke="#6e6e6e" stroke-width="0.65"/>
<rect x="312.94" y="494.71" width="10.98" height="3.80" fill="#0000f0" stroke="#000" stroke-width="0.65"/>
<line x1="319.25" y1="494.71" x2="319.25" y2="498.51" stroke="#000" stroke-width="0.75"/>
<line x1="272.50" y1="496.61" x2="276.40" y2="496.61" stroke="#000" stroke-width="0.75"/>
<line x1="363.70" y1="496.61" x2="367.80" y2="496.61" stroke="#000" stroke-width="0.75"/>
<rect x="263.20" y="494.31" width="6.30" height="5.50" fill="#e0502c"/>
<text x="372.20" y="498.81" font-size="8.0" transform="rotate(0.03 372.20 498.81)" textLength="27.3" lengthAdjust="spacingAndGlyphs">1.0e-54</text>
<text x="370.80" y="496.71" font-size="5.6" font-weight="bold" transform="rotate(0.03 370.80 496.71)">*</text>
<line x1="304.77" y1="504.47" x2="334.91" y2="504.47" stroke="#6e6e6e" stroke-width="0.65"/>
<line x1="304.77" y1="503.22" x2="304.77" y2="505.72" stroke="#6e6e6e" stroke-width="0.65"/>
<line x1="334.91" y1="503.22" x2="334.91" y2="505.72" stroke="#6e6e6e" stroke-width="0.65"/>
<rect x="314.81" y="502.57" width="9.58" height="3.80" fill="#0000f0" stroke="#000" stroke-width="0.65"/>
<line x1="319.72" y1="502.57" x2="319.72" y2="506.37" stroke="#000" stroke-width="0.75"/>
<line x1="272.50" y1="504.47" x2="276.40" y2="504.47" stroke="#000" stroke-width="0.75"/>
<line x1="363.70" y1="504.47" x2="367.80" y2="504.47" stroke="#000" stroke-width="0.75"/>
<rect x="263.20" y="502.17" width="6.30" height="5.50" fill="#f0b732"/>
<text x="372.20" y="506.67" font-size="8.0" transform="rotate(0.03 372.20 506.67)" textLength="27.3" lengthAdjust="spacingAndGlyphs">4.5e-32</text>
<text x="370.80" y="504.57" font-size="5.6" font-weight="bold" transform="rotate(0.03 370.80 504.57)">*</text>
<line x1="309.21" y1="512.33" x2="335.61" y2="512.33" stroke="#6e6e6e" stroke-width="0.65"/>
<line x1="309.21" y1="511.08" x2="309.21" y2="513.58" stroke="#6e6e6e" stroke-width="0.65"/>
<line x1="335.61" y1="511.08" x2="335.61" y2="513.58" stroke="#6e6e6e" stroke-width="0.65"/>
<rect x="318.32" y="510.43" width="8.64" height="3.80" fill="#0000f0" stroke="#000" stroke-width="0.65"/>
<line x1="322.29" y1="510.43" x2="322.29" y2="514.23" stroke="#000" stroke-width="0.75"/>
<line x1="272.50" y1="512.33" x2="276.40" y2="512.33" stroke="#000" stroke-width="0.75"/>
<line x1="363.70" y1="512.33" x2="367.80" y2="512.33" stroke="#000" stroke-width="0.75"/>
<rect x="263.20" y="510.03" width="6.30" height="5.50" fill="#f0b732"/>
<text x="372.20" y="514.53" font-size="8.0" transform="rotate(0.03 372.20 514.53)" textLength="27.3" lengthAdjust="spacingAndGlyphs">9.4e-14</text>
<text x="370.80" y="512.43" font-size="5.6" font-weight="bold" transform="rotate(0.03 370.80 512.43)">*</text>
<line x1="309.21" y1="520.19" x2="338.41" y2="520.19" stroke="#6e6e6e" stroke-width="0.65"/>
<line x1="309.21" y1="518.94" x2="309.21" y2="521.44" stroke="#6e6e6e" stroke-width="0.65"/>
<line x1="338.41" y1="518.94" x2="338.41" y2="521.44" stroke="#6e6e6e" stroke-width="0.65"/>
<rect x="318.79" y="518.29" width="9.81" height="3.80" fill="#0000f0" stroke="#000" stroke-width="0.65"/>
<line x1="323.46" y1="518.29" x2="323.46" y2="522.09" stroke="#000" stroke-width="0.75"/>
<line x1="272.50" y1="520.19" x2="276.40" y2="520.19" stroke="#000" stroke-width="0.75"/>
<line x1="363.70" y1="520.19" x2="367.80" y2="520.19" stroke="#000" stroke-width="0.75"/>
<rect x="263.20" y="517.89" width="6.30" height="5.50" fill="#f0b732"/>
<text x="372.20" y="522.39" font-size="8.0" transform="rotate(0.03 372.20 522.39)" textLength="27.3" lengthAdjust="spacingAndGlyphs">5.2e-15</text>
<text x="370.80" y="520.29" font-size="5.6" font-weight="bold" transform="rotate(0.03 370.80 520.29)">*</text>
<line x1="305.23" y1="528.06" x2="340.98" y2="528.06" stroke="#6e6e6e" stroke-width="0.65"/>
<line x1="305.23" y1="526.81" x2="305.23" y2="529.31" stroke="#6e6e6e" stroke-width="0.65"/>
<line x1="340.98" y1="526.81" x2="340.98" y2="529.31" stroke="#6e6e6e" stroke-width="0.65"/>
<rect x="317.38" y="526.16" width="11.92" height="3.80" fill="#ee0000" stroke="#000" stroke-width="0.65"/>
<line x1="324.63" y1="526.16" x2="324.63" y2="529.96" stroke="#000" stroke-width="0.75"/>
<line x1="272.50" y1="528.06" x2="276.40" y2="528.06" stroke="#000" stroke-width="0.75"/>
<line x1="363.70" y1="528.06" x2="367.80" y2="528.06" stroke="#000" stroke-width="0.75"/>
<rect x="263.20" y="525.76" width="6.30" height="5.50" fill="#f0b732"/>
<text x="372.20" y="530.26" font-size="8.0" transform="rotate(0.03 372.20 530.26)" textLength="27.3" lengthAdjust="spacingAndGlyphs">3.5e-18</text>
<text x="370.80" y="528.16" font-size="5.6" font-weight="bold" transform="rotate(0.03 370.80 528.16)">*</text>
<line x1="305.23" y1="535.92" x2="337.24" y2="535.92" stroke="#6e6e6e" stroke-width="0.65"/>
<line x1="305.23" y1="534.67" x2="305.23" y2="537.17" stroke="#6e6e6e" stroke-width="0.65"/>
<line x1="337.24" y1="534.67" x2="337.24" y2="537.17" stroke="#6e6e6e" stroke-width="0.65"/>
<rect x="316.21" y="534.02" width="10.51" height="3.80" fill="#0000f0" stroke="#000" stroke-width="0.65"/>
<line x1="321.12" y1="534.02" x2="321.12" y2="537.82" stroke="#000" stroke-width="0.75"/>
<line x1="272.50" y1="535.92" x2="276.40" y2="535.92" stroke="#000" stroke-width="0.75"/>
<line x1="363.70" y1="535.92" x2="367.80" y2="535.92" stroke="#000" stroke-width="0.75"/>
<rect x="263.20" y="533.62" width="6.30" height="5.50" fill="#f0b732"/>
<text x="372.20" y="538.12" font-size="8.0" transform="rotate(0.03 372.20 538.12)" textLength="27.3" lengthAdjust="spacingAndGlyphs">6.9e-14</text>
<text x="370.80" y="536.02" font-size="5.6" font-weight="bold" transform="rotate(0.03 370.80 536.02)">*</text>
<line x1="306.40" y1="543.78" x2="329.77" y2="543.78" stroke="#6e6e6e" stroke-width="0.65"/>
<line x1="306.40" y1="542.53" x2="306.40" y2="545.03" stroke="#6e6e6e" stroke-width="0.65"/>
<line x1="329.77" y1="542.53" x2="329.77" y2="545.03" stroke="#6e6e6e" stroke-width="0.65"/>
<rect x="314.11" y="541.88" width="7.94" height="3.80" fill="#0000f0" stroke="#000" stroke-width="0.65"/>
<line x1="318.08" y1="541.88" x2="318.08" y2="545.68" stroke="#000" stroke-width="0.75"/>
<line x1="272.50" y1="543.78" x2="276.40" y2="543.78" stroke="#000" stroke-width="0.75"/>
<line x1="363.70" y1="543.78" x2="367.80" y2="543.78" stroke="#000" stroke-width="0.75"/>
<rect x="263.20" y="541.48" width="6.30" height="5.50" fill="#f0b732"/>
<text x="372.20" y="545.98" font-size="8.0" transform="rotate(0.03 372.20 545.98)" textLength="27.3" lengthAdjust="spacingAndGlyphs">1.9e-53</text>
<text x="370.80" y="543.88" font-size="5.6" font-weight="bold" transform="rotate(0.03 370.80 543.88)">*</text>
<line x1="309.91" y1="551.64" x2="329.77" y2="551.64" stroke="#6e6e6e" stroke-width="0.65"/>
<line x1="309.91" y1="550.39" x2="309.91" y2="552.89" stroke="#6e6e6e" stroke-width="0.65"/>
<line x1="329.77" y1="550.39" x2="329.77" y2="552.89" stroke="#6e6e6e" stroke-width="0.65"/>
<rect x="316.68" y="549.74" width="6.78" height="3.80" fill="#0000f0" stroke="#000" stroke-width="0.65"/>
<line x1="319.95" y1="549.74" x2="319.95" y2="553.54" stroke="#000" stroke-width="0.75"/>
<line x1="272.50" y1="551.64" x2="276.40" y2="551.64" stroke="#000" stroke-width="0.75"/>
<line x1="363.70" y1="551.64" x2="367.80" y2="551.64" stroke="#000" stroke-width="0.75"/>
<rect x="263.20" y="549.34" width="6.30" height="5.50" fill="#f0b732"/>
<text x="372.20" y="553.84" font-size="8.0" transform="rotate(0.03 372.20 553.84)" textLength="27.3" lengthAdjust="spacingAndGlyphs">1.1e-45</text>
<text x="370.80" y="551.74" font-size="5.6" font-weight="bold" transform="rotate(0.03 370.80 551.74)">*</text>
<line x1="308.74" y1="559.50" x2="330.23" y2="559.50" stroke="#6e6e6e" stroke-width="0.65"/>
<line x1="308.74" y1="558.25" x2="308.74" y2="560.75" stroke="#6e6e6e" stroke-width="0.65"/>
<line x1="330.23" y1="558.25" x2="330.23" y2="560.75" stroke="#6e6e6e" stroke-width="0.65"/>
<rect x="316.21" y="557.60" width="6.78" height="3.80" fill="#0000f0" stroke="#000" stroke-width="0.65"/>
<line x1="319.49" y1="557.60" x2="319.49" y2="561.40" stroke="#000" stroke-width="0.75"/>
<line x1="272.50" y1="559.50" x2="276.40" y2="559.50" stroke="#000" stroke-width="0.75"/>
<line x1="363.70" y1="559.50" x2="367.80" y2="559.50" stroke="#000" stroke-width="0.75"/>
<rect x="263.20" y="557.20" width="6.30" height="5.50" fill="#f0b732"/>
<text x="372.20" y="561.70" font-size="8.0" transform="rotate(0.03 372.20 561.70)" textLength="27.3" lengthAdjust="spacingAndGlyphs">6.6e-53</text>
<text x="370.80" y="559.60" font-size="5.6" font-weight="bold" transform="rotate(0.03 370.80 559.60)">*</text>
<line x1="304.07" y1="567.37" x2="336.07" y2="567.37" stroke="#6e6e6e" stroke-width="0.65"/>
<line x1="304.07" y1="566.12" x2="304.07" y2="568.62" stroke="#6e6e6e" stroke-width="0.65"/>
<line x1="336.07" y1="566.12" x2="336.07" y2="568.62" stroke="#6e6e6e" stroke-width="0.65"/>
<rect x="315.05" y="565.47" width="10.51" height="3.80" fill="#0000f0" stroke="#000" stroke-width="0.65"/>
<line x1="320.42" y1="565.47" x2="320.42" y2="569.27" stroke="#000" stroke-width="0.75"/>
<line x1="272.50" y1="567.37" x2="276.40" y2="567.37" stroke="#000" stroke-width="0.75"/>
<line x1="363.70" y1="567.37" x2="367.80" y2="567.37" stroke="#000" stroke-width="0.75"/>
<rect x="263.20" y="565.07" width="6.30" height="5.50" fill="#3fa757"/>
<text x="372.20" y="569.57" font-size="8.0" transform="rotate(0.03 372.20 569.57)" textLength="27.3" lengthAdjust="spacingAndGlyphs">4.8e-28</text>
<text x="370.80" y="567.47" font-size="5.6" font-weight="bold" transform="rotate(0.03 370.80 567.47)">*</text>
<line x1="305.93" y1="575.23" x2="336.78" y2="575.23" stroke="#6e6e6e" stroke-width="0.65"/>
<line x1="305.93" y1="573.98" x2="305.93" y2="576.48" stroke="#6e6e6e" stroke-width="0.65"/>
<line x1="336.78" y1="573.98" x2="336.78" y2="576.48" stroke="#6e6e6e" stroke-width="0.65"/>
<rect x="315.98" y="573.33" width="10.28" height="3.80" fill="#0000f0" stroke="#000" stroke-width="0.65"/>
<line x1="321.12" y1="573.33" x2="321.12" y2="577.13" stroke="#000" stroke-width="0.75"/>
<line x1="272.50" y1="575.23" x2="276.40" y2="575.23" stroke="#000" stroke-width="0.75"/>
<line x1="363.70" y1="575.23" x2="367.80" y2="575.23" stroke="#000" stroke-width="0.75"/>
<rect x="263.20" y="572.93" width="6.30" height="5.50" fill="#3fa757"/>
<text x="372.20" y="577.43" font-size="8.0" transform="rotate(0.03 372.20 577.43)" textLength="27.3" lengthAdjust="spacingAndGlyphs">1.6e-20</text>
<text x="370.80" y="575.33" font-size="5.6" font-weight="bold" transform="rotate(0.03 370.80 575.33)">*</text>
<line x1="299.39" y1="583.09" x2="325.09" y2="583.09" stroke="#6e6e6e" stroke-width="0.65"/>
<line x1="299.39" y1="581.84" x2="299.39" y2="584.34" stroke="#6e6e6e" stroke-width="0.65"/>
<line x1="325.09" y1="581.84" x2="325.09" y2="584.34" stroke="#6e6e6e" stroke-width="0.65"/>
<rect x="308.04" y="581.19" width="8.64" height="3.80" fill="#0000f0" stroke="#000" stroke-width="0.65"/>
<line x1="312.24" y1="581.19" x2="312.24" y2="584.99" stroke="#000" stroke-width="0.75"/>
<line x1="272.50" y1="583.09" x2="276.40" y2="583.09" stroke="#000" stroke-width="0.75"/>
<line x1="363.70" y1="583.09" x2="367.80" y2="583.09" stroke="#000" stroke-width="0.75"/>
<rect x="263.20" y="580.79" width="6.30" height="5.50" fill="#e0502c"/>
<text x="372.20" y="585.29" font-size="8.0" transform="rotate(0.03 372.20 585.29)" textLength="31.6" lengthAdjust="spacingAndGlyphs">5.4e-126</text>
<text x="370.80" y="583.19" font-size="5.6" font-weight="bold" transform="rotate(0.03 370.80 583.19)">*</text>
<line x1="302.20" y1="590.95" x2="329.07" y2="590.95" stroke="#6e6e6e" stroke-width="0.65"/>
<line x1="302.20" y1="589.70" x2="302.20" y2="592.20" stroke="#6e6e6e" stroke-width="0.65"/>
<line x1="329.07" y1="589.70" x2="329.07" y2="592.20" stroke="#6e6e6e" stroke-width="0.65"/>
<rect x="311.31" y="589.05" width="8.88" height="3.80" fill="#0000f0" stroke="#000" stroke-width="0.65"/>
<line x1="315.28" y1="589.05" x2="315.28" y2="592.85" stroke="#000" stroke-width="0.75"/>
<line x1="272.50" y1="590.95" x2="276.40" y2="590.95" stroke="#000" stroke-width="0.75"/>
<line x1="363.70" y1="590.95" x2="367.80" y2="590.95" stroke="#000" stroke-width="0.75"/>
<rect x="263.20" y="588.65" width="6.30" height="5.50" fill="#e0502c"/>
<text x="372.20" y="593.15" font-size="8.0" transform="rotate(0.03 372.20 593.15)" textLength="27.3" lengthAdjust="spacingAndGlyphs">1.1e-77</text>
<text x="370.80" y="591.05" font-size="5.6" font-weight="bold" transform="rotate(0.03 370.80 591.05)">*</text>
<line x1="305.93" y1="598.81" x2="332.10" y2="598.81" stroke="#6e6e6e" stroke-width="0.65"/>
<line x1="305.93" y1="597.56" x2="305.93" y2="600.06" stroke="#6e6e6e" stroke-width="0.65"/>
<line x1="332.10" y1="597.56" x2="332.10" y2="600.06" stroke="#6e6e6e" stroke-width="0.65"/>
<rect x="314.58" y="596.91" width="8.88" height="3.80" fill="#0000f0" stroke="#000" stroke-width="0.65"/>
<line x1="318.55" y1="596.91" x2="318.55" y2="600.71" stroke="#000" stroke-width="0.75"/>
<line x1="272.50" y1="598.81" x2="276.40" y2="598.81" stroke="#000" stroke-width="0.75"/>
<line x1="363.70" y1="598.81" x2="367.80" y2="598.81" stroke="#000" stroke-width="0.75"/>
<rect x="263.20" y="596.51" width="6.30" height="5.50" fill="#f0b732"/>
<text x="372.20" y="601.01" font-size="8.0" transform="rotate(0.03 372.20 601.01)" textLength="27.3" lengthAdjust="spacingAndGlyphs">1.9e-36</text>
<text x="370.80" y="598.91" font-size="5.6" font-weight="bold" transform="rotate(0.03 370.80 598.91)">*</text>
<line x1="305.93" y1="606.68" x2="340.75" y2="606.68" stroke="#6e6e6e" stroke-width="0.65"/>
<line x1="305.93" y1="605.43" x2="305.93" y2="607.93" stroke="#6e6e6e" stroke-width="0.65"/>
<line x1="340.75" y1="605.43" x2="340.75" y2="607.93" stroke="#6e6e6e" stroke-width="0.65"/>
<rect x="316.21" y="604.78" width="12.38" height="3.80" fill="#0000f0" stroke="#000" stroke-width="0.65"/>
<line x1="322.29" y1="604.78" x2="322.29" y2="608.58" stroke="#000" stroke-width="0.75"/>
<line x1="272.50" y1="606.68" x2="276.40" y2="606.68" stroke="#000" stroke-width="0.75"/>
<line x1="363.70" y1="606.68" x2="367.80" y2="606.68" stroke="#000" stroke-width="0.75"/>
<rect x="263.20" y="604.38" width="6.30" height="5.50" fill="#f0b732"/>
<text x="372.20" y="608.88" font-size="8.0" transform="rotate(0.03 372.20 608.88)" textLength="27.3" lengthAdjust="spacingAndGlyphs">4.6e-11</text>
<text x="370.80" y="606.78" font-size="5.6" font-weight="bold" transform="rotate(0.03 370.80 606.78)">*</text>
<line x1="308.27" y1="614.54" x2="343.79" y2="614.54" stroke="#6e6e6e" stroke-width="0.65"/>
<line x1="308.27" y1="613.29" x2="308.27" y2="615.79" stroke="#6e6e6e" stroke-width="0.65"/>
<line x1="343.79" y1="613.29" x2="343.79" y2="615.79" stroke="#6e6e6e" stroke-width="0.65"/>
<rect x="319.25" y="612.64" width="12.38" height="3.80" fill="#d2d2d2" stroke="#000" stroke-width="0.65"/>
<line x1="324.39" y1="612.64" x2="324.39" y2="616.44" stroke="#000" stroke-width="0.75"/>
<line x1="272.50" y1="614.54" x2="276.40" y2="614.54" stroke="#000" stroke-width="0.75"/>
<line x1="363.70" y1="614.54" x2="367.80" y2="614.54" stroke="#000" stroke-width="0.75"/>
<rect x="263.20" y="612.24" width="6.30" height="5.50" fill="#3fa757"/>
<line x1="309.21" y1="622.40" x2="336.78" y2="622.40" stroke="#6e6e6e" stroke-width="0.65"/>
<line x1="309.21" y1="621.15" x2="309.21" y2="623.65" stroke="#6e6e6e" stroke-width="0.65"/>
<line x1="336.78" y1="621.15" x2="336.78" y2="623.65" stroke="#6e6e6e" stroke-width="0.65"/>
<rect x="318.32" y="620.50" width="9.35" height="3.80" fill="#0000f0" stroke="#000" stroke-width="0.65"/>
<line x1="322.76" y1="620.50" x2="322.76" y2="624.30" stroke="#000" stroke-width="0.75"/>
<line x1="272.50" y1="622.40" x2="276.40" y2="622.40" stroke="#000" stroke-width="0.75"/>
<line x1="363.70" y1="622.40" x2="367.80" y2="622.40" stroke="#000" stroke-width="0.75"/>
<rect x="263.20" y="620.10" width="6.30" height="5.50" fill="#3fa757"/>
<text x="372.20" y="624.60" font-size="8.0" transform="rotate(0.03 372.20 624.60)" textLength="27.3" lengthAdjust="spacingAndGlyphs">4.1e-09</text>
<text x="370.80" y="622.50" font-size="5.6" font-weight="bold" transform="rotate(0.03 370.80 622.50)">*</text>
<path d="M276.40 626.30V421.30H363.70V626.30" stroke="#000" stroke-width="0.8" fill="none"/>
<line x1="276.40" y1="626.30" x2="363.70" y2="626.30" stroke="#000" stroke-width="0.8"/>
<line x1="276.50" y1="626.30" x2="276.50" y2="630.60" stroke="#000" stroke-width="0.8"/>
<text x="276.50" y="640.80" font-size="7.6" text-anchor="middle" transform="rotate(0.03 276.50 640.80)">−2</text>
<line x1="320.40" y1="626.30" x2="320.40" y2="630.60" stroke="#000" stroke-width="0.8"/>
<text x="320.40" y="640.80" font-size="7.6" text-anchor="middle" transform="rotate(0.03 320.40 640.80)">0</text>
<line x1="363.30" y1="626.30" x2="363.30" y2="630.60" stroke="#000" stroke-width="0.8"/>
<text x="363.30" y="640.80" font-size="7.6" text-anchor="middle" transform="rotate(0.03 363.30 640.80)">2</text>
<text x="320.40" y="648.90" font-size="7.6" text-anchor="middle" transform="rotate(0.03 320.40 648.90)">Z-score</text>
<text x="320.30" y="415.40" font-size="7.3" text-anchor="middle" transform="rotate(0.03 320.30 415.40)">Reprogramming-competent</text>
<rect x="118.30" y="653.90" width="6.30" height="6.00" fill="#e0502c"/>
<text x="127.70" y="659.40" font-size="7.3" transform="rotate(0.03 127.70 659.40)">Failing</text>
<rect x="118.30" y="661.20" width="6.30" height="6.00" fill="#f0b732"/>
<text x="127.70" y="666.70" font-size="7.3" transform="rotate(0.03 127.70 666.70)">Struggling</text>
<rect x="118.30" y="668.50" width="6.30" height="6.00" fill="#3fa757"/>
<text x="127.70" y="674.00" font-size="7.3" transform="rotate(0.03 127.70 674.00)">Succeeding</text>
<rect x="118.30" y="675.80" width="6.30" height="6.00" fill="#9c9c9c"/>
<text x="127.70" y="681.30" font-size="7.3" transform="rotate(0.03 127.70 681.30)">N/A</text>
<rect x="201.20" y="653.10" width="15.80" height="3.80" fill="#e01a0a" stroke="#000" stroke-width="0.6"/>
<text x="220.10" y="657.60" font-size="7.3" transform="rotate(0.03 220.10 657.60)">Up-regulated</text>
<rect x="201.20" y="663.30" width="15.80" height="3.80" fill="#0000cd" stroke="#000" stroke-width="0.6"/>
<text x="220.10" y="667.80" font-size="7.3" transform="rotate(0.03 220.10 667.80)">Down-regulated</text>
<rect x="201.20" y="674.70" width="15.80" height="3.80" fill="#999999" stroke="#000" stroke-width="0.6"/>
<text x="220.10" y="679.20" font-size="7.3" transform="rotate(0.03 220.10 679.20)">No change</text>
</svg>
</body></html>
